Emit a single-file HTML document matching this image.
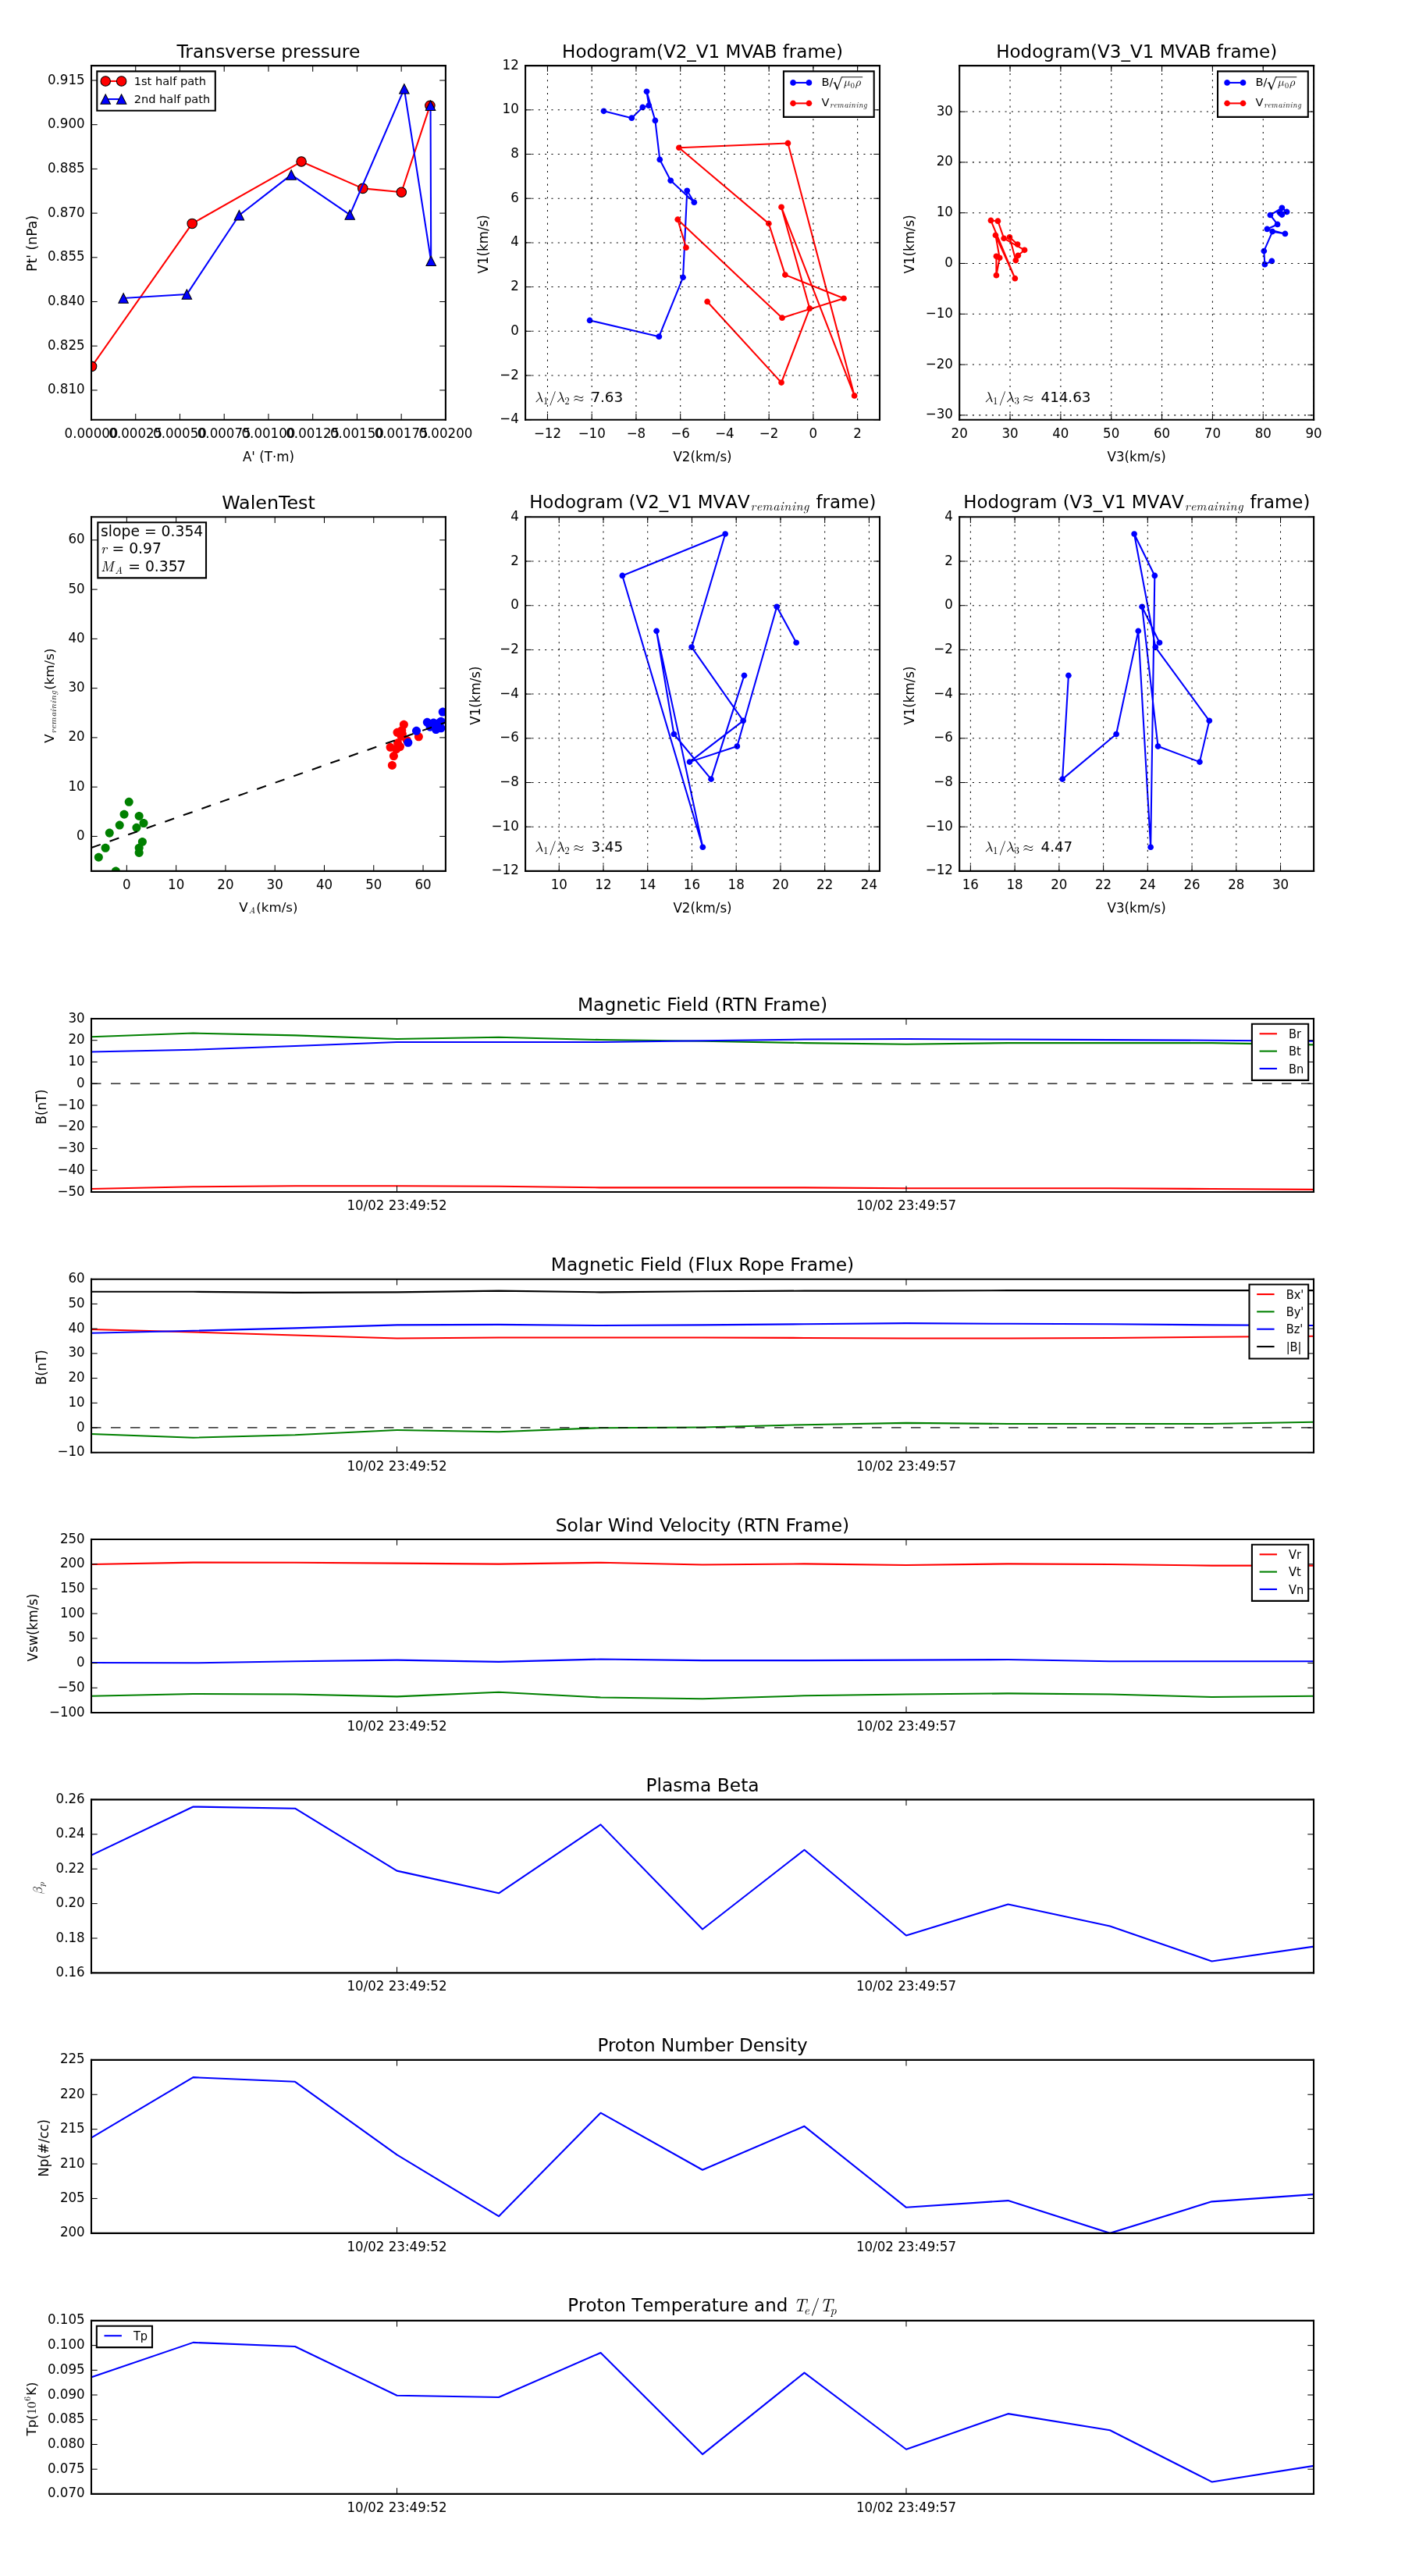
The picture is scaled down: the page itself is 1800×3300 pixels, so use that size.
<!DOCTYPE html>
<html><head><meta charset="utf-8"><title>Flux rope analysis</title>
<style>html,body{margin:0;padding:0;background:#fff;}svg{display:block;will-change:transform;}</style>
</head><body>
<svg width="1800" height="3300" viewBox="0 0 864 1584" version="1.1">
<defs>
<style type="text/css">*{stroke-linejoin: round; stroke-linecap: butt}</style>
</defs>
<g id="figure_1">
<g id="patch_1">
<path d="M 0 1584 L 864 1584 L 864 0 L 0 0 z" style="fill: #ffffff"/>
</g>
<g id="axes_1">
<g id="patch_2">
<path d="M 56.16 258.096 L 274.032 258.096 L 274.032 40.368 L 56.16 40.368 z" style="fill: #ffffff"/>
</g>
<g id="line2d_1">
<path d="M 56.457202 225.294093 L 118.167047 137.470259 L 185.317306 99.387358 L 223.089326 115.864041 L 246.87171 118.195648 L 264.436477 64.879585" clip-path="url(#pbce40ba86c)" style="fill: none; stroke: #ff0000; stroke-linecap: square"/>
<g clip-path="url(#pbce40ba86c)">
<path d="M 0 3 C 0.795609 3 1.55874 2.683901 2.12132 2.12132 C 2.683901 1.55874 3 0.795609 3 0 C 3 -0.795609 2.683901 -1.55874 2.12132 -2.12132 C 1.55874 -2.683901 0.795609 -3 0 -3 C -0.795609 -3 -1.55874 -2.683901 -2.12132 -2.12132 C -2.683901 -1.55874 -3 -0.795609 -3 0 C -3 0.795609 -2.683901 1.55874 -2.12132 2.12132 C -1.55874 2.683901 -0.795609 3 0 3 z" transform="translate(56.457202 225.294093)" style="fill: #ff0000; stroke: #000000; stroke-width: 0.5"/>
<path d="M 0 3 C 0.795609 3 1.55874 2.683901 2.12132 2.12132 C 2.683901 1.55874 3 0.795609 3 0 C 3 -0.795609 2.683901 -1.55874 2.12132 -2.12132 C 1.55874 -2.683901 0.795609 -3 0 -3 C -0.795609 -3 -1.55874 -2.683901 -2.12132 -2.12132 C -2.683901 -1.55874 -3 -0.795609 -3 0 C -3 0.795609 -2.683901 1.55874 -2.12132 2.12132 C -1.55874 2.683901 -0.795609 3 0 3 z" transform="translate(118.167047 137.470259)" style="fill: #ff0000; stroke: #000000; stroke-width: 0.5"/>
<path d="M 0 3 C 0.795609 3 1.55874 2.683901 2.12132 2.12132 C 2.683901 1.55874 3 0.795609 3 0 C 3 -0.795609 2.683901 -1.55874 2.12132 -2.12132 C 1.55874 -2.683901 0.795609 -3 0 -3 C -0.795609 -3 -1.55874 -2.683901 -2.12132 -2.12132 C -2.683901 -1.55874 -3 -0.795609 -3 0 C -3 0.795609 -2.683901 1.55874 -2.12132 2.12132 C -1.55874 2.683901 -0.795609 3 0 3 z" transform="translate(185.317306 99.387358)" style="fill: #ff0000; stroke: #000000; stroke-width: 0.5"/>
<path d="M 0 3 C 0.795609 3 1.55874 2.683901 2.12132 2.12132 C 2.683901 1.55874 3 0.795609 3 0 C 3 -0.795609 2.683901 -1.55874 2.12132 -2.12132 C 1.55874 -2.683901 0.795609 -3 0 -3 C -0.795609 -3 -1.55874 -2.683901 -2.12132 -2.12132 C -2.683901 -1.55874 -3 -0.795609 -3 0 C -3 0.795609 -2.683901 1.55874 -2.12132 2.12132 C -1.55874 2.683901 -0.795609 3 0 3 z" transform="translate(223.089326 115.864041)" style="fill: #ff0000; stroke: #000000; stroke-width: 0.5"/>
<path d="M 0 3 C 0.795609 3 1.55874 2.683901 2.12132 2.12132 C 2.683901 1.55874 3 0.795609 3 0 C 3 -0.795609 2.683901 -1.55874 2.12132 -2.12132 C 1.55874 -2.683901 0.795609 -3 0 -3 C -0.795609 -3 -1.55874 -2.683901 -2.12132 -2.12132 C -2.683901 -1.55874 -3 -0.795609 -3 0 C -3 0.795609 -2.683901 1.55874 -2.12132 2.12132 C -1.55874 2.683901 -0.795609 3 0 3 z" transform="translate(246.87171 118.195648)" style="fill: #ff0000; stroke: #000000; stroke-width: 0.5"/>
<path d="M 0 3 C 0.795609 3 1.55874 2.683901 2.12132 2.12132 C 2.683901 1.55874 3 0.795609 3 0 C 3 -0.795609 2.683901 -1.55874 2.12132 -2.12132 C 1.55874 -2.683901 0.795609 -3 0 -3 C -0.795609 -3 -1.55874 -2.683901 -2.12132 -2.12132 C -2.683901 -1.55874 -3 -0.795609 -3 0 C -3 0.795609 -2.683901 1.55874 -2.12132 2.12132 C -1.55874 2.683901 -0.795609 3 0 3 z" transform="translate(264.436477 64.879585)" style="fill: #ff0000; stroke: #000000; stroke-width: 0.5"/>
</g>
</g>
<g id="line2d_2">
<path d="M 75.887254 183.325181 L 114.902798 180.993575 L 147.078964 132.340725 L 179.099689 107.470259 L 215.161865 132.029845 L 248.581554 54.620518 L 265.058238 160.47544 L 264.747358 64.879585" clip-path="url(#pbce40ba86c)" style="fill: none; stroke: #0000ff; stroke-linecap: square"/>
<g clip-path="url(#pbce40ba86c)">
<path d="M 0 -3 L -3 3 L 3 3 z" transform="translate(75.887254 183.325181)" style="fill: #0000ff; stroke: #000000; stroke-width: 0.5; stroke-linejoin: miter"/>
<path d="M 0 -3 L -3 3 L 3 3 z" transform="translate(114.902798 180.993575)" style="fill: #0000ff; stroke: #000000; stroke-width: 0.5; stroke-linejoin: miter"/>
<path d="M 0 -3 L -3 3 L 3 3 z" transform="translate(147.078964 132.340725)" style="fill: #0000ff; stroke: #000000; stroke-width: 0.5; stroke-linejoin: miter"/>
<path d="M 0 -3 L -3 3 L 3 3 z" transform="translate(179.099689 107.470259)" style="fill: #0000ff; stroke: #000000; stroke-width: 0.5; stroke-linejoin: miter"/>
<path d="M 0 -3 L -3 3 L 3 3 z" transform="translate(215.161865 132.029845)" style="fill: #0000ff; stroke: #000000; stroke-width: 0.5; stroke-linejoin: miter"/>
<path d="M 0 -3 L -3 3 L 3 3 z" transform="translate(248.581554 54.620518)" style="fill: #0000ff; stroke: #000000; stroke-width: 0.5; stroke-linejoin: miter"/>
<path d="M 0 -3 L -3 3 L 3 3 z" transform="translate(265.058238 160.47544)" style="fill: #0000ff; stroke: #000000; stroke-width: 0.5; stroke-linejoin: miter"/>
<path d="M 0 -3 L -3 3 L 3 3 z" transform="translate(264.747358 64.879585)" style="fill: #0000ff; stroke: #000000; stroke-width: 0.5; stroke-linejoin: miter"/>
</g>
</g>
<g id="patch_3">
<path d="M 56.16 258.096 L 56.16 40.368" style="fill: none; stroke: #000000; stroke-linejoin: miter; stroke-linecap: square"/>
</g>
<g id="patch_4">
<path d="M 274.032 258.096 L 274.032 40.368" style="fill: none; stroke: #000000; stroke-linejoin: miter; stroke-linecap: square"/>
</g>
<g id="patch_5">
<path d="M 56.16 258.096 L 274.032 258.096" style="fill: none; stroke: #000000; stroke-linejoin: miter; stroke-linecap: square"/>
</g>
<g id="patch_6">
<path d="M 56.16 40.368 L 274.032 40.368" style="fill: none; stroke: #000000; stroke-linejoin: miter; stroke-linecap: square"/>
</g>
<g id="matplotlib.axis_1">
<g id="xtick_1">
<g id="line2d_3">
<g>
<path d="M 0 0 L 0 -3.7" transform="translate(56.16 258.096)" style="stroke: #000000; stroke-width: 0.5"/>
</g>
</g>
<g id="line2d_4">
<g>
<path d="M 0 0 L 0 3.7" transform="translate(56.16 40.368)" style="stroke: #000000; stroke-width: 0.5"/>
</g>
</g>
<g id="text_1">
<text style="font-size: 8px; font-family: 'DejaVu Sans', 'Liberation Sans', sans-serif; text-anchor: middle" x="56.16" y="269.17475" transform="rotate(-0 56.16 269.17475) translate(56.16 269.17475) scale(1 1.060) translate(-56.16 -269.17475)">0.00000</text>
</g>
</g>
<g id="xtick_2">
<g id="line2d_5">
<g>
<path d="M 0 0 L 0 -3.7" transform="translate(83.394 258.096)" style="stroke: #000000; stroke-width: 0.5"/>
</g>
</g>
<g id="line2d_6">
<g>
<path d="M 0 0 L 0 3.7" transform="translate(83.394 40.368)" style="stroke: #000000; stroke-width: 0.5"/>
</g>
</g>
<g id="text_2">
<text style="font-size: 8px; font-family: 'DejaVu Sans', 'Liberation Sans', sans-serif; text-anchor: middle" x="83.394" y="269.17475" transform="rotate(-0 83.394 269.17475) translate(83.394 269.17475) scale(1 1.060) translate(-83.394 -269.17475)">0.00025</text>
</g>
</g>
<g id="xtick_3">
<g id="line2d_7">
<g>
<path d="M 0 0 L 0 -3.7" transform="translate(110.628 258.096)" style="stroke: #000000; stroke-width: 0.5"/>
</g>
</g>
<g id="line2d_8">
<g>
<path d="M 0 0 L 0 3.7" transform="translate(110.628 40.368)" style="stroke: #000000; stroke-width: 0.5"/>
</g>
</g>
<g id="text_3">
<text style="font-size: 8px; font-family: 'DejaVu Sans', 'Liberation Sans', sans-serif; text-anchor: middle" x="110.628" y="269.17475" transform="rotate(-0 110.628 269.17475) translate(110.628 269.17475) scale(1 1.060) translate(-110.628 -269.17475)">0.00050</text>
</g>
</g>
<g id="xtick_4">
<g id="line2d_9">
<g>
<path d="M 0 0 L 0 -3.7" transform="translate(137.862 258.096)" style="stroke: #000000; stroke-width: 0.5"/>
</g>
</g>
<g id="line2d_10">
<g>
<path d="M 0 0 L 0 3.7" transform="translate(137.862 40.368)" style="stroke: #000000; stroke-width: 0.5"/>
</g>
</g>
<g id="text_4">
<text style="font-size: 8px; font-family: 'DejaVu Sans', 'Liberation Sans', sans-serif; text-anchor: middle" x="137.862" y="269.17475" transform="rotate(-0 137.862 269.17475) translate(137.862 269.17475) scale(1 1.060) translate(-137.862 -269.17475)">0.00075</text>
</g>
</g>
<g id="xtick_5">
<g id="line2d_11">
<g>
<path d="M 0 0 L 0 -3.7" transform="translate(165.096 258.096)" style="stroke: #000000; stroke-width: 0.5"/>
</g>
</g>
<g id="line2d_12">
<g>
<path d="M 0 0 L 0 3.7" transform="translate(165.096 40.368)" style="stroke: #000000; stroke-width: 0.5"/>
</g>
</g>
<g id="text_5">
<text style="font-size: 8px; font-family: 'DejaVu Sans', 'Liberation Sans', sans-serif; text-anchor: middle" x="165.096" y="269.17475" transform="rotate(-0 165.096 269.17475) translate(165.096 269.17475) scale(1 1.060) translate(-165.096 -269.17475)">0.00100</text>
</g>
</g>
<g id="xtick_6">
<g id="line2d_13">
<g>
<path d="M 0 0 L 0 -3.7" transform="translate(192.33 258.096)" style="stroke: #000000; stroke-width: 0.5"/>
</g>
</g>
<g id="line2d_14">
<g>
<path d="M 0 0 L 0 3.7" transform="translate(192.33 40.368)" style="stroke: #000000; stroke-width: 0.5"/>
</g>
</g>
<g id="text_6">
<text style="font-size: 8px; font-family: 'DejaVu Sans', 'Liberation Sans', sans-serif; text-anchor: middle" x="192.33" y="269.17475" transform="rotate(-0 192.33 269.17475) translate(192.33 269.17475) scale(1 1.060) translate(-192.33 -269.17475)">0.00125</text>
</g>
</g>
<g id="xtick_7">
<g id="line2d_15">
<g>
<path d="M 0 0 L 0 -3.7" transform="translate(219.564 258.096)" style="stroke: #000000; stroke-width: 0.5"/>
</g>
</g>
<g id="line2d_16">
<g>
<path d="M 0 0 L 0 3.7" transform="translate(219.564 40.368)" style="stroke: #000000; stroke-width: 0.5"/>
</g>
</g>
<g id="text_7">
<text style="font-size: 8px; font-family: 'DejaVu Sans', 'Liberation Sans', sans-serif; text-anchor: middle" x="219.564" y="269.17475" transform="rotate(-0 219.564 269.17475) translate(219.564 269.17475) scale(1 1.060) translate(-219.564 -269.17475)">0.00150</text>
</g>
</g>
<g id="xtick_8">
<g id="line2d_17">
<g>
<path d="M 0 0 L 0 -3.7" transform="translate(246.798 258.096)" style="stroke: #000000; stroke-width: 0.5"/>
</g>
</g>
<g id="line2d_18">
<g>
<path d="M 0 0 L 0 3.7" transform="translate(246.798 40.368)" style="stroke: #000000; stroke-width: 0.5"/>
</g>
</g>
<g id="text_8">
<text style="font-size: 8px; font-family: 'DejaVu Sans', 'Liberation Sans', sans-serif; text-anchor: middle" x="246.798" y="269.17475" transform="rotate(-0 246.798 269.17475) translate(246.798 269.17475) scale(1 1.060) translate(-246.798 -269.17475)">0.00175</text>
</g>
</g>
<g id="xtick_9">
<g id="line2d_19">
<g>
<path d="M 0 0 L 0 -3.7" transform="translate(274.032 258.096)" style="stroke: #000000; stroke-width: 0.5"/>
</g>
</g>
<g id="line2d_20">
<g>
<path d="M 0 0 L 0 3.7" transform="translate(274.032 40.368)" style="stroke: #000000; stroke-width: 0.5"/>
</g>
</g>
<g id="text_9">
<text style="font-size: 8px; font-family: 'DejaVu Sans', 'Liberation Sans', sans-serif; text-anchor: middle" x="274.032" y="269.17475" transform="rotate(-0 274.032 269.17475) translate(274.032 269.17475) scale(1 1.060) translate(-274.032 -269.17475)">0.00200</text>
</g>
</g>
<g id="text_10">
<text style="font-size: 8px; font-family: 'DejaVu Sans', 'Liberation Sans', sans-serif; text-anchor: middle" x="165.096" y="283.81725" transform="rotate(-0 165.096 283.81725) translate(165.096 283.81725) scale(1 1.060) translate(-165.096 -283.81725)">A' (T·m)</text>
</g>
</g>
<g id="matplotlib.axis_2">
<g id="ytick_1">
<g id="line2d_21">
<g>
<path d="M 0 0 L 3.7 0" transform="translate(56.16 239.952)" style="stroke: #000000; stroke-width: 0.5"/>
</g>
</g>
<g id="line2d_22">
<g>
<path d="M 0 0 L -3.7 0" transform="translate(274.032 239.952)" style="stroke: #000000; stroke-width: 0.5"/>
</g>
</g>
<g id="text_11">
<text style="font-size: 8px; font-family: 'DejaVu Sans', 'Liberation Sans', sans-serif; text-anchor: end" x="52.16" y="242.1595" transform="rotate(-0 52.16 242.1595) translate(52.16 242.1595) scale(1 1.060) translate(-52.16 -242.1595)">0.810</text>
</g>
</g>
<g id="ytick_2">
<g id="line2d_23">
<g>
<path d="M 0 0 L 3.7 0" transform="translate(56.16 212.736)" style="stroke: #000000; stroke-width: 0.5"/>
</g>
</g>
<g id="line2d_24">
<g>
<path d="M 0 0 L -3.7 0" transform="translate(274.032 212.736)" style="stroke: #000000; stroke-width: 0.5"/>
</g>
</g>
<g id="text_12">
<text style="font-size: 8px; font-family: 'DejaVu Sans', 'Liberation Sans', sans-serif; text-anchor: end" x="52.16" y="214.9435" transform="rotate(-0 52.16 214.9435) translate(52.16 214.9435) scale(1 1.060) translate(-52.16 -214.9435)">0.825</text>
</g>
</g>
<g id="ytick_3">
<g id="line2d_25">
<g>
<path d="M 0 0 L 3.7 0" transform="translate(56.16 185.52)" style="stroke: #000000; stroke-width: 0.5"/>
</g>
</g>
<g id="line2d_26">
<g>
<path d="M 0 0 L -3.7 0" transform="translate(274.032 185.52)" style="stroke: #000000; stroke-width: 0.5"/>
</g>
</g>
<g id="text_13">
<text style="font-size: 8px; font-family: 'DejaVu Sans', 'Liberation Sans', sans-serif; text-anchor: end" x="52.16" y="187.7275" transform="rotate(-0 52.16 187.7275) translate(52.16 187.7275) scale(1 1.060) translate(-52.16 -187.7275)">0.840</text>
</g>
</g>
<g id="ytick_4">
<g id="line2d_27">
<g>
<path d="M 0 0 L 3.7 0" transform="translate(56.16 158.304)" style="stroke: #000000; stroke-width: 0.5"/>
</g>
</g>
<g id="line2d_28">
<g>
<path d="M 0 0 L -3.7 0" transform="translate(274.032 158.304)" style="stroke: #000000; stroke-width: 0.5"/>
</g>
</g>
<g id="text_14">
<text style="font-size: 8px; font-family: 'DejaVu Sans', 'Liberation Sans', sans-serif; text-anchor: end" x="52.16" y="160.5115" transform="rotate(-0 52.16 160.5115) translate(52.16 160.5115) scale(1 1.060) translate(-52.16 -160.5115)">0.855</text>
</g>
</g>
<g id="ytick_5">
<g id="line2d_29">
<g>
<path d="M 0 0 L 3.7 0" transform="translate(56.16 131.088)" style="stroke: #000000; stroke-width: 0.5"/>
</g>
</g>
<g id="line2d_30">
<g>
<path d="M 0 0 L -3.7 0" transform="translate(274.032 131.088)" style="stroke: #000000; stroke-width: 0.5"/>
</g>
</g>
<g id="text_15">
<text style="font-size: 8px; font-family: 'DejaVu Sans', 'Liberation Sans', sans-serif; text-anchor: end" x="52.16" y="133.2955" transform="rotate(-0 52.16 133.2955) translate(52.16 133.2955) scale(1 1.060) translate(-52.16 -133.2955)">0.870</text>
</g>
</g>
<g id="ytick_6">
<g id="line2d_31">
<g>
<path d="M 0 0 L 3.7 0" transform="translate(56.16 103.872)" style="stroke: #000000; stroke-width: 0.5"/>
</g>
</g>
<g id="line2d_32">
<g>
<path d="M 0 0 L -3.7 0" transform="translate(274.032 103.872)" style="stroke: #000000; stroke-width: 0.5"/>
</g>
</g>
<g id="text_16">
<text style="font-size: 8px; font-family: 'DejaVu Sans', 'Liberation Sans', sans-serif; text-anchor: end" x="52.16" y="106.0795" transform="rotate(-0 52.16 106.0795) translate(52.16 106.0795) scale(1 1.060) translate(-52.16 -106.0795)">0.885</text>
</g>
</g>
<g id="ytick_7">
<g id="line2d_33">
<g>
<path d="M 0 0 L 3.7 0" transform="translate(56.16 76.656)" style="stroke: #000000; stroke-width: 0.5"/>
</g>
</g>
<g id="line2d_34">
<g>
<path d="M 0 0 L -3.7 0" transform="translate(274.032 76.656)" style="stroke: #000000; stroke-width: 0.5"/>
</g>
</g>
<g id="text_17">
<text style="font-size: 8px; font-family: 'DejaVu Sans', 'Liberation Sans', sans-serif; text-anchor: end" x="52.16" y="78.8635" transform="rotate(-0 52.16 78.8635) translate(52.16 78.8635) scale(1 1.060) translate(-52.16 -78.8635)">0.900</text>
</g>
</g>
<g id="ytick_8">
<g id="line2d_35">
<g>
<path d="M 0 0 L 3.7 0" transform="translate(56.16 49.44)" style="stroke: #000000; stroke-width: 0.5"/>
</g>
</g>
<g id="line2d_36">
<g>
<path d="M 0 0 L -3.7 0" transform="translate(274.032 49.44)" style="stroke: #000000; stroke-width: 0.5"/>
</g>
</g>
<g id="text_18">
<text style="font-size: 8px; font-family: 'DejaVu Sans', 'Liberation Sans', sans-serif; text-anchor: end" x="52.16" y="51.6475" transform="rotate(-0 52.16 51.6475) translate(52.16 51.6475) scale(1 1.060) translate(-52.16 -51.6475)">0.915</text>
</g>
</g>
<g id="text_19">
<text style="font-size: 8.3px; font-family: 'DejaVu Sans', 'Liberation Sans', sans-serif; text-anchor: middle" x="22.531359" y="149.712" transform="rotate(-90 22.531359 149.712)">Pt' (nPa)</text>
</g>
</g>
<g id="text_20">
<text style="font-size: 11.2448px; font-family: 'DejaVu Sans', 'Liberation Sans', sans-serif; text-anchor: middle" x="165.096" y="35.368" transform="rotate(-0 165.096 35.368)">Transverse pressure</text>
</g>
<g id="legend_1">
<g id="patch_7">
<path d="M 59.66 68.036375 L 132.392188 68.036375 L 132.392188 43.868 L 59.66 43.868 z" style="fill: #ffffff; stroke: #000000; stroke-linejoin: miter"/>
</g>
<g id="line2d_37">
<path d="M 64.91 49.886906 L 74.71 49.886906" style="fill: none; stroke: #ff0000; stroke-linecap: square"/>
<g>
<path d="M 0 3 C 0.795609 3 1.55874 2.683901 2.12132 2.12132 C 2.683901 1.55874 3 0.795609 3 0 C 3 -0.795609 2.683901 -1.55874 2.12132 -2.12132 C 1.55874 -2.683901 0.795609 -3 0 -3 C -0.795609 -3 -1.55874 -2.683901 -2.12132 -2.12132 C -2.683901 -1.55874 -3 -0.795609 -3 0 C -3 0.795609 -2.683901 1.55874 -2.12132 2.12132 C -1.55874 2.683901 -0.795609 3 0 3 z" transform="translate(64.91 49.886906)" style="fill: #ff0000; stroke: #000000; stroke-width: 0.5"/>
<path d="M 0 3 C 0.795609 3 1.55874 2.683901 2.12132 2.12132 C 2.683901 1.55874 3 0.795609 3 0 C 3 -0.795609 2.683901 -1.55874 2.12132 -2.12132 C 1.55874 -2.683901 0.795609 -3 0 -3 C -0.795609 -3 -1.55874 -2.683901 -2.12132 -2.12132 C -2.683901 -1.55874 -3 -0.795609 -3 0 C -3 0.795609 -2.683901 1.55874 -2.12132 2.12132 C -1.55874 2.683901 -0.795609 3 0 3 z" transform="translate(74.71 49.886906)" style="fill: #ff0000; stroke: #000000; stroke-width: 0.5"/>
</g>
</g>
<g id="text_21">
<text style="font-size: 7px; font-family: 'DejaVu Sans', 'Liberation Sans', sans-serif; text-anchor: start" x="82.41" y="52.336906" transform="rotate(-0 82.41 52.336906)">1st half path</text>
</g>
<g id="line2d_38">
<path d="M 64.91 60.980594 L 74.71 60.980594" style="fill: none; stroke: #0000ff; stroke-linecap: square"/>
<g>
<path d="M 0 -3 L -3 3 L 3 3 z" transform="translate(64.91 60.980594)" style="fill: #0000ff; stroke: #000000; stroke-width: 0.5; stroke-linejoin: miter"/>
<path d="M 0 -3 L -3 3 L 3 3 z" transform="translate(74.71 60.980594)" style="fill: #0000ff; stroke: #000000; stroke-width: 0.5; stroke-linejoin: miter"/>
</g>
</g>
<g id="text_22">
<text style="font-size: 7px; font-family: 'DejaVu Sans', 'Liberation Sans', sans-serif; text-anchor: start" x="82.41" y="63.430594" transform="rotate(-0 82.41 63.430594)">2nd half path</text>
</g>
</g>
</g>
<g id="axes_2">
<g id="patch_8">
<path d="M 323.088 258.096 L 540.96 258.096 L 540.96 40.368 L 323.088 40.368 z" style="fill: #ffffff"/>
</g>
<g id="line2d_39">
<path d="M 362.677306 197.003938 L 405.267979 206.952124 L 420.034819 170.579067 L 422.521865 117.263005 L 426.874197 124.413264 L 412.418238 111.045389 L 405.734301 98.143834 L 402.912 74.112 L 397.68 56.304 L 398.976 64.896 L 395.184 65.952 L 388.464 72.576 L 371.28 68.304" clip-path="url(#pabd5baab2b)" style="fill: none; stroke: #0000ff; stroke-linecap: square"/>
<g clip-path="url(#pabd5baab2b)">
<path d="M 0 1.85 C 0.490626 1.85 0.961223 1.655072 1.308148 1.308148 C 1.655072 0.961223 1.85 0.490626 1.85 0 C 1.85 -0.490626 1.655072 -0.961223 1.308148 -1.308148 C 0.961223 -1.655072 0.490626 -1.85 0 -1.85 C -0.490626 -1.85 -0.961223 -1.655072 -1.308148 -1.308148 C -1.655072 -0.961223 -1.85 -0.490626 -1.85 0 C -1.85 0.490626 -1.655072 0.961223 -1.308148 1.308148 C -0.961223 1.655072 -0.490626 1.85 0 1.85 z" transform="translate(362.677306 197.003938)" style="fill: #0000ff"/>
<path d="M 0 1.85 C 0.490626 1.85 0.961223 1.655072 1.308148 1.308148 C 1.655072 0.961223 1.85 0.490626 1.85 0 C 1.85 -0.490626 1.655072 -0.961223 1.308148 -1.308148 C 0.961223 -1.655072 0.490626 -1.85 0 -1.85 C -0.490626 -1.85 -0.961223 -1.655072 -1.308148 -1.308148 C -1.655072 -0.961223 -1.85 -0.490626 -1.85 0 C -1.85 0.490626 -1.655072 0.961223 -1.308148 1.308148 C -0.961223 1.655072 -0.490626 1.85 0 1.85 z" transform="translate(405.267979 206.952124)" style="fill: #0000ff"/>
<path d="M 0 1.85 C 0.490626 1.85 0.961223 1.655072 1.308148 1.308148 C 1.655072 0.961223 1.85 0.490626 1.85 0 C 1.85 -0.490626 1.655072 -0.961223 1.308148 -1.308148 C 0.961223 -1.655072 0.490626 -1.85 0 -1.85 C -0.490626 -1.85 -0.961223 -1.655072 -1.308148 -1.308148 C -1.655072 -0.961223 -1.85 -0.490626 -1.85 0 C -1.85 0.490626 -1.655072 0.961223 -1.308148 1.308148 C -0.961223 1.655072 -0.490626 1.85 0 1.85 z" transform="translate(420.034819 170.579067)" style="fill: #0000ff"/>
<path d="M 0 1.85 C 0.490626 1.85 0.961223 1.655072 1.308148 1.308148 C 1.655072 0.961223 1.85 0.490626 1.85 0 C 1.85 -0.490626 1.655072 -0.961223 1.308148 -1.308148 C 0.961223 -1.655072 0.490626 -1.85 0 -1.85 C -0.490626 -1.85 -0.961223 -1.655072 -1.308148 -1.308148 C -1.655072 -0.961223 -1.85 -0.490626 -1.85 0 C -1.85 0.490626 -1.655072 0.961223 -1.308148 1.308148 C -0.961223 1.655072 -0.490626 1.85 0 1.85 z" transform="translate(422.521865 117.263005)" style="fill: #0000ff"/>
<path d="M 0 1.85 C 0.490626 1.85 0.961223 1.655072 1.308148 1.308148 C 1.655072 0.961223 1.85 0.490626 1.85 0 C 1.85 -0.490626 1.655072 -0.961223 1.308148 -1.308148 C 0.961223 -1.655072 0.490626 -1.85 0 -1.85 C -0.490626 -1.85 -0.961223 -1.655072 -1.308148 -1.308148 C -1.655072 -0.961223 -1.85 -0.490626 -1.85 0 C -1.85 0.490626 -1.655072 0.961223 -1.308148 1.308148 C -0.961223 1.655072 -0.490626 1.85 0 1.85 z" transform="translate(426.874197 124.413264)" style="fill: #0000ff"/>
<path d="M 0 1.85 C 0.490626 1.85 0.961223 1.655072 1.308148 1.308148 C 1.655072 0.961223 1.85 0.490626 1.85 0 C 1.85 -0.490626 1.655072 -0.961223 1.308148 -1.308148 C 0.961223 -1.655072 0.490626 -1.85 0 -1.85 C -0.490626 -1.85 -0.961223 -1.655072 -1.308148 -1.308148 C -1.655072 -0.961223 -1.85 -0.490626 -1.85 0 C -1.85 0.490626 -1.655072 0.961223 -1.308148 1.308148 C -0.961223 1.655072 -0.490626 1.85 0 1.85 z" transform="translate(412.418238 111.045389)" style="fill: #0000ff"/>
<path d="M 0 1.85 C 0.490626 1.85 0.961223 1.655072 1.308148 1.308148 C 1.655072 0.961223 1.85 0.490626 1.85 0 C 1.85 -0.490626 1.655072 -0.961223 1.308148 -1.308148 C 0.961223 -1.655072 0.490626 -1.85 0 -1.85 C -0.490626 -1.85 -0.961223 -1.655072 -1.308148 -1.308148 C -1.655072 -0.961223 -1.85 -0.490626 -1.85 0 C -1.85 0.490626 -1.655072 0.961223 -1.308148 1.308148 C -0.961223 1.655072 -0.490626 1.85 0 1.85 z" transform="translate(405.734301 98.143834)" style="fill: #0000ff"/>
<path d="M 0 1.85 C 0.490626 1.85 0.961223 1.655072 1.308148 1.308148 C 1.655072 0.961223 1.85 0.490626 1.85 0 C 1.85 -0.490626 1.655072 -0.961223 1.308148 -1.308148 C 0.961223 -1.655072 0.490626 -1.85 0 -1.85 C -0.490626 -1.85 -0.961223 -1.655072 -1.308148 -1.308148 C -1.655072 -0.961223 -1.85 -0.490626 -1.85 0 C -1.85 0.490626 -1.655072 0.961223 -1.308148 1.308148 C -0.961223 1.655072 -0.490626 1.85 0 1.85 z" transform="translate(402.912 74.112)" style="fill: #0000ff"/>
<path d="M 0 1.85 C 0.490626 1.85 0.961223 1.655072 1.308148 1.308148 C 1.655072 0.961223 1.85 0.490626 1.85 0 C 1.85 -0.490626 1.655072 -0.961223 1.308148 -1.308148 C 0.961223 -1.655072 0.490626 -1.85 0 -1.85 C -0.490626 -1.85 -0.961223 -1.655072 -1.308148 -1.308148 C -1.655072 -0.961223 -1.85 -0.490626 -1.85 0 C -1.85 0.490626 -1.655072 0.961223 -1.308148 1.308148 C -0.961223 1.655072 -0.490626 1.85 0 1.85 z" transform="translate(397.68 56.304)" style="fill: #0000ff"/>
<path d="M 0 1.85 C 0.490626 1.85 0.961223 1.655072 1.308148 1.308148 C 1.655072 0.961223 1.85 0.490626 1.85 0 C 1.85 -0.490626 1.655072 -0.961223 1.308148 -1.308148 C 0.961223 -1.655072 0.490626 -1.85 0 -1.85 C -0.490626 -1.85 -0.961223 -1.655072 -1.308148 -1.308148 C -1.655072 -0.961223 -1.85 -0.490626 -1.85 0 C -1.85 0.490626 -1.655072 0.961223 -1.308148 1.308148 C -0.961223 1.655072 -0.490626 1.85 0 1.85 z" transform="translate(398.976 64.896)" style="fill: #0000ff"/>
<path d="M 0 1.85 C 0.490626 1.85 0.961223 1.655072 1.308148 1.308148 C 1.655072 0.961223 1.85 0.490626 1.85 0 C 1.85 -0.490626 1.655072 -0.961223 1.308148 -1.308148 C 0.961223 -1.655072 0.490626 -1.85 0 -1.85 C -0.490626 -1.85 -0.961223 -1.655072 -1.308148 -1.308148 C -1.655072 -0.961223 -1.85 -0.490626 -1.85 0 C -1.85 0.490626 -1.655072 0.961223 -1.308148 1.308148 C -0.961223 1.655072 -0.490626 1.85 0 1.85 z" transform="translate(395.184 65.952)" style="fill: #0000ff"/>
<path d="M 0 1.85 C 0.490626 1.85 0.961223 1.655072 1.308148 1.308148 C 1.655072 0.961223 1.85 0.490626 1.85 0 C 1.85 -0.490626 1.655072 -0.961223 1.308148 -1.308148 C 0.961223 -1.655072 0.490626 -1.85 0 -1.85 C -0.490626 -1.85 -0.961223 -1.655072 -1.308148 -1.308148 C -1.655072 -0.961223 -1.85 -0.490626 -1.85 0 C -1.85 0.490626 -1.655072 0.961223 -1.308148 1.308148 C -0.961223 1.655072 -0.490626 1.85 0 1.85 z" transform="translate(388.464 72.576)" style="fill: #0000ff"/>
<path d="M 0 1.85 C 0.490626 1.85 0.961223 1.655072 1.308148 1.308148 C 1.655072 0.961223 1.85 0.490626 1.85 0 C 1.85 -0.490626 1.655072 -0.961223 1.308148 -1.308148 C 0.961223 -1.655072 0.490626 -1.85 0 -1.85 C -0.490626 -1.85 -0.961223 -1.655072 -1.308148 -1.308148 C -1.655072 -0.961223 -1.85 -0.490626 -1.85 0 C -1.85 0.490626 -1.655072 0.961223 -1.308148 1.308148 C -0.961223 1.655072 -0.490626 1.85 0 1.85 z" transform="translate(371.28 68.304)" style="fill: #0000ff"/>
</g>
</g>
<g id="line2d_40">
<path d="M 434.957098 185.501347 L 480.50114 235.24228 L 497.910466 189.698238 L 480.50114 127.366632 L 525.42342 243.325181 L 484.542591 88.040207 L 417.547772 90.838135 L 472.729119 137.470259 L 482.832746 169.024663 L 518.894922 183.480622 L 480.967461 195.449534 L 416.77057 134.983212 L 421.900104 152.237098" clip-path="url(#pabd5baab2b)" style="fill: none; stroke: #ff0000; stroke-linecap: square"/>
<g clip-path="url(#pabd5baab2b)">
<path d="M 0 1.85 C 0.490626 1.85 0.961223 1.655072 1.308148 1.308148 C 1.655072 0.961223 1.85 0.490626 1.85 0 C 1.85 -0.490626 1.655072 -0.961223 1.308148 -1.308148 C 0.961223 -1.655072 0.490626 -1.85 0 -1.85 C -0.490626 -1.85 -0.961223 -1.655072 -1.308148 -1.308148 C -1.655072 -0.961223 -1.85 -0.490626 -1.85 0 C -1.85 0.490626 -1.655072 0.961223 -1.308148 1.308148 C -0.961223 1.655072 -0.490626 1.85 0 1.85 z" transform="translate(434.957098 185.501347)" style="fill: #ff0000"/>
<path d="M 0 1.85 C 0.490626 1.85 0.961223 1.655072 1.308148 1.308148 C 1.655072 0.961223 1.85 0.490626 1.85 0 C 1.85 -0.490626 1.655072 -0.961223 1.308148 -1.308148 C 0.961223 -1.655072 0.490626 -1.85 0 -1.85 C -0.490626 -1.85 -0.961223 -1.655072 -1.308148 -1.308148 C -1.655072 -0.961223 -1.85 -0.490626 -1.85 0 C -1.85 0.490626 -1.655072 0.961223 -1.308148 1.308148 C -0.961223 1.655072 -0.490626 1.85 0 1.85 z" transform="translate(480.50114 235.24228)" style="fill: #ff0000"/>
<path d="M 0 1.85 C 0.490626 1.85 0.961223 1.655072 1.308148 1.308148 C 1.655072 0.961223 1.85 0.490626 1.85 0 C 1.85 -0.490626 1.655072 -0.961223 1.308148 -1.308148 C 0.961223 -1.655072 0.490626 -1.85 0 -1.85 C -0.490626 -1.85 -0.961223 -1.655072 -1.308148 -1.308148 C -1.655072 -0.961223 -1.85 -0.490626 -1.85 0 C -1.85 0.490626 -1.655072 0.961223 -1.308148 1.308148 C -0.961223 1.655072 -0.490626 1.85 0 1.85 z" transform="translate(497.910466 189.698238)" style="fill: #ff0000"/>
<path d="M 0 1.85 C 0.490626 1.85 0.961223 1.655072 1.308148 1.308148 C 1.655072 0.961223 1.85 0.490626 1.85 0 C 1.85 -0.490626 1.655072 -0.961223 1.308148 -1.308148 C 0.961223 -1.655072 0.490626 -1.85 0 -1.85 C -0.490626 -1.85 -0.961223 -1.655072 -1.308148 -1.308148 C -1.655072 -0.961223 -1.85 -0.490626 -1.85 0 C -1.85 0.490626 -1.655072 0.961223 -1.308148 1.308148 C -0.961223 1.655072 -0.490626 1.85 0 1.85 z" transform="translate(480.50114 127.366632)" style="fill: #ff0000"/>
<path d="M 0 1.85 C 0.490626 1.85 0.961223 1.655072 1.308148 1.308148 C 1.655072 0.961223 1.85 0.490626 1.85 0 C 1.85 -0.490626 1.655072 -0.961223 1.308148 -1.308148 C 0.961223 -1.655072 0.490626 -1.85 0 -1.85 C -0.490626 -1.85 -0.961223 -1.655072 -1.308148 -1.308148 C -1.655072 -0.961223 -1.85 -0.490626 -1.85 0 C -1.85 0.490626 -1.655072 0.961223 -1.308148 1.308148 C -0.961223 1.655072 -0.490626 1.85 0 1.85 z" transform="translate(525.42342 243.325181)" style="fill: #ff0000"/>
<path d="M 0 1.85 C 0.490626 1.85 0.961223 1.655072 1.308148 1.308148 C 1.655072 0.961223 1.85 0.490626 1.85 0 C 1.85 -0.490626 1.655072 -0.961223 1.308148 -1.308148 C 0.961223 -1.655072 0.490626 -1.85 0 -1.85 C -0.490626 -1.85 -0.961223 -1.655072 -1.308148 -1.308148 C -1.655072 -0.961223 -1.85 -0.490626 -1.85 0 C -1.85 0.490626 -1.655072 0.961223 -1.308148 1.308148 C -0.961223 1.655072 -0.490626 1.85 0 1.85 z" transform="translate(484.542591 88.040207)" style="fill: #ff0000"/>
<path d="M 0 1.85 C 0.490626 1.85 0.961223 1.655072 1.308148 1.308148 C 1.655072 0.961223 1.85 0.490626 1.85 0 C 1.85 -0.490626 1.655072 -0.961223 1.308148 -1.308148 C 0.961223 -1.655072 0.490626 -1.85 0 -1.85 C -0.490626 -1.85 -0.961223 -1.655072 -1.308148 -1.308148 C -1.655072 -0.961223 -1.85 -0.490626 -1.85 0 C -1.85 0.490626 -1.655072 0.961223 -1.308148 1.308148 C -0.961223 1.655072 -0.490626 1.85 0 1.85 z" transform="translate(417.547772 90.838135)" style="fill: #ff0000"/>
<path d="M 0 1.85 C 0.490626 1.85 0.961223 1.655072 1.308148 1.308148 C 1.655072 0.961223 1.85 0.490626 1.85 0 C 1.85 -0.490626 1.655072 -0.961223 1.308148 -1.308148 C 0.961223 -1.655072 0.490626 -1.85 0 -1.85 C -0.490626 -1.85 -0.961223 -1.655072 -1.308148 -1.308148 C -1.655072 -0.961223 -1.85 -0.490626 -1.85 0 C -1.85 0.490626 -1.655072 0.961223 -1.308148 1.308148 C -0.961223 1.655072 -0.490626 1.85 0 1.85 z" transform="translate(472.729119 137.470259)" style="fill: #ff0000"/>
<path d="M 0 1.85 C 0.490626 1.85 0.961223 1.655072 1.308148 1.308148 C 1.655072 0.961223 1.85 0.490626 1.85 0 C 1.85 -0.490626 1.655072 -0.961223 1.308148 -1.308148 C 0.961223 -1.655072 0.490626 -1.85 0 -1.85 C -0.490626 -1.85 -0.961223 -1.655072 -1.308148 -1.308148 C -1.655072 -0.961223 -1.85 -0.490626 -1.85 0 C -1.85 0.490626 -1.655072 0.961223 -1.308148 1.308148 C -0.961223 1.655072 -0.490626 1.85 0 1.85 z" transform="translate(482.832746 169.024663)" style="fill: #ff0000"/>
<path d="M 0 1.85 C 0.490626 1.85 0.961223 1.655072 1.308148 1.308148 C 1.655072 0.961223 1.85 0.490626 1.85 0 C 1.85 -0.490626 1.655072 -0.961223 1.308148 -1.308148 C 0.961223 -1.655072 0.490626 -1.85 0 -1.85 C -0.490626 -1.85 -0.961223 -1.655072 -1.308148 -1.308148 C -1.655072 -0.961223 -1.85 -0.490626 -1.85 0 C -1.85 0.490626 -1.655072 0.961223 -1.308148 1.308148 C -0.961223 1.655072 -0.490626 1.85 0 1.85 z" transform="translate(518.894922 183.480622)" style="fill: #ff0000"/>
<path d="M 0 1.85 C 0.490626 1.85 0.961223 1.655072 1.308148 1.308148 C 1.655072 0.961223 1.85 0.490626 1.85 0 C 1.85 -0.490626 1.655072 -0.961223 1.308148 -1.308148 C 0.961223 -1.655072 0.490626 -1.85 0 -1.85 C -0.490626 -1.85 -0.961223 -1.655072 -1.308148 -1.308148 C -1.655072 -0.961223 -1.85 -0.490626 -1.85 0 C -1.85 0.490626 -1.655072 0.961223 -1.308148 1.308148 C -0.961223 1.655072 -0.490626 1.85 0 1.85 z" transform="translate(480.967461 195.449534)" style="fill: #ff0000"/>
<path d="M 0 1.85 C 0.490626 1.85 0.961223 1.655072 1.308148 1.308148 C 1.655072 0.961223 1.85 0.490626 1.85 0 C 1.85 -0.490626 1.655072 -0.961223 1.308148 -1.308148 C 0.961223 -1.655072 0.490626 -1.85 0 -1.85 C -0.490626 -1.85 -0.961223 -1.655072 -1.308148 -1.308148 C -1.655072 -0.961223 -1.85 -0.490626 -1.85 0 C -1.85 0.490626 -1.655072 0.961223 -1.308148 1.308148 C -0.961223 1.655072 -0.490626 1.85 0 1.85 z" transform="translate(416.77057 134.983212)" style="fill: #ff0000"/>
<path d="M 0 1.85 C 0.490626 1.85 0.961223 1.655072 1.308148 1.308148 C 1.655072 0.961223 1.85 0.490626 1.85 0 C 1.85 -0.490626 1.655072 -0.961223 1.308148 -1.308148 C 0.961223 -1.655072 0.490626 -1.85 0 -1.85 C -0.490626 -1.85 -0.961223 -1.655072 -1.308148 -1.308148 C -1.655072 -0.961223 -1.85 -0.490626 -1.85 0 C -1.85 0.490626 -1.655072 0.961223 -1.308148 1.308148 C -0.961223 1.655072 -0.490626 1.85 0 1.85 z" transform="translate(421.900104 152.237098)" style="fill: #ff0000"/>
</g>
</g>
<g id="patch_9">
<path d="M 323.088 258.096 L 323.088 40.368" style="fill: none; stroke: #000000; stroke-linejoin: miter; stroke-linecap: square"/>
</g>
<g id="patch_10">
<path d="M 540.96 258.096 L 540.96 40.368" style="fill: none; stroke: #000000; stroke-linejoin: miter; stroke-linecap: square"/>
</g>
<g id="patch_11">
<path d="M 323.088 258.096 L 540.96 258.096" style="fill: none; stroke: #000000; stroke-linejoin: miter; stroke-linecap: square"/>
</g>
<g id="patch_12">
<path d="M 323.088 40.368 L 540.96 40.368" style="fill: none; stroke: #000000; stroke-linejoin: miter; stroke-linecap: square"/>
</g>
<g id="matplotlib.axis_3">
<g id="xtick_10">
<g id="line2d_41">
<path d="M 336.705 258.096 L 336.705 40.368" clip-path="url(#pabd5baab2b)" style="fill: none; stroke-dasharray: 1,3; stroke-dashoffset: 0; stroke: #000000; stroke-width: 0.5"/>
</g>
<g id="line2d_42">
<g>
<path d="M 0 0 L 0 -3.7" transform="translate(336.705 258.096)" style="stroke: #000000; stroke-width: 0.5"/>
</g>
</g>
<g id="line2d_43">
<g>
<path d="M 0 0 L 0 3.7" transform="translate(336.705 40.368)" style="stroke: #000000; stroke-width: 0.5"/>
</g>
</g>
<g id="text_23">
<text style="font-size: 8px; font-family: 'DejaVu Sans', 'Liberation Sans', sans-serif; text-anchor: middle" x="336.705" y="269.17475" transform="rotate(-0 336.705 269.17475) translate(336.705 269.17475) scale(1 1.060) translate(-336.705 -269.17475)">−12</text>
</g>
</g>
<g id="xtick_11">
<g id="line2d_44">
<path d="M 363.939 258.096 L 363.939 40.368" clip-path="url(#pabd5baab2b)" style="fill: none; stroke-dasharray: 1,3; stroke-dashoffset: 0; stroke: #000000; stroke-width: 0.5"/>
</g>
<g id="line2d_45">
<g>
<path d="M 0 0 L 0 -3.7" transform="translate(363.939 258.096)" style="stroke: #000000; stroke-width: 0.5"/>
</g>
</g>
<g id="line2d_46">
<g>
<path d="M 0 0 L 0 3.7" transform="translate(363.939 40.368)" style="stroke: #000000; stroke-width: 0.5"/>
</g>
</g>
<g id="text_24">
<text style="font-size: 8px; font-family: 'DejaVu Sans', 'Liberation Sans', sans-serif; text-anchor: middle" x="363.939" y="269.17475" transform="rotate(-0 363.939 269.17475) translate(363.939 269.17475) scale(1 1.060) translate(-363.939 -269.17475)">−10</text>
</g>
</g>
<g id="xtick_12">
<g id="line2d_47">
<path d="M 391.173 258.096 L 391.173 40.368" clip-path="url(#pabd5baab2b)" style="fill: none; stroke-dasharray: 1,3; stroke-dashoffset: 0; stroke: #000000; stroke-width: 0.5"/>
</g>
<g id="line2d_48">
<g>
<path d="M 0 0 L 0 -3.7" transform="translate(391.173 258.096)" style="stroke: #000000; stroke-width: 0.5"/>
</g>
</g>
<g id="line2d_49">
<g>
<path d="M 0 0 L 0 3.7" transform="translate(391.173 40.368)" style="stroke: #000000; stroke-width: 0.5"/>
</g>
</g>
<g id="text_25">
<text style="font-size: 8px; font-family: 'DejaVu Sans', 'Liberation Sans', sans-serif; text-anchor: middle" x="391.173" y="269.17475" transform="rotate(-0 391.173 269.17475) translate(391.173 269.17475) scale(1 1.060) translate(-391.173 -269.17475)">−8</text>
</g>
</g>
<g id="xtick_13">
<g id="line2d_50">
<path d="M 418.407 258.096 L 418.407 40.368" clip-path="url(#pabd5baab2b)" style="fill: none; stroke-dasharray: 1,3; stroke-dashoffset: 0; stroke: #000000; stroke-width: 0.5"/>
</g>
<g id="line2d_51">
<g>
<path d="M 0 0 L 0 -3.7" transform="translate(418.407 258.096)" style="stroke: #000000; stroke-width: 0.5"/>
</g>
</g>
<g id="line2d_52">
<g>
<path d="M 0 0 L 0 3.7" transform="translate(418.407 40.368)" style="stroke: #000000; stroke-width: 0.5"/>
</g>
</g>
<g id="text_26">
<text style="font-size: 8px; font-family: 'DejaVu Sans', 'Liberation Sans', sans-serif; text-anchor: middle" x="418.407" y="269.17475" transform="rotate(-0 418.407 269.17475) translate(418.407 269.17475) scale(1 1.060) translate(-418.407 -269.17475)">−6</text>
</g>
</g>
<g id="xtick_14">
<g id="line2d_53">
<path d="M 445.641 258.096 L 445.641 40.368" clip-path="url(#pabd5baab2b)" style="fill: none; stroke-dasharray: 1,3; stroke-dashoffset: 0; stroke: #000000; stroke-width: 0.5"/>
</g>
<g id="line2d_54">
<g>
<path d="M 0 0 L 0 -3.7" transform="translate(445.641 258.096)" style="stroke: #000000; stroke-width: 0.5"/>
</g>
</g>
<g id="line2d_55">
<g>
<path d="M 0 0 L 0 3.7" transform="translate(445.641 40.368)" style="stroke: #000000; stroke-width: 0.5"/>
</g>
</g>
<g id="text_27">
<text style="font-size: 8px; font-family: 'DejaVu Sans', 'Liberation Sans', sans-serif; text-anchor: middle" x="445.641" y="269.17475" transform="rotate(-0 445.641 269.17475) translate(445.641 269.17475) scale(1 1.060) translate(-445.641 -269.17475)">−4</text>
</g>
</g>
<g id="xtick_15">
<g id="line2d_56">
<path d="M 472.875 258.096 L 472.875 40.368" clip-path="url(#pabd5baab2b)" style="fill: none; stroke-dasharray: 1,3; stroke-dashoffset: 0; stroke: #000000; stroke-width: 0.5"/>
</g>
<g id="line2d_57">
<g>
<path d="M 0 0 L 0 -3.7" transform="translate(472.875 258.096)" style="stroke: #000000; stroke-width: 0.5"/>
</g>
</g>
<g id="line2d_58">
<g>
<path d="M 0 0 L 0 3.7" transform="translate(472.875 40.368)" style="stroke: #000000; stroke-width: 0.5"/>
</g>
</g>
<g id="text_28">
<text style="font-size: 8px; font-family: 'DejaVu Sans', 'Liberation Sans', sans-serif; text-anchor: middle" x="472.875" y="269.17475" transform="rotate(-0 472.875 269.17475) translate(472.875 269.17475) scale(1 1.060) translate(-472.875 -269.17475)">−2</text>
</g>
</g>
<g id="xtick_16">
<g id="line2d_59">
<path d="M 500.109 258.096 L 500.109 40.368" clip-path="url(#pabd5baab2b)" style="fill: none; stroke-dasharray: 1,3; stroke-dashoffset: 0; stroke: #000000; stroke-width: 0.5"/>
</g>
<g id="line2d_60">
<g>
<path d="M 0 0 L 0 -3.7" transform="translate(500.109 258.096)" style="stroke: #000000; stroke-width: 0.5"/>
</g>
</g>
<g id="line2d_61">
<g>
<path d="M 0 0 L 0 3.7" transform="translate(500.109 40.368)" style="stroke: #000000; stroke-width: 0.5"/>
</g>
</g>
<g id="text_29">
<text style="font-size: 8px; font-family: 'DejaVu Sans', 'Liberation Sans', sans-serif; text-anchor: middle" x="500.109" y="269.17475" transform="rotate(-0 500.109 269.17475) translate(500.109 269.17475) scale(1 1.060) translate(-500.109 -269.17475)">0</text>
</g>
</g>
<g id="xtick_17">
<g id="line2d_62">
<path d="M 527.343 258.096 L 527.343 40.368" clip-path="url(#pabd5baab2b)" style="fill: none; stroke-dasharray: 1,3; stroke-dashoffset: 0; stroke: #000000; stroke-width: 0.5"/>
</g>
<g id="line2d_63">
<g>
<path d="M 0 0 L 0 -3.7" transform="translate(527.343 258.096)" style="stroke: #000000; stroke-width: 0.5"/>
</g>
</g>
<g id="line2d_64">
<g>
<path d="M 0 0 L 0 3.7" transform="translate(527.343 40.368)" style="stroke: #000000; stroke-width: 0.5"/>
</g>
</g>
<g id="text_30">
<text style="font-size: 8px; font-family: 'DejaVu Sans', 'Liberation Sans', sans-serif; text-anchor: middle" x="527.343" y="269.17475" transform="rotate(-0 527.343 269.17475) translate(527.343 269.17475) scale(1 1.060) translate(-527.343 -269.17475)">2</text>
</g>
</g>
<g id="text_31">
<text style="font-size: 8px; font-family: 'DejaVu Sans', 'Liberation Sans', sans-serif; text-anchor: middle" x="432.024" y="283.81725" transform="rotate(-0 432.024 283.81725) translate(432.024 283.81725) scale(1 1.060) translate(-432.024 -283.81725)">V2(km/s)</text>
</g>
</g>
<g id="matplotlib.axis_4">
<g id="ytick_9">
<g id="line2d_65">
<path d="M 323.088 258.096 L 540.96 258.096" clip-path="url(#pabd5baab2b)" style="fill: none; stroke-dasharray: 1,3; stroke-dashoffset: 0; stroke: #000000; stroke-width: 0.5"/>
</g>
<g id="line2d_66">
<g>
<path d="M 0 0 L 3.7 0" transform="translate(323.088 258.096)" style="stroke: #000000; stroke-width: 0.5"/>
</g>
</g>
<g id="line2d_67">
<g>
<path d="M 0 0 L -3.7 0" transform="translate(540.96 258.096)" style="stroke: #000000; stroke-width: 0.5"/>
</g>
</g>
<g id="text_32">
<text style="font-size: 8px; font-family: 'DejaVu Sans', 'Liberation Sans', sans-serif; text-anchor: end" x="319.088" y="260.3035" transform="rotate(-0 319.088 260.3035) translate(319.088 260.3035) scale(1 1.060) translate(-319.088 -260.3035)">−4</text>
</g>
</g>
<g id="ytick_10">
<g id="line2d_68">
<path d="M 323.088 230.88 L 540.96 230.88" clip-path="url(#pabd5baab2b)" style="fill: none; stroke-dasharray: 1,3; stroke-dashoffset: 0; stroke: #000000; stroke-width: 0.5"/>
</g>
<g id="line2d_69">
<g>
<path d="M 0 0 L 3.7 0" transform="translate(323.088 230.88)" style="stroke: #000000; stroke-width: 0.5"/>
</g>
</g>
<g id="line2d_70">
<g>
<path d="M 0 0 L -3.7 0" transform="translate(540.96 230.88)" style="stroke: #000000; stroke-width: 0.5"/>
</g>
</g>
<g id="text_33">
<text style="font-size: 8px; font-family: 'DejaVu Sans', 'Liberation Sans', sans-serif; text-anchor: end" x="319.088" y="233.0875" transform="rotate(-0 319.088 233.0875) translate(319.088 233.0875) scale(1 1.060) translate(-319.088 -233.0875)">−2</text>
</g>
</g>
<g id="ytick_11">
<g id="line2d_71">
<path d="M 323.088 203.664 L 540.96 203.664" clip-path="url(#pabd5baab2b)" style="fill: none; stroke-dasharray: 1,3; stroke-dashoffset: 0; stroke: #000000; stroke-width: 0.5"/>
</g>
<g id="line2d_72">
<g>
<path d="M 0 0 L 3.7 0" transform="translate(323.088 203.664)" style="stroke: #000000; stroke-width: 0.5"/>
</g>
</g>
<g id="line2d_73">
<g>
<path d="M 0 0 L -3.7 0" transform="translate(540.96 203.664)" style="stroke: #000000; stroke-width: 0.5"/>
</g>
</g>
<g id="text_34">
<text style="font-size: 8px; font-family: 'DejaVu Sans', 'Liberation Sans', sans-serif; text-anchor: end" x="319.088" y="205.8715" transform="rotate(-0 319.088 205.8715) translate(319.088 205.8715) scale(1 1.060) translate(-319.088 -205.8715)">0</text>
</g>
</g>
<g id="ytick_12">
<g id="line2d_74">
<path d="M 323.088 176.448 L 540.96 176.448" clip-path="url(#pabd5baab2b)" style="fill: none; stroke-dasharray: 1,3; stroke-dashoffset: 0; stroke: #000000; stroke-width: 0.5"/>
</g>
<g id="line2d_75">
<g>
<path d="M 0 0 L 3.7 0" transform="translate(323.088 176.448)" style="stroke: #000000; stroke-width: 0.5"/>
</g>
</g>
<g id="line2d_76">
<g>
<path d="M 0 0 L -3.7 0" transform="translate(540.96 176.448)" style="stroke: #000000; stroke-width: 0.5"/>
</g>
</g>
<g id="text_35">
<text style="font-size: 8px; font-family: 'DejaVu Sans', 'Liberation Sans', sans-serif; text-anchor: end" x="319.088" y="178.6555" transform="rotate(-0 319.088 178.6555) translate(319.088 178.6555) scale(1 1.060) translate(-319.088 -178.6555)">2</text>
</g>
</g>
<g id="ytick_13">
<g id="line2d_77">
<path d="M 323.088 149.232 L 540.96 149.232" clip-path="url(#pabd5baab2b)" style="fill: none; stroke-dasharray: 1,3; stroke-dashoffset: 0; stroke: #000000; stroke-width: 0.5"/>
</g>
<g id="line2d_78">
<g>
<path d="M 0 0 L 3.7 0" transform="translate(323.088 149.232)" style="stroke: #000000; stroke-width: 0.5"/>
</g>
</g>
<g id="line2d_79">
<g>
<path d="M 0 0 L -3.7 0" transform="translate(540.96 149.232)" style="stroke: #000000; stroke-width: 0.5"/>
</g>
</g>
<g id="text_36">
<text style="font-size: 8px; font-family: 'DejaVu Sans', 'Liberation Sans', sans-serif; text-anchor: end" x="319.088" y="151.4395" transform="rotate(-0 319.088 151.4395) translate(319.088 151.4395) scale(1 1.060) translate(-319.088 -151.4395)">4</text>
</g>
</g>
<g id="ytick_14">
<g id="line2d_80">
<path d="M 323.088 122.016 L 540.96 122.016" clip-path="url(#pabd5baab2b)" style="fill: none; stroke-dasharray: 1,3; stroke-dashoffset: 0; stroke: #000000; stroke-width: 0.5"/>
</g>
<g id="line2d_81">
<g>
<path d="M 0 0 L 3.7 0" transform="translate(323.088 122.016)" style="stroke: #000000; stroke-width: 0.5"/>
</g>
</g>
<g id="line2d_82">
<g>
<path d="M 0 0 L -3.7 0" transform="translate(540.96 122.016)" style="stroke: #000000; stroke-width: 0.5"/>
</g>
</g>
<g id="text_37">
<text style="font-size: 8px; font-family: 'DejaVu Sans', 'Liberation Sans', sans-serif; text-anchor: end" x="319.088" y="124.2235" transform="rotate(-0 319.088 124.2235) translate(319.088 124.2235) scale(1 1.060) translate(-319.088 -124.2235)">6</text>
</g>
</g>
<g id="ytick_15">
<g id="line2d_83">
<path d="M 323.088 94.8 L 540.96 94.8" clip-path="url(#pabd5baab2b)" style="fill: none; stroke-dasharray: 1,3; stroke-dashoffset: 0; stroke: #000000; stroke-width: 0.5"/>
</g>
<g id="line2d_84">
<g>
<path d="M 0 0 L 3.7 0" transform="translate(323.088 94.8)" style="stroke: #000000; stroke-width: 0.5"/>
</g>
</g>
<g id="line2d_85">
<g>
<path d="M 0 0 L -3.7 0" transform="translate(540.96 94.8)" style="stroke: #000000; stroke-width: 0.5"/>
</g>
</g>
<g id="text_38">
<text style="font-size: 8px; font-family: 'DejaVu Sans', 'Liberation Sans', sans-serif; text-anchor: end" x="319.088" y="97.0075" transform="rotate(-0 319.088 97.0075) translate(319.088 97.0075) scale(1 1.060) translate(-319.088 -97.0075)">8</text>
</g>
</g>
<g id="ytick_16">
<g id="line2d_86">
<path d="M 323.088 67.584 L 540.96 67.584" clip-path="url(#pabd5baab2b)" style="fill: none; stroke-dasharray: 1,3; stroke-dashoffset: 0; stroke: #000000; stroke-width: 0.5"/>
</g>
<g id="line2d_87">
<g>
<path d="M 0 0 L 3.7 0" transform="translate(323.088 67.584)" style="stroke: #000000; stroke-width: 0.5"/>
</g>
</g>
<g id="line2d_88">
<g>
<path d="M 0 0 L -3.7 0" transform="translate(540.96 67.584)" style="stroke: #000000; stroke-width: 0.5"/>
</g>
</g>
<g id="text_39">
<text style="font-size: 8px; font-family: 'DejaVu Sans', 'Liberation Sans', sans-serif; text-anchor: end" x="319.088" y="69.7915" transform="rotate(-0 319.088 69.7915) translate(319.088 69.7915) scale(1 1.060) translate(-319.088 -69.7915)">10</text>
</g>
</g>
<g id="ytick_17">
<g id="line2d_89">
<path d="M 323.088 40.368 L 540.96 40.368" clip-path="url(#pabd5baab2b)" style="fill: none; stroke-dasharray: 1,3; stroke-dashoffset: 0; stroke: #000000; stroke-width: 0.5"/>
</g>
<g id="line2d_90">
<g>
<path d="M 0 0 L 3.7 0" transform="translate(323.088 40.368)" style="stroke: #000000; stroke-width: 0.5"/>
</g>
</g>
<g id="line2d_91">
<g>
<path d="M 0 0 L -3.7 0" transform="translate(540.96 40.368)" style="stroke: #000000; stroke-width: 0.5"/>
</g>
</g>
<g id="text_40">
<text style="font-size: 8px; font-family: 'DejaVu Sans', 'Liberation Sans', sans-serif; text-anchor: end" x="319.088" y="42.5755" transform="rotate(-0 319.088 42.5755) translate(319.088 42.5755) scale(1 1.060) translate(-319.088 -42.5755)">12</text>
</g>
</g>
<g id="text_41">
<text style="font-size: 8px; font-family: 'DejaVu Sans', 'Liberation Sans', sans-serif; text-anchor: middle" x="300.1505" y="150.192" transform="rotate(-90 300.1505 150.192) translate(300.1505 150.192) scale(1 1.060) translate(-300.1505 -150.192)">V1(km/s)</text>
</g>
</g>
<g id="text_42">
<!-- $\lambda_1/\lambda_2\approx$ 7.63 -->
<g transform="translate(328.905182 247.579738)">
<text>
<tspan x="0" y="-0.3125" style="font-size: 8.8px; font-family: 'Latin Modern Math', 'DejaVu Serif', serif; font-style: italic">λ</tspan>
<tspan x="8.768759" y="-0.3125" style="font-size: 8.8px; font-family: 'Latin Modern Math', 'DejaVu Serif', serif">/</tspan>
<tspan x="13.167197" y="-0.3125" style="font-size: 8.8px; font-family: 'Latin Modern Math', 'DejaVu Serif', serif; font-style: italic">λ</tspan>
<tspan x="5.128647" y="1.18405" style="font-size: 6.16px; font-family: 'Latin Modern Roman', 'DejaVu Serif', serif">1</tspan>
<tspan x="18.295844" y="1.18405" style="font-size: 6.16px; font-family: 'Latin Modern Roman', 'DejaVu Serif', serif">2</tspan>
<tspan x="23.480564" y="-0.3125" style="font-size: 8.8px; font-family: 'Latin Modern Math', 'DejaVu Sans', sans-serif">≈</tspan>
<tspan x="31.859064" y="-0.3125" style="font-size: 8.8px; font-family: 'DejaVu Sans', 'Liberation Sans', sans-serif"> </tspan>
<tspan x="34.640436" y="-0.3125" style="font-size: 8.8px; font-family: 'DejaVu Sans', 'Liberation Sans', sans-serif">7</tspan>
<tspan x="40.207453" y="-0.3125" style="font-size: 8.8px; font-family: 'DejaVu Sans', 'Liberation Sans', sans-serif">.</tspan>
<tspan x="42.988825" y="-0.3125" style="font-size: 8.8px; font-family: 'DejaVu Sans', 'Liberation Sans', sans-serif">6</tspan>
<tspan x="48.555841" y="-0.3125" style="font-size: 8.8px; font-family: 'DejaVu Sans', 'Liberation Sans', sans-serif">3</tspan>
</text>
</g>
</g>
<g id="text_43">
<text style="font-size: 11.0656px; font-family: 'DejaVu Sans', 'Liberation Sans', sans-serif; text-anchor: middle" x="432.024" y="35.368" transform="rotate(-0 432.024 35.368)">Hodogram(V2_V1 MVAB frame)</text>
</g>
<g id="legend_2">
<g id="patch_13">
<path d="M 481.88 71.936906 L 537.46 71.936906 L 537.46 43.868 L 481.88 43.868 z" style="fill: #ffffff; stroke: #000000; stroke-linejoin: miter"/>
</g>
<g id="line2d_92">
<path d="M 487.69 50.868 L 497.49 50.868" style="fill: none; stroke: #0000ff; stroke-linecap: square"/>
<g>
<path d="M 0 1.85 C 0.490626 1.85 0.961223 1.655072 1.308148 1.308148 C 1.655072 0.961223 1.85 0.490626 1.85 0 C 1.85 -0.490626 1.655072 -0.961223 1.308148 -1.308148 C 0.961223 -1.655072 0.490626 -1.85 0 -1.85 C -0.490626 -1.85 -0.961223 -1.655072 -1.308148 -1.308148 C -1.655072 -0.961223 -1.85 -0.490626 -1.85 0 C -1.85 0.490626 -1.655072 0.961223 -1.308148 1.308148 C -0.961223 1.655072 -0.490626 1.85 0 1.85 z" transform="translate(487.69 50.868)" style="fill: #0000ff"/>
<path d="M 0 1.85 C 0.490626 1.85 0.961223 1.655072 1.308148 1.308148 C 1.655072 0.961223 1.85 0.490626 1.85 0 C 1.85 -0.490626 1.655072 -0.961223 1.308148 -1.308148 C 0.961223 -1.655072 0.490626 -1.85 0 -1.85 C -0.490626 -1.85 -0.961223 -1.655072 -1.308148 -1.308148 C -1.655072 -0.961223 -1.85 -0.490626 -1.85 0 C -1.85 0.490626 -1.655072 0.961223 -1.308148 1.308148 C -0.961223 1.655072 -0.490626 1.85 0 1.85 z" transform="translate(497.49 50.868)" style="fill: #0000ff"/>
</g>
</g>
<g id="text_44">
<!-- B/$\sqrt{\mu_0\rho}$ -->
<g transform="translate(505.19 53.318)">
<text>
<tspan x="0" y="-0.314375" style="font-size: 7px; font-family: 'DejaVu Sans', 'Liberation Sans', sans-serif">B</tspan>
<tspan x="4.802246" y="-0.314375" style="font-size: 7px; font-family: 'DejaVu Sans', 'Liberation Sans', sans-serif">/</tspan>
<tspan x="13.691895" y="-0.46875" style="font-size: 7px; font-family: 'Latin Modern Math', 'DejaVu Serif', serif; font-style: italic">μ</tspan>
<tspan x="20.802664" y="-0.46875" style="font-size: 7px; font-family: 'Latin Modern Math', 'DejaVu Serif', serif; font-style: italic">ρ</tspan>
<tspan x="17.90625" y="0.721687" style="font-size: 4.9px; font-family: 'Latin Modern Roman', 'DejaVu Serif', serif">0</tspan>
</text><text transform="translate(6.866 1.804) scale(1.004 1)" style="font-size: 9.777px; font-family: 'DejaVu Sans', 'Liberation Sans', sans-serif">√</text>
<rect x="12.816895" y="-6.125" width="12.480398" height="0.4375"/>
</g>
</g>
<g id="line2d_93">
<path d="M 487.69 63.536906 L 497.49 63.536906" style="fill: none; stroke: #ff0000; stroke-linecap: square"/>
<g>
<path d="M 0 1.85 C 0.490626 1.85 0.961223 1.655072 1.308148 1.308148 C 1.655072 0.961223 1.85 0.490626 1.85 0 C 1.85 -0.490626 1.655072 -0.961223 1.308148 -1.308148 C 0.961223 -1.655072 0.490626 -1.85 0 -1.85 C -0.490626 -1.85 -0.961223 -1.655072 -1.308148 -1.308148 C -1.655072 -0.961223 -1.85 -0.490626 -1.85 0 C -1.85 0.490626 -1.655072 0.961223 -1.308148 1.308148 C -0.961223 1.655072 -0.490626 1.85 0 1.85 z" transform="translate(487.69 63.536906)" style="fill: #ff0000"/>
<path d="M 0 1.85 C 0.490626 1.85 0.961223 1.655072 1.308148 1.308148 C 1.655072 0.961223 1.85 0.490626 1.85 0 C 1.85 -0.490626 1.655072 -0.961223 1.308148 -1.308148 C 0.961223 -1.655072 0.490626 -1.85 0 -1.85 C -0.490626 -1.85 -0.961223 -1.655072 -1.308148 -1.308148 C -1.655072 -0.961223 -1.85 -0.490626 -1.85 0 C -1.85 0.490626 -1.655072 0.961223 -1.308148 1.308148 C -0.961223 1.655072 -0.490626 1.85 0 1.85 z" transform="translate(497.49 63.536906)" style="fill: #ff0000"/>
</g>
</g>
<g id="text_45">
<!-- V$_{remaining}$ -->
<g transform="translate(505.19 65.986906)">
<text>
<tspan x="0" y="-0.890625" style="font-size: 7px; font-family: 'DejaVu Sans', 'Liberation Sans', sans-serif">V</tspan>
<tspan x="5.101064" y="0.299812" style="font-size: 4.9px; font-family: 'Latin Modern Roman', 'DejaVu Serif', serif; font-style: italic">r</tspan>
<tspan x="7.311806" y="0.299812" style="font-size: 4.9px; font-family: 'Latin Modern Roman', 'DejaVu Serif', serif; font-style: italic">e</tspan>
<tspan x="9.589541" y="0.299812" style="font-size: 4.9px; font-family: 'Latin Modern Roman', 'DejaVu Serif', serif; font-style: italic">m</tspan>
<tspan x="13.891396" y="0.299812" style="font-size: 4.9px; font-family: 'Latin Modern Roman', 'DejaVu Serif', serif; font-style: italic">a</tspan>
<tspan x="16.477773" y="0.299812" style="font-size: 4.9px; font-family: 'Latin Modern Roman', 'DejaVu Serif', serif; font-style: italic">i</tspan>
<tspan x="18.164541" y="0.299812" style="font-size: 4.9px; font-family: 'Latin Modern Roman', 'DejaVu Serif', serif; font-style: italic">n</tspan>
<tspan x="21.105019" y="0.299812" style="font-size: 4.9px; font-family: 'Latin Modern Roman', 'DejaVu Serif', serif; font-style: italic">i</tspan>
<tspan x="22.791787" y="0.299812" style="font-size: 4.9px; font-family: 'Latin Modern Roman', 'DejaVu Serif', serif; font-style: italic">n</tspan>
<tspan x="25.732265" y="0.299812" style="font-size: 4.9px; font-family: 'Latin Modern Roman', 'DejaVu Serif', serif; font-style: italic">g</tspan>
</text>
</g>
</g>
</g>
</g>
<g id="axes_3">
<g id="patch_14">
<path d="M 590.016 258.096 L 807.888 258.096 L 807.888 40.368 L 590.016 40.368 z" style="fill: #ffffff"/>
</g>
<g id="line2d_94">
<path d="M 782.082323 160.521264 L 777.778309 162.570794 L 777.265927 154.372673 L 782.492229 142.382921 L 790.280444 143.715115 L 779.21298 140.845773 L 785.566524 137.97643 L 781.160034 132.237746 L 788.33339 127.831255 L 791.305209 130.290692 L 786.796243 130.495645 L 788.33339 132.032792 L 787.411102 131.21298" clip-path="url(#pbc89be7920)" style="fill: none; stroke: #0000ff; stroke-linecap: square"/>
<g clip-path="url(#pbc89be7920)">
<path d="M 0 1.85 C 0.490626 1.85 0.961223 1.655072 1.308148 1.308148 C 1.655072 0.961223 1.85 0.490626 1.85 0 C 1.85 -0.490626 1.655072 -0.961223 1.308148 -1.308148 C 0.961223 -1.655072 0.490626 -1.85 0 -1.85 C -0.490626 -1.85 -0.961223 -1.655072 -1.308148 -1.308148 C -1.655072 -0.961223 -1.85 -0.490626 -1.85 0 C -1.85 0.490626 -1.655072 0.961223 -1.308148 1.308148 C -0.961223 1.655072 -0.490626 1.85 0 1.85 z" transform="translate(782.082323 160.521264)" style="fill: #0000ff"/>
<path d="M 0 1.85 C 0.490626 1.85 0.961223 1.655072 1.308148 1.308148 C 1.655072 0.961223 1.85 0.490626 1.85 0 C 1.85 -0.490626 1.655072 -0.961223 1.308148 -1.308148 C 0.961223 -1.655072 0.490626 -1.85 0 -1.85 C -0.490626 -1.85 -0.961223 -1.655072 -1.308148 -1.308148 C -1.655072 -0.961223 -1.85 -0.490626 -1.85 0 C -1.85 0.490626 -1.655072 0.961223 -1.308148 1.308148 C -0.961223 1.655072 -0.490626 1.85 0 1.85 z" transform="translate(777.778309 162.570794)" style="fill: #0000ff"/>
<path d="M 0 1.85 C 0.490626 1.85 0.961223 1.655072 1.308148 1.308148 C 1.655072 0.961223 1.85 0.490626 1.85 0 C 1.85 -0.490626 1.655072 -0.961223 1.308148 -1.308148 C 0.961223 -1.655072 0.490626 -1.85 0 -1.85 C -0.490626 -1.85 -0.961223 -1.655072 -1.308148 -1.308148 C -1.655072 -0.961223 -1.85 -0.490626 -1.85 0 C -1.85 0.490626 -1.655072 0.961223 -1.308148 1.308148 C -0.961223 1.655072 -0.490626 1.85 0 1.85 z" transform="translate(777.265927 154.372673)" style="fill: #0000ff"/>
<path d="M 0 1.85 C 0.490626 1.85 0.961223 1.655072 1.308148 1.308148 C 1.655072 0.961223 1.85 0.490626 1.85 0 C 1.85 -0.490626 1.655072 -0.961223 1.308148 -1.308148 C 0.961223 -1.655072 0.490626 -1.85 0 -1.85 C -0.490626 -1.85 -0.961223 -1.655072 -1.308148 -1.308148 C -1.655072 -0.961223 -1.85 -0.490626 -1.85 0 C -1.85 0.490626 -1.655072 0.961223 -1.308148 1.308148 C -0.961223 1.655072 -0.490626 1.85 0 1.85 z" transform="translate(782.492229 142.382921)" style="fill: #0000ff"/>
<path d="M 0 1.85 C 0.490626 1.85 0.961223 1.655072 1.308148 1.308148 C 1.655072 0.961223 1.85 0.490626 1.85 0 C 1.85 -0.490626 1.655072 -0.961223 1.308148 -1.308148 C 0.961223 -1.655072 0.490626 -1.85 0 -1.85 C -0.490626 -1.85 -0.961223 -1.655072 -1.308148 -1.308148 C -1.655072 -0.961223 -1.85 -0.490626 -1.85 0 C -1.85 0.490626 -1.655072 0.961223 -1.308148 1.308148 C -0.961223 1.655072 -0.490626 1.85 0 1.85 z" transform="translate(790.280444 143.715115)" style="fill: #0000ff"/>
<path d="M 0 1.85 C 0.490626 1.85 0.961223 1.655072 1.308148 1.308148 C 1.655072 0.961223 1.85 0.490626 1.85 0 C 1.85 -0.490626 1.655072 -0.961223 1.308148 -1.308148 C 0.961223 -1.655072 0.490626 -1.85 0 -1.85 C -0.490626 -1.85 -0.961223 -1.655072 -1.308148 -1.308148 C -1.655072 -0.961223 -1.85 -0.490626 -1.85 0 C -1.85 0.490626 -1.655072 0.961223 -1.308148 1.308148 C -0.961223 1.655072 -0.490626 1.85 0 1.85 z" transform="translate(779.21298 140.845773)" style="fill: #0000ff"/>
<path d="M 0 1.85 C 0.490626 1.85 0.961223 1.655072 1.308148 1.308148 C 1.655072 0.961223 1.85 0.490626 1.85 0 C 1.85 -0.490626 1.655072 -0.961223 1.308148 -1.308148 C 0.961223 -1.655072 0.490626 -1.85 0 -1.85 C -0.490626 -1.85 -0.961223 -1.655072 -1.308148 -1.308148 C -1.655072 -0.961223 -1.85 -0.490626 -1.85 0 C -1.85 0.490626 -1.655072 0.961223 -1.308148 1.308148 C -0.961223 1.655072 -0.490626 1.85 0 1.85 z" transform="translate(785.566524 137.97643)" style="fill: #0000ff"/>
<path d="M 0 1.85 C 0.490626 1.85 0.961223 1.655072 1.308148 1.308148 C 1.655072 0.961223 1.85 0.490626 1.85 0 C 1.85 -0.490626 1.655072 -0.961223 1.308148 -1.308148 C 0.961223 -1.655072 0.490626 -1.85 0 -1.85 C -0.490626 -1.85 -0.961223 -1.655072 -1.308148 -1.308148 C -1.655072 -0.961223 -1.85 -0.490626 -1.85 0 C -1.85 0.490626 -1.655072 0.961223 -1.308148 1.308148 C -0.961223 1.655072 -0.490626 1.85 0 1.85 z" transform="translate(781.160034 132.237746)" style="fill: #0000ff"/>
<path d="M 0 1.85 C 0.490626 1.85 0.961223 1.655072 1.308148 1.308148 C 1.655072 0.961223 1.85 0.490626 1.85 0 C 1.85 -0.490626 1.655072 -0.961223 1.308148 -1.308148 C 0.961223 -1.655072 0.490626 -1.85 0 -1.85 C -0.490626 -1.85 -0.961223 -1.655072 -1.308148 -1.308148 C -1.655072 -0.961223 -1.85 -0.490626 -1.85 0 C -1.85 0.490626 -1.655072 0.961223 -1.308148 1.308148 C -0.961223 1.655072 -0.490626 1.85 0 1.85 z" transform="translate(788.33339 127.831255)" style="fill: #0000ff"/>
<path d="M 0 1.85 C 0.490626 1.85 0.961223 1.655072 1.308148 1.308148 C 1.655072 0.961223 1.85 0.490626 1.85 0 C 1.85 -0.490626 1.655072 -0.961223 1.308148 -1.308148 C 0.961223 -1.655072 0.490626 -1.85 0 -1.85 C -0.490626 -1.85 -0.961223 -1.655072 -1.308148 -1.308148 C -1.655072 -0.961223 -1.85 -0.490626 -1.85 0 C -1.85 0.490626 -1.655072 0.961223 -1.308148 1.308148 C -0.961223 1.655072 -0.490626 1.85 0 1.85 z" transform="translate(791.305209 130.290692)" style="fill: #0000ff"/>
<path d="M 0 1.85 C 0.490626 1.85 0.961223 1.655072 1.308148 1.308148 C 1.655072 0.961223 1.85 0.490626 1.85 0 C 1.85 -0.490626 1.655072 -0.961223 1.308148 -1.308148 C 0.961223 -1.655072 0.490626 -1.85 0 -1.85 C -0.490626 -1.85 -0.961223 -1.655072 -1.308148 -1.308148 C -1.655072 -0.961223 -1.85 -0.490626 -1.85 0 C -1.85 0.490626 -1.655072 0.961223 -1.308148 1.308148 C -0.961223 1.655072 -0.490626 1.85 0 1.85 z" transform="translate(786.796243 130.495645)" style="fill: #0000ff"/>
<path d="M 0 1.85 C 0.490626 1.85 0.961223 1.655072 1.308148 1.308148 C 1.655072 0.961223 1.85 0.490626 1.85 0 C 1.85 -0.490626 1.655072 -0.961223 1.308148 -1.308148 C 0.961223 -1.655072 0.490626 -1.85 0 -1.85 C -0.490626 -1.85 -0.961223 -1.655072 -1.308148 -1.308148 C -1.655072 -0.961223 -1.85 -0.490626 -1.85 0 C -1.85 0.490626 -1.655072 0.961223 -1.308148 1.308148 C -0.961223 1.655072 -0.490626 1.85 0 1.85 z" transform="translate(788.33339 132.032792)" style="fill: #0000ff"/>
<path d="M 0 1.85 C 0.490626 1.85 0.961223 1.655072 1.308148 1.308148 C 1.655072 0.961223 1.85 0.490626 1.85 0 C 1.85 -0.490626 1.655072 -0.961223 1.308148 -1.308148 C 0.961223 -1.655072 0.490626 -1.85 0 -1.85 C -0.490626 -1.85 -0.961223 -1.655072 -1.308148 -1.308148 C -1.655072 -0.961223 -1.85 -0.490626 -1.85 0 C -1.85 0.490626 -1.655072 0.961223 -1.308148 1.308148 C -0.961223 1.655072 -0.490626 1.85 0 1.85 z" transform="translate(787.411102 131.21298)" style="fill: #0000ff"/>
</g>
</g>
<g id="line2d_95">
<path d="M 612.684006 157.582063 L 612.684006 169.301046 L 614.716891 158.538714 L 612.20568 144.667265 L 624.163827 171.21435 L 609.335725 135.579073 L 613.640658 135.937818 L 617.347683 146.580568 L 630.023318 153.755456 L 626.07713 157.103737 L 624.642152 160.093274 L 620.863378 145.863079 L 625.718386 150.287593" clip-path="url(#pbc89be7920)" style="fill: none; stroke: #ff0000; stroke-linecap: square"/>
<g clip-path="url(#pbc89be7920)">
<path d="M 0 1.85 C 0.490626 1.85 0.961223 1.655072 1.308148 1.308148 C 1.655072 0.961223 1.85 0.490626 1.85 0 C 1.85 -0.490626 1.655072 -0.961223 1.308148 -1.308148 C 0.961223 -1.655072 0.490626 -1.85 0 -1.85 C -0.490626 -1.85 -0.961223 -1.655072 -1.308148 -1.308148 C -1.655072 -0.961223 -1.85 -0.490626 -1.85 0 C -1.85 0.490626 -1.655072 0.961223 -1.308148 1.308148 C -0.961223 1.655072 -0.490626 1.85 0 1.85 z" transform="translate(612.684006 157.582063)" style="fill: #ff0000"/>
<path d="M 0 1.85 C 0.490626 1.85 0.961223 1.655072 1.308148 1.308148 C 1.655072 0.961223 1.85 0.490626 1.85 0 C 1.85 -0.490626 1.655072 -0.961223 1.308148 -1.308148 C 0.961223 -1.655072 0.490626 -1.85 0 -1.85 C -0.490626 -1.85 -0.961223 -1.655072 -1.308148 -1.308148 C -1.655072 -0.961223 -1.85 -0.490626 -1.85 0 C -1.85 0.490626 -1.655072 0.961223 -1.308148 1.308148 C -0.961223 1.655072 -0.490626 1.85 0 1.85 z" transform="translate(612.684006 169.301046)" style="fill: #ff0000"/>
<path d="M 0 1.85 C 0.490626 1.85 0.961223 1.655072 1.308148 1.308148 C 1.655072 0.961223 1.85 0.490626 1.85 0 C 1.85 -0.490626 1.655072 -0.961223 1.308148 -1.308148 C 0.961223 -1.655072 0.490626 -1.85 0 -1.85 C -0.490626 -1.85 -0.961223 -1.655072 -1.308148 -1.308148 C -1.655072 -0.961223 -1.85 -0.490626 -1.85 0 C -1.85 0.490626 -1.655072 0.961223 -1.308148 1.308148 C -0.961223 1.655072 -0.490626 1.85 0 1.85 z" transform="translate(614.716891 158.538714)" style="fill: #ff0000"/>
<path d="M 0 1.85 C 0.490626 1.85 0.961223 1.655072 1.308148 1.308148 C 1.655072 0.961223 1.85 0.490626 1.85 0 C 1.85 -0.490626 1.655072 -0.961223 1.308148 -1.308148 C 0.961223 -1.655072 0.490626 -1.85 0 -1.85 C -0.490626 -1.85 -0.961223 -1.655072 -1.308148 -1.308148 C -1.655072 -0.961223 -1.85 -0.490626 -1.85 0 C -1.85 0.490626 -1.655072 0.961223 -1.308148 1.308148 C -0.961223 1.655072 -0.490626 1.85 0 1.85 z" transform="translate(612.20568 144.667265)" style="fill: #ff0000"/>
<path d="M 0 1.85 C 0.490626 1.85 0.961223 1.655072 1.308148 1.308148 C 1.655072 0.961223 1.85 0.490626 1.85 0 C 1.85 -0.490626 1.655072 -0.961223 1.308148 -1.308148 C 0.961223 -1.655072 0.490626 -1.85 0 -1.85 C -0.490626 -1.85 -0.961223 -1.655072 -1.308148 -1.308148 C -1.655072 -0.961223 -1.85 -0.490626 -1.85 0 C -1.85 0.490626 -1.655072 0.961223 -1.308148 1.308148 C -0.961223 1.655072 -0.490626 1.85 0 1.85 z" transform="translate(624.163827 171.21435)" style="fill: #ff0000"/>
<path d="M 0 1.85 C 0.490626 1.85 0.961223 1.655072 1.308148 1.308148 C 1.655072 0.961223 1.85 0.490626 1.85 0 C 1.85 -0.490626 1.655072 -0.961223 1.308148 -1.308148 C 0.961223 -1.655072 0.490626 -1.85 0 -1.85 C -0.490626 -1.85 -0.961223 -1.655072 -1.308148 -1.308148 C -1.655072 -0.961223 -1.85 -0.490626 -1.85 0 C -1.85 0.490626 -1.655072 0.961223 -1.308148 1.308148 C -0.961223 1.655072 -0.490626 1.85 0 1.85 z" transform="translate(609.335725 135.579073)" style="fill: #ff0000"/>
<path d="M 0 1.85 C 0.490626 1.85 0.961223 1.655072 1.308148 1.308148 C 1.655072 0.961223 1.85 0.490626 1.85 0 C 1.85 -0.490626 1.655072 -0.961223 1.308148 -1.308148 C 0.961223 -1.655072 0.490626 -1.85 0 -1.85 C -0.490626 -1.85 -0.961223 -1.655072 -1.308148 -1.308148 C -1.655072 -0.961223 -1.85 -0.490626 -1.85 0 C -1.85 0.490626 -1.655072 0.961223 -1.308148 1.308148 C -0.961223 1.655072 -0.490626 1.85 0 1.85 z" transform="translate(613.640658 135.937818)" style="fill: #ff0000"/>
<path d="M 0 1.85 C 0.490626 1.85 0.961223 1.655072 1.308148 1.308148 C 1.655072 0.961223 1.85 0.490626 1.85 0 C 1.85 -0.490626 1.655072 -0.961223 1.308148 -1.308148 C 0.961223 -1.655072 0.490626 -1.85 0 -1.85 C -0.490626 -1.85 -0.961223 -1.655072 -1.308148 -1.308148 C -1.655072 -0.961223 -1.85 -0.490626 -1.85 0 C -1.85 0.490626 -1.655072 0.961223 -1.308148 1.308148 C -0.961223 1.655072 -0.490626 1.85 0 1.85 z" transform="translate(617.347683 146.580568)" style="fill: #ff0000"/>
<path d="M 0 1.85 C 0.490626 1.85 0.961223 1.655072 1.308148 1.308148 C 1.655072 0.961223 1.85 0.490626 1.85 0 C 1.85 -0.490626 1.655072 -0.961223 1.308148 -1.308148 C 0.961223 -1.655072 0.490626 -1.85 0 -1.85 C -0.490626 -1.85 -0.961223 -1.655072 -1.308148 -1.308148 C -1.655072 -0.961223 -1.85 -0.490626 -1.85 0 C -1.85 0.490626 -1.655072 0.961223 -1.308148 1.308148 C -0.961223 1.655072 -0.490626 1.85 0 1.85 z" transform="translate(630.023318 153.755456)" style="fill: #ff0000"/>
<path d="M 0 1.85 C 0.490626 1.85 0.961223 1.655072 1.308148 1.308148 C 1.655072 0.961223 1.85 0.490626 1.85 0 C 1.85 -0.490626 1.655072 -0.961223 1.308148 -1.308148 C 0.961223 -1.655072 0.490626 -1.85 0 -1.85 C -0.490626 -1.85 -0.961223 -1.655072 -1.308148 -1.308148 C -1.655072 -0.961223 -1.85 -0.490626 -1.85 0 C -1.85 0.490626 -1.655072 0.961223 -1.308148 1.308148 C -0.961223 1.655072 -0.490626 1.85 0 1.85 z" transform="translate(626.07713 157.103737)" style="fill: #ff0000"/>
<path d="M 0 1.85 C 0.490626 1.85 0.961223 1.655072 1.308148 1.308148 C 1.655072 0.961223 1.85 0.490626 1.85 0 C 1.85 -0.490626 1.655072 -0.961223 1.308148 -1.308148 C 0.961223 -1.655072 0.490626 -1.85 0 -1.85 C -0.490626 -1.85 -0.961223 -1.655072 -1.308148 -1.308148 C -1.655072 -0.961223 -1.85 -0.490626 -1.85 0 C -1.85 0.490626 -1.655072 0.961223 -1.308148 1.308148 C -0.961223 1.655072 -0.490626 1.85 0 1.85 z" transform="translate(624.642152 160.093274)" style="fill: #ff0000"/>
<path d="M 0 1.85 C 0.490626 1.85 0.961223 1.655072 1.308148 1.308148 C 1.655072 0.961223 1.85 0.490626 1.85 0 C 1.85 -0.490626 1.655072 -0.961223 1.308148 -1.308148 C 0.961223 -1.655072 0.490626 -1.85 0 -1.85 C -0.490626 -1.85 -0.961223 -1.655072 -1.308148 -1.308148 C -1.655072 -0.961223 -1.85 -0.490626 -1.85 0 C -1.85 0.490626 -1.655072 0.961223 -1.308148 1.308148 C -0.961223 1.655072 -0.490626 1.85 0 1.85 z" transform="translate(620.863378 145.863079)" style="fill: #ff0000"/>
<path d="M 0 1.85 C 0.490626 1.85 0.961223 1.655072 1.308148 1.308148 C 1.655072 0.961223 1.85 0.490626 1.85 0 C 1.85 -0.490626 1.655072 -0.961223 1.308148 -1.308148 C 0.961223 -1.655072 0.490626 -1.85 0 -1.85 C -0.490626 -1.85 -0.961223 -1.655072 -1.308148 -1.308148 C -1.655072 -0.961223 -1.85 -0.490626 -1.85 0 C -1.85 0.490626 -1.655072 0.961223 -1.308148 1.308148 C -0.961223 1.655072 -0.490626 1.85 0 1.85 z" transform="translate(625.718386 150.287593)" style="fill: #ff0000"/>
</g>
</g>
<g id="patch_15">
<path d="M 590.016 258.096 L 590.016 40.368" style="fill: none; stroke: #000000; stroke-linejoin: miter; stroke-linecap: square"/>
</g>
<g id="patch_16">
<path d="M 807.888 258.096 L 807.888 40.368" style="fill: none; stroke: #000000; stroke-linejoin: miter; stroke-linecap: square"/>
</g>
<g id="patch_17">
<path d="M 590.016 258.096 L 807.888 258.096" style="fill: none; stroke: #000000; stroke-linejoin: miter; stroke-linecap: square"/>
</g>
<g id="patch_18">
<path d="M 590.016 40.368 L 807.888 40.368" style="fill: none; stroke: #000000; stroke-linejoin: miter; stroke-linecap: square"/>
</g>
<g id="matplotlib.axis_5">
<g id="xtick_18">
<g id="line2d_96">
<path d="M 590.016 258.096 L 590.016 40.368" clip-path="url(#pbc89be7920)" style="fill: none; stroke-dasharray: 1,3; stroke-dashoffset: 0; stroke: #000000; stroke-width: 0.5"/>
</g>
<g id="line2d_97">
<g>
<path d="M 0 0 L 0 -3.7" transform="translate(590.016 258.096)" style="stroke: #000000; stroke-width: 0.5"/>
</g>
</g>
<g id="line2d_98">
<g>
<path d="M 0 0 L 0 3.7" transform="translate(590.016 40.368)" style="stroke: #000000; stroke-width: 0.5"/>
</g>
</g>
<g id="text_46">
<text style="font-size: 8px; font-family: 'DejaVu Sans', 'Liberation Sans', sans-serif; text-anchor: middle" x="590.016" y="269.17475" transform="rotate(-0 590.016 269.17475) translate(590.016 269.17475) scale(1 1.060) translate(-590.016 -269.17475)">20</text>
</g>
</g>
<g id="xtick_19">
<g id="line2d_99">
<path d="M 621.140571 258.096 L 621.140571 40.368" clip-path="url(#pbc89be7920)" style="fill: none; stroke-dasharray: 1,3; stroke-dashoffset: 0; stroke: #000000; stroke-width: 0.5"/>
</g>
<g id="line2d_100">
<g>
<path d="M 0 0 L 0 -3.7" transform="translate(621.140571 258.096)" style="stroke: #000000; stroke-width: 0.5"/>
</g>
</g>
<g id="line2d_101">
<g>
<path d="M 0 0 L 0 3.7" transform="translate(621.140571 40.368)" style="stroke: #000000; stroke-width: 0.5"/>
</g>
</g>
<g id="text_47">
<text style="font-size: 8px; font-family: 'DejaVu Sans', 'Liberation Sans', sans-serif; text-anchor: middle" x="621.140571" y="269.17475" transform="rotate(-0 621.140571 269.17475) translate(621.140571 269.17475) scale(1 1.060) translate(-621.140571 -269.17475)">30</text>
</g>
</g>
<g id="xtick_20">
<g id="line2d_102">
<path d="M 652.265143 258.096 L 652.265143 40.368" clip-path="url(#pbc89be7920)" style="fill: none; stroke-dasharray: 1,3; stroke-dashoffset: 0; stroke: #000000; stroke-width: 0.5"/>
</g>
<g id="line2d_103">
<g>
<path d="M 0 0 L 0 -3.7" transform="translate(652.265143 258.096)" style="stroke: #000000; stroke-width: 0.5"/>
</g>
</g>
<g id="line2d_104">
<g>
<path d="M 0 0 L 0 3.7" transform="translate(652.265143 40.368)" style="stroke: #000000; stroke-width: 0.5"/>
</g>
</g>
<g id="text_48">
<text style="font-size: 8px; font-family: 'DejaVu Sans', 'Liberation Sans', sans-serif; text-anchor: middle" x="652.265143" y="269.17475" transform="rotate(-0 652.265143 269.17475) translate(652.265143 269.17475) scale(1 1.060) translate(-652.265143 -269.17475)">40</text>
</g>
</g>
<g id="xtick_21">
<g id="line2d_105">
<path d="M 683.389714 258.096 L 683.389714 40.368" clip-path="url(#pbc89be7920)" style="fill: none; stroke-dasharray: 1,3; stroke-dashoffset: 0; stroke: #000000; stroke-width: 0.5"/>
</g>
<g id="line2d_106">
<g>
<path d="M 0 0 L 0 -3.7" transform="translate(683.389714 258.096)" style="stroke: #000000; stroke-width: 0.5"/>
</g>
</g>
<g id="line2d_107">
<g>
<path d="M 0 0 L 0 3.7" transform="translate(683.389714 40.368)" style="stroke: #000000; stroke-width: 0.5"/>
</g>
</g>
<g id="text_49">
<text style="font-size: 8px; font-family: 'DejaVu Sans', 'Liberation Sans', sans-serif; text-anchor: middle" x="683.389714" y="269.17475" transform="rotate(-0 683.389714 269.17475) translate(683.389714 269.17475) scale(1 1.060) translate(-683.389714 -269.17475)">50</text>
</g>
</g>
<g id="xtick_22">
<g id="line2d_108">
<path d="M 714.514286 258.096 L 714.514286 40.368" clip-path="url(#pbc89be7920)" style="fill: none; stroke-dasharray: 1,3; stroke-dashoffset: 0; stroke: #000000; stroke-width: 0.5"/>
</g>
<g id="line2d_109">
<g>
<path d="M 0 0 L 0 -3.7" transform="translate(714.514286 258.096)" style="stroke: #000000; stroke-width: 0.5"/>
</g>
</g>
<g id="line2d_110">
<g>
<path d="M 0 0 L 0 3.7" transform="translate(714.514286 40.368)" style="stroke: #000000; stroke-width: 0.5"/>
</g>
</g>
<g id="text_50">
<text style="font-size: 8px; font-family: 'DejaVu Sans', 'Liberation Sans', sans-serif; text-anchor: middle" x="714.514286" y="269.17475" transform="rotate(-0 714.514286 269.17475) translate(714.514286 269.17475) scale(1 1.060) translate(-714.514286 -269.17475)">60</text>
</g>
</g>
<g id="xtick_23">
<g id="line2d_111">
<path d="M 745.638857 258.096 L 745.638857 40.368" clip-path="url(#pbc89be7920)" style="fill: none; stroke-dasharray: 1,3; stroke-dashoffset: 0; stroke: #000000; stroke-width: 0.5"/>
</g>
<g id="line2d_112">
<g>
<path d="M 0 0 L 0 -3.7" transform="translate(745.638857 258.096)" style="stroke: #000000; stroke-width: 0.5"/>
</g>
</g>
<g id="line2d_113">
<g>
<path d="M 0 0 L 0 3.7" transform="translate(745.638857 40.368)" style="stroke: #000000; stroke-width: 0.5"/>
</g>
</g>
<g id="text_51">
<text style="font-size: 8px; font-family: 'DejaVu Sans', 'Liberation Sans', sans-serif; text-anchor: middle" x="745.638857" y="269.17475" transform="rotate(-0 745.638857 269.17475) translate(745.638857 269.17475) scale(1 1.060) translate(-745.638857 -269.17475)">70</text>
</g>
</g>
<g id="xtick_24">
<g id="line2d_114">
<path d="M 776.763429 258.096 L 776.763429 40.368" clip-path="url(#pbc89be7920)" style="fill: none; stroke-dasharray: 1,3; stroke-dashoffset: 0; stroke: #000000; stroke-width: 0.5"/>
</g>
<g id="line2d_115">
<g>
<path d="M 0 0 L 0 -3.7" transform="translate(776.763429 258.096)" style="stroke: #000000; stroke-width: 0.5"/>
</g>
</g>
<g id="line2d_116">
<g>
<path d="M 0 0 L 0 3.7" transform="translate(776.763429 40.368)" style="stroke: #000000; stroke-width: 0.5"/>
</g>
</g>
<g id="text_52">
<text style="font-size: 8px; font-family: 'DejaVu Sans', 'Liberation Sans', sans-serif; text-anchor: middle" x="776.763429" y="269.17475" transform="rotate(-0 776.763429 269.17475) translate(776.763429 269.17475) scale(1 1.060) translate(-776.763429 -269.17475)">80</text>
</g>
</g>
<g id="xtick_25">
<g id="line2d_117">
<path d="M 807.888 258.096 L 807.888 40.368" clip-path="url(#pbc89be7920)" style="fill: none; stroke-dasharray: 1,3; stroke-dashoffset: 0; stroke: #000000; stroke-width: 0.5"/>
</g>
<g id="line2d_118">
<g>
<path d="M 0 0 L 0 -3.7" transform="translate(807.888 258.096)" style="stroke: #000000; stroke-width: 0.5"/>
</g>
</g>
<g id="line2d_119">
<g>
<path d="M 0 0 L 0 3.7" transform="translate(807.888 40.368)" style="stroke: #000000; stroke-width: 0.5"/>
</g>
</g>
<g id="text_53">
<text style="font-size: 8px; font-family: 'DejaVu Sans', 'Liberation Sans', sans-serif; text-anchor: middle" x="807.888" y="269.17475" transform="rotate(-0 807.888 269.17475) translate(807.888 269.17475) scale(1 1.060) translate(-807.888 -269.17475)">90</text>
</g>
</g>
<g id="text_54">
<text style="font-size: 8px; font-family: 'DejaVu Sans', 'Liberation Sans', sans-serif; text-anchor: middle" x="698.952" y="283.81725" transform="rotate(-0 698.952 283.81725) translate(698.952 283.81725) scale(1 1.060) translate(-698.952 -283.81725)">V3(km/s)</text>
</g>
</g>
<g id="matplotlib.axis_6">
<g id="ytick_18">
<g id="line2d_120">
<path d="M 590.016 255.29664 L 807.888 255.29664" clip-path="url(#pbc89be7920)" style="fill: none; stroke-dasharray: 1,3; stroke-dashoffset: 0; stroke: #000000; stroke-width: 0.5"/>
</g>
<g id="line2d_121">
<g>
<path d="M 0 0 L 3.7 0" transform="translate(590.016 255.29664)" style="stroke: #000000; stroke-width: 0.5"/>
</g>
</g>
<g id="line2d_122">
<g>
<path d="M 0 0 L -3.7 0" transform="translate(807.888 255.29664)" style="stroke: #000000; stroke-width: 0.5"/>
</g>
</g>
<g id="text_55">
<text style="font-size: 8px; font-family: 'DejaVu Sans', 'Liberation Sans', sans-serif; text-anchor: end" x="586.016" y="257.50414" transform="rotate(-0 586.016 257.50414) translate(586.016 257.50414) scale(1 1.060) translate(-586.016 -257.50414)">−30</text>
</g>
</g>
<g id="ytick_19">
<g id="line2d_123">
<path d="M 590.016 224.19264 L 807.888 224.19264" clip-path="url(#pbc89be7920)" style="fill: none; stroke-dasharray: 1,3; stroke-dashoffset: 0; stroke: #000000; stroke-width: 0.5"/>
</g>
<g id="line2d_124">
<g>
<path d="M 0 0 L 3.7 0" transform="translate(590.016 224.19264)" style="stroke: #000000; stroke-width: 0.5"/>
</g>
</g>
<g id="line2d_125">
<g>
<path d="M 0 0 L -3.7 0" transform="translate(807.888 224.19264)" style="stroke: #000000; stroke-width: 0.5"/>
</g>
</g>
<g id="text_56">
<text style="font-size: 8px; font-family: 'DejaVu Sans', 'Liberation Sans', sans-serif; text-anchor: end" x="586.016" y="226.40014" transform="rotate(-0 586.016 226.40014) translate(586.016 226.40014) scale(1 1.060) translate(-586.016 -226.40014)">−20</text>
</g>
</g>
<g id="ytick_20">
<g id="line2d_126">
<path d="M 590.016 193.08864 L 807.888 193.08864" clip-path="url(#pbc89be7920)" style="fill: none; stroke-dasharray: 1,3; stroke-dashoffset: 0; stroke: #000000; stroke-width: 0.5"/>
</g>
<g id="line2d_127">
<g>
<path d="M 0 0 L 3.7 0" transform="translate(590.016 193.08864)" style="stroke: #000000; stroke-width: 0.5"/>
</g>
</g>
<g id="line2d_128">
<g>
<path d="M 0 0 L -3.7 0" transform="translate(807.888 193.08864)" style="stroke: #000000; stroke-width: 0.5"/>
</g>
</g>
<g id="text_57">
<text style="font-size: 8px; font-family: 'DejaVu Sans', 'Liberation Sans', sans-serif; text-anchor: end" x="586.016" y="195.29614" transform="rotate(-0 586.016 195.29614) translate(586.016 195.29614) scale(1 1.060) translate(-586.016 -195.29614)">−10</text>
</g>
</g>
<g id="ytick_21">
<g id="line2d_129">
<path d="M 590.016 161.98464 L 807.888 161.98464" clip-path="url(#pbc89be7920)" style="fill: none; stroke-dasharray: 1,3; stroke-dashoffset: 0; stroke: #000000; stroke-width: 0.5"/>
</g>
<g id="line2d_130">
<g>
<path d="M 0 0 L 3.7 0" transform="translate(590.016 161.98464)" style="stroke: #000000; stroke-width: 0.5"/>
</g>
</g>
<g id="line2d_131">
<g>
<path d="M 0 0 L -3.7 0" transform="translate(807.888 161.98464)" style="stroke: #000000; stroke-width: 0.5"/>
</g>
</g>
<g id="text_58">
<text style="font-size: 8px; font-family: 'DejaVu Sans', 'Liberation Sans', sans-serif; text-anchor: end" x="586.016" y="164.19214" transform="rotate(-0 586.016 164.19214) translate(586.016 164.19214) scale(1 1.060) translate(-586.016 -164.19214)">0</text>
</g>
</g>
<g id="ytick_22">
<g id="line2d_132">
<path d="M 590.016 130.88064 L 807.888 130.88064" clip-path="url(#pbc89be7920)" style="fill: none; stroke-dasharray: 1,3; stroke-dashoffset: 0; stroke: #000000; stroke-width: 0.5"/>
</g>
<g id="line2d_133">
<g>
<path d="M 0 0 L 3.7 0" transform="translate(590.016 130.88064)" style="stroke: #000000; stroke-width: 0.5"/>
</g>
</g>
<g id="line2d_134">
<g>
<path d="M 0 0 L -3.7 0" transform="translate(807.888 130.88064)" style="stroke: #000000; stroke-width: 0.5"/>
</g>
</g>
<g id="text_59">
<text style="font-size: 8px; font-family: 'DejaVu Sans', 'Liberation Sans', sans-serif; text-anchor: end" x="586.016" y="133.08814" transform="rotate(-0 586.016 133.08814) translate(586.016 133.08814) scale(1 1.060) translate(-586.016 -133.08814)">10</text>
</g>
</g>
<g id="ytick_23">
<g id="line2d_135">
<path d="M 590.016 99.77664 L 807.888 99.77664" clip-path="url(#pbc89be7920)" style="fill: none; stroke-dasharray: 1,3; stroke-dashoffset: 0; stroke: #000000; stroke-width: 0.5"/>
</g>
<g id="line2d_136">
<g>
<path d="M 0 0 L 3.7 0" transform="translate(590.016 99.77664)" style="stroke: #000000; stroke-width: 0.5"/>
</g>
</g>
<g id="line2d_137">
<g>
<path d="M 0 0 L -3.7 0" transform="translate(807.888 99.77664)" style="stroke: #000000; stroke-width: 0.5"/>
</g>
</g>
<g id="text_60">
<text style="font-size: 8px; font-family: 'DejaVu Sans', 'Liberation Sans', sans-serif; text-anchor: end" x="586.016" y="101.98414" transform="rotate(-0 586.016 101.98414) translate(586.016 101.98414) scale(1 1.060) translate(-586.016 -101.98414)">20</text>
</g>
</g>
<g id="ytick_24">
<g id="line2d_138">
<path d="M 590.016 68.67264 L 807.888 68.67264" clip-path="url(#pbc89be7920)" style="fill: none; stroke-dasharray: 1,3; stroke-dashoffset: 0; stroke: #000000; stroke-width: 0.5"/>
</g>
<g id="line2d_139">
<g>
<path d="M 0 0 L 3.7 0" transform="translate(590.016 68.67264)" style="stroke: #000000; stroke-width: 0.5"/>
</g>
</g>
<g id="line2d_140">
<g>
<path d="M 0 0 L -3.7 0" transform="translate(807.888 68.67264)" style="stroke: #000000; stroke-width: 0.5"/>
</g>
</g>
<g id="text_61">
<text style="font-size: 8px; font-family: 'DejaVu Sans', 'Liberation Sans', sans-serif; text-anchor: end" x="586.016" y="70.88014" transform="rotate(-0 586.016 70.88014) translate(586.016 70.88014) scale(1 1.060) translate(-586.016 -70.88014)">30</text>
</g>
</g>
<g id="text_62">
<text style="font-size: 8px; font-family: 'DejaVu Sans', 'Liberation Sans', sans-serif; text-anchor: middle" x="561.9885" y="150.192" transform="rotate(-90 561.9885 150.192) translate(561.9885 150.192) scale(1 1.060) translate(-561.9885 -150.192)">V1(km/s)</text>
</g>
</g>
<g id="text_63">
<!-- $\lambda_1/\lambda_3\approx$ 414.63 -->
<g transform="translate(605.463125 247.579738)">
<text>
<tspan x="0" y="-0.3125" style="font-size: 8.8px; font-family: 'Latin Modern Math', 'DejaVu Serif', serif; font-style: italic">λ</tspan>
<tspan x="8.768759" y="-0.3125" style="font-size: 8.8px; font-family: 'Latin Modern Math', 'DejaVu Serif', serif">/</tspan>
<tspan x="13.167197" y="-0.3125" style="font-size: 8.8px; font-family: 'Latin Modern Math', 'DejaVu Serif', serif; font-style: italic">λ</tspan>
<tspan x="5.128647" y="1.18405" style="font-size: 6.16px; font-family: 'Latin Modern Roman', 'DejaVu Serif', serif">1</tspan>
<tspan x="18.295844" y="1.18405" style="font-size: 6.16px; font-family: 'Latin Modern Roman', 'DejaVu Serif', serif">3</tspan>
<tspan x="23.480564" y="-0.3125" style="font-size: 8.8px; font-family: 'Latin Modern Math', 'DejaVu Sans', sans-serif">≈</tspan>
<tspan x="31.859064" y="-0.3125" style="font-size: 8.8px; font-family: 'DejaVu Sans', 'Liberation Sans', sans-serif"> </tspan>
<tspan x="34.640436" y="-0.3125" style="font-size: 8.8px; font-family: 'DejaVu Sans', 'Liberation Sans', sans-serif">4</tspan>
<tspan x="40.207453" y="-0.3125" style="font-size: 8.8px; font-family: 'DejaVu Sans', 'Liberation Sans', sans-serif">1</tspan>
<tspan x="45.774469" y="-0.3125" style="font-size: 8.8px; font-family: 'DejaVu Sans', 'Liberation Sans', sans-serif">4</tspan>
<tspan x="51.341486" y="-0.3125" style="font-size: 8.8px; font-family: 'DejaVu Sans', 'Liberation Sans', sans-serif">.</tspan>
<tspan x="54.122858" y="-0.3125" style="font-size: 8.8px; font-family: 'DejaVu Sans', 'Liberation Sans', sans-serif">6</tspan>
<tspan x="59.689875" y="-0.3125" style="font-size: 8.8px; font-family: 'DejaVu Sans', 'Liberation Sans', sans-serif">3</tspan>
</text>
</g>
</g>
<g id="text_64">
<text style="font-size: 11.0656px; font-family: 'DejaVu Sans', 'Liberation Sans', sans-serif; text-anchor: middle" x="698.952" y="35.368" transform="rotate(-0 698.952 35.368)">Hodogram(V3_V1 MVAB frame)</text>
</g>
<g id="legend_3">
<g id="patch_19">
<path d="M 748.808 71.936906 L 804.388 71.936906 L 804.388 43.868 L 748.808 43.868 z" style="fill: #ffffff; stroke: #000000; stroke-linejoin: miter"/>
</g>
<g id="line2d_141">
<path d="M 754.618 50.868 L 764.418 50.868" style="fill: none; stroke: #0000ff; stroke-linecap: square"/>
<g>
<path d="M 0 1.85 C 0.490626 1.85 0.961223 1.655072 1.308148 1.308148 C 1.655072 0.961223 1.85 0.490626 1.85 0 C 1.85 -0.490626 1.655072 -0.961223 1.308148 -1.308148 C 0.961223 -1.655072 0.490626 -1.85 0 -1.85 C -0.490626 -1.85 -0.961223 -1.655072 -1.308148 -1.308148 C -1.655072 -0.961223 -1.85 -0.490626 -1.85 0 C -1.85 0.490626 -1.655072 0.961223 -1.308148 1.308148 C -0.961223 1.655072 -0.490626 1.85 0 1.85 z" transform="translate(754.618 50.868)" style="fill: #0000ff"/>
<path d="M 0 1.85 C 0.490626 1.85 0.961223 1.655072 1.308148 1.308148 C 1.655072 0.961223 1.85 0.490626 1.85 0 C 1.85 -0.490626 1.655072 -0.961223 1.308148 -1.308148 C 0.961223 -1.655072 0.490626 -1.85 0 -1.85 C -0.490626 -1.85 -0.961223 -1.655072 -1.308148 -1.308148 C -1.655072 -0.961223 -1.85 -0.490626 -1.85 0 C -1.85 0.490626 -1.655072 0.961223 -1.308148 1.308148 C -0.961223 1.655072 -0.490626 1.85 0 1.85 z" transform="translate(764.418 50.868)" style="fill: #0000ff"/>
</g>
</g>
<g id="text_65">
<!-- B/$\sqrt{\mu_0\rho}$ -->
<g transform="translate(772.118 53.318)">
<text>
<tspan x="0" y="-0.314375" style="font-size: 7px; font-family: 'DejaVu Sans', 'Liberation Sans', sans-serif">B</tspan>
<tspan x="4.802246" y="-0.314375" style="font-size: 7px; font-family: 'DejaVu Sans', 'Liberation Sans', sans-serif">/</tspan>
<tspan x="13.691895" y="-0.46875" style="font-size: 7px; font-family: 'Latin Modern Math', 'DejaVu Serif', serif; font-style: italic">μ</tspan>
<tspan x="20.802664" y="-0.46875" style="font-size: 7px; font-family: 'Latin Modern Math', 'DejaVu Serif', serif; font-style: italic">ρ</tspan>
<tspan x="17.90625" y="0.721687" style="font-size: 4.9px; font-family: 'Latin Modern Roman', 'DejaVu Serif', serif">0</tspan>
</text><text transform="translate(6.866 1.804) scale(1.004 1)" style="font-size: 9.777px; font-family: 'DejaVu Sans', 'Liberation Sans', sans-serif">√</text>
<rect x="12.816895" y="-6.125" width="12.480398" height="0.4375"/>
</g>
</g>
<g id="line2d_142">
<path d="M 754.618 63.536906 L 764.418 63.536906" style="fill: none; stroke: #ff0000; stroke-linecap: square"/>
<g>
<path d="M 0 1.85 C 0.490626 1.85 0.961223 1.655072 1.308148 1.308148 C 1.655072 0.961223 1.85 0.490626 1.85 0 C 1.85 -0.490626 1.655072 -0.961223 1.308148 -1.308148 C 0.961223 -1.655072 0.490626 -1.85 0 -1.85 C -0.490626 -1.85 -0.961223 -1.655072 -1.308148 -1.308148 C -1.655072 -0.961223 -1.85 -0.490626 -1.85 0 C -1.85 0.490626 -1.655072 0.961223 -1.308148 1.308148 C -0.961223 1.655072 -0.490626 1.85 0 1.85 z" transform="translate(754.618 63.536906)" style="fill: #ff0000"/>
<path d="M 0 1.85 C 0.490626 1.85 0.961223 1.655072 1.308148 1.308148 C 1.655072 0.961223 1.85 0.490626 1.85 0 C 1.85 -0.490626 1.655072 -0.961223 1.308148 -1.308148 C 0.961223 -1.655072 0.490626 -1.85 0 -1.85 C -0.490626 -1.85 -0.961223 -1.655072 -1.308148 -1.308148 C -1.655072 -0.961223 -1.85 -0.490626 -1.85 0 C -1.85 0.490626 -1.655072 0.961223 -1.308148 1.308148 C -0.961223 1.655072 -0.490626 1.85 0 1.85 z" transform="translate(764.418 63.536906)" style="fill: #ff0000"/>
</g>
</g>
<g id="text_66">
<!-- V$_{remaining}$ -->
<g transform="translate(772.118 65.986906)">
<text>
<tspan x="0" y="-0.890625" style="font-size: 7px; font-family: 'DejaVu Sans', 'Liberation Sans', sans-serif">V</tspan>
<tspan x="5.101064" y="0.299812" style="font-size: 4.9px; font-family: 'Latin Modern Roman', 'DejaVu Serif', serif; font-style: italic">r</tspan>
<tspan x="7.311806" y="0.299812" style="font-size: 4.9px; font-family: 'Latin Modern Roman', 'DejaVu Serif', serif; font-style: italic">e</tspan>
<tspan x="9.589541" y="0.299812" style="font-size: 4.9px; font-family: 'Latin Modern Roman', 'DejaVu Serif', serif; font-style: italic">m</tspan>
<tspan x="13.891396" y="0.299812" style="font-size: 4.9px; font-family: 'Latin Modern Roman', 'DejaVu Serif', serif; font-style: italic">a</tspan>
<tspan x="16.477773" y="0.299812" style="font-size: 4.9px; font-family: 'Latin Modern Roman', 'DejaVu Serif', serif; font-style: italic">i</tspan>
<tspan x="18.164541" y="0.299812" style="font-size: 4.9px; font-family: 'Latin Modern Roman', 'DejaVu Serif', serif; font-style: italic">n</tspan>
<tspan x="21.105019" y="0.299812" style="font-size: 4.9px; font-family: 'Latin Modern Roman', 'DejaVu Serif', serif; font-style: italic">i</tspan>
<tspan x="22.791787" y="0.299812" style="font-size: 4.9px; font-family: 'Latin Modern Roman', 'DejaVu Serif', serif; font-style: italic">n</tspan>
<tspan x="25.732265" y="0.299812" style="font-size: 4.9px; font-family: 'Latin Modern Roman', 'DejaVu Serif', serif; font-style: italic">g</tspan>
</text>
</g>
</g>
</g>
</g>
<g id="axes_4">
<g id="patch_20">
<path d="M 56.16 535.632 L 274.032 535.632 L 274.032 317.904 L 56.16 317.904 z" style="fill: #ffffff"/>
</g>
<g id="line2d_143">
<g clip-path="url(#p0fcc5497d2)">
<path d="M 0 2.65 C 0.702788 2.65 1.376887 2.370779 1.873833 1.873833 C 2.370779 1.376887 2.65 0.702788 2.65 0 C 2.65 -0.702788 2.370779 -1.376887 1.873833 -1.873833 C 1.376887 -2.370779 0.702788 -2.65 0 -2.65 C -0.702788 -2.65 -1.376887 -2.370779 -1.873833 -1.873833 C -2.370779 -1.376887 -2.65 -0.702788 -2.65 0 C -2.65 0.702788 -2.370779 1.376887 -1.873833 1.873833 C -1.376887 2.370779 -0.702788 2.65 0 2.65 z" transform="translate(60.654093 527.138238)" style="fill: #008000"/>
<path d="M 0 2.65 C 0.702788 2.65 1.376887 2.370779 1.873833 1.873833 C 2.370779 1.376887 2.65 0.702788 2.65 0 C 2.65 -0.702788 2.370779 -1.376887 1.873833 -1.873833 C 1.376887 -2.370779 0.702788 -2.65 0 -2.65 C -0.702788 -2.65 -1.376887 -2.370779 -1.873833 -1.873833 C -2.370779 -1.376887 -2.65 -0.702788 -2.65 0 C -2.65 0.702788 -2.370779 1.376887 -1.873833 1.873833 C -1.376887 2.370779 -0.702788 2.65 0 2.65 z" transform="translate(64.850984 521.386943)" style="fill: #008000"/>
<path d="M 0 2.65 C 0.702788 2.65 1.376887 2.370779 1.873833 1.873833 C 2.370779 1.376887 2.65 0.702788 2.65 0 C 2.65 -0.702788 2.370779 -1.376887 1.873833 -1.873833 C 1.376887 -2.370779 0.702788 -2.65 0 -2.65 C -0.702788 -2.65 -1.376887 -2.370779 -1.873833 -1.873833 C -2.370779 -1.376887 -2.65 -0.702788 -2.65 0 C -2.65 0.702788 -2.370779 1.376887 -1.873833 1.873833 C -1.376887 2.370779 -0.702788 2.65 0 2.65 z" transform="translate(67.338031 512.215959)" style="fill: #008000"/>
<path d="M 0 2.65 C 0.702788 2.65 1.376887 2.370779 1.873833 1.873833 C 2.370779 1.376887 2.65 0.702788 2.65 0 C 2.65 -0.702788 2.370779 -1.376887 1.873833 -1.873833 C 1.376887 -2.370779 0.702788 -2.65 0 -2.65 C -0.702788 -2.65 -1.376887 -2.370779 -1.873833 -1.873833 C -2.370779 -1.376887 -2.65 -0.702788 -2.65 0 C -2.65 0.702788 -2.370779 1.376887 -1.873833 1.873833 C -1.376887 2.370779 -0.702788 2.65 0 2.65 z" transform="translate(73.555648 507.397306)" style="fill: #008000"/>
<path d="M 0 2.65 C 0.702788 2.65 1.376887 2.370779 1.873833 1.873833 C 2.370779 1.376887 2.65 0.702788 2.65 0 C 2.65 -0.702788 2.370779 -1.376887 1.873833 -1.873833 C 1.376887 -2.370779 0.702788 -2.65 0 -2.65 C -0.702788 -2.65 -1.376887 -2.370779 -1.873833 -1.873833 C -2.370779 -1.376887 -2.65 -0.702788 -2.65 0 C -2.65 0.702788 -2.370779 1.376887 -1.873833 1.873833 C -1.376887 2.370779 -0.702788 2.65 0 2.65 z" transform="translate(76.353575 500.713368)" style="fill: #008000"/>
<path d="M 0 2.65 C 0.702788 2.65 1.376887 2.370779 1.873833 1.873833 C 2.370779 1.376887 2.65 0.702788 2.65 0 C 2.65 -0.702788 2.370779 -1.376887 1.873833 -1.873833 C 1.376887 -2.370779 0.702788 -2.65 0 -2.65 C -0.702788 -2.65 -1.376887 -2.370779 -1.873833 -1.873833 C -2.370779 -1.376887 -2.65 -0.702788 -2.65 0 C -2.65 0.702788 -2.370779 1.376887 -1.873833 1.873833 C -1.376887 2.370779 -0.702788 2.65 0 2.65 z" transform="translate(79.306943 493.096788)" style="fill: #008000"/>
<path d="M 0 2.65 C 0.702788 2.65 1.376887 2.370779 1.873833 1.873833 C 2.370779 1.376887 2.65 0.702788 2.65 0 C 2.65 -0.702788 2.370779 -1.376887 1.873833 -1.873833 C 1.376887 -2.370779 0.702788 -2.65 0 -2.65 C -0.702788 -2.65 -1.376887 -2.370779 -1.873833 -1.873833 C -2.370779 -1.376887 -2.65 -0.702788 -2.65 0 C -2.65 0.702788 -2.370779 1.376887 -1.873833 1.873833 C -1.376887 2.370779 -0.702788 2.65 0 2.65 z" transform="translate(85.52456 501.801451)" style="fill: #008000"/>
<path d="M 0 2.65 C 0.702788 2.65 1.376887 2.370779 1.873833 1.873833 C 2.370779 1.376887 2.65 0.702788 2.65 0 C 2.65 -0.702788 2.370779 -1.376887 1.873833 -1.873833 C 1.376887 -2.370779 0.702788 -2.65 0 -2.65 C -0.702788 -2.65 -1.376887 -2.370779 -1.873833 -1.873833 C -2.370779 -1.376887 -2.65 -0.702788 -2.65 0 C -2.65 0.702788 -2.370779 1.376887 -1.873833 1.873833 C -1.376887 2.370779 -0.702788 2.65 0 2.65 z" transform="translate(88.322487 506.153782)" style="fill: #008000"/>
<path d="M 0 2.65 C 0.702788 2.65 1.376887 2.370779 1.873833 1.873833 C 2.370779 1.376887 2.65 0.702788 2.65 0 C 2.65 -0.702788 2.370779 -1.376887 1.873833 -1.873833 C 1.376887 -2.370779 0.702788 -2.65 0 -2.65 C -0.702788 -2.65 -1.376887 -2.370779 -1.873833 -1.873833 C -2.370779 -1.376887 -2.65 -0.702788 -2.65 0 C -2.65 0.702788 -2.370779 1.376887 -1.873833 1.873833 C -1.376887 2.370779 -0.702788 2.65 0 2.65 z" transform="translate(83.970155 508.95171)" style="fill: #008000"/>
<path d="M 0 2.65 C 0.702788 2.65 1.376887 2.370779 1.873833 1.873833 C 2.370779 1.376887 2.65 0.702788 2.65 0 C 2.65 -0.702788 2.370779 -1.376887 1.873833 -1.873833 C 1.376887 -2.370779 0.702788 -2.65 0 -2.65 C -0.702788 -2.65 -1.376887 -2.370779 -1.873833 -1.873833 C -2.370779 -1.376887 -2.65 -0.702788 -2.65 0 C -2.65 0.702788 -2.370779 1.376887 -1.873833 1.873833 C -1.376887 2.370779 -0.702788 2.65 0 2.65 z" transform="translate(87.545285 517.656373)" style="fill: #008000"/>
<path d="M 0 2.65 C 0.702788 2.65 1.376887 2.370779 1.873833 1.873833 C 2.370779 1.376887 2.65 0.702788 2.65 0 C 2.65 -0.702788 2.370779 -1.376887 1.873833 -1.873833 C 1.376887 -2.370779 0.702788 -2.65 0 -2.65 C -0.702788 -2.65 -1.376887 -2.370779 -1.873833 -1.873833 C -2.370779 -1.376887 -2.65 -0.702788 -2.65 0 C -2.65 0.702788 -2.370779 1.376887 -1.873833 1.873833 C -1.376887 2.370779 -0.702788 2.65 0 2.65 z" transform="translate(85.52456 521.386943)" style="fill: #008000"/>
<path d="M 0 2.65 C 0.702788 2.65 1.376887 2.370779 1.873833 1.873833 C 2.370779 1.376887 2.65 0.702788 2.65 0 C 2.65 -0.702788 2.370779 -1.376887 1.873833 -1.873833 C 1.376887 -2.370779 0.702788 -2.65 0 -2.65 C -0.702788 -2.65 -1.376887 -2.370779 -1.873833 -1.873833 C -2.370779 -1.376887 -2.65 -0.702788 -2.65 0 C -2.65 0.702788 -2.370779 1.376887 -1.873833 1.873833 C -1.376887 2.370779 -0.702788 2.65 0 2.65 z" transform="translate(85.52456 524.340311)" style="fill: #008000"/>
<path d="M 0 2.65 C 0.702788 2.65 1.376887 2.370779 1.873833 1.873833 C 2.370779 1.376887 2.65 0.702788 2.65 0 C 2.65 -0.702788 2.370779 -1.376887 1.873833 -1.873833 C 1.376887 -2.370779 0.702788 -2.65 0 -2.65 C -0.702788 -2.65 -1.376887 -2.370779 -1.873833 -1.873833 C -2.370779 -1.376887 -2.65 -0.702788 -2.65 0 C -2.65 0.702788 -2.370779 1.376887 -1.873833 1.873833 C -1.376887 2.370779 -0.702788 2.65 0 2.65 z" transform="translate(71.224041 535.687461)" style="fill: #008000"/>
</g>
</g>
<g id="line2d_144">
<g clip-path="url(#p0fcc5497d2)">
<path d="M 0 2.65 C 0.702788 2.65 1.376887 2.370779 1.873833 1.873833 C 2.370779 1.376887 2.65 0.702788 2.65 0 C 2.65 -0.702788 2.370779 -1.376887 1.873833 -1.873833 C 1.376887 -2.370779 0.702788 -2.65 0 -2.65 C -0.702788 -2.65 -1.376887 -2.370779 -1.873833 -1.873833 C -2.370779 -1.376887 -2.65 -0.702788 -2.65 0 C -2.65 0.702788 -2.370779 1.376887 -1.873833 1.873833 C -1.376887 2.370779 -0.702788 2.65 0 2.65 z" transform="translate(241.148127 470.59366)" style="fill: #ff0000"/>
<path d="M 0 2.65 C 0.702788 2.65 1.376887 2.370779 1.873833 1.873833 C 2.370779 1.376887 2.65 0.702788 2.65 0 C 2.65 -0.702788 2.370779 -1.376887 1.873833 -1.873833 C 1.376887 -2.370779 0.702788 -2.65 0 -2.65 C -0.702788 -2.65 -1.376887 -2.370779 -1.873833 -1.873833 C -2.370779 -1.376887 -2.65 -0.702788 -2.65 0 C -2.65 0.702788 -2.370779 1.376887 -1.873833 1.873833 C -1.376887 2.370779 -0.702788 2.65 0 2.65 z" transform="translate(242.116427 464.92219)" style="fill: #ff0000"/>
<path d="M 0 2.65 C 0.702788 2.65 1.376887 2.370779 1.873833 1.873833 C 2.370779 1.376887 2.65 0.702788 2.65 0 C 2.65 -0.702788 2.370779 -1.376887 1.873833 -1.873833 C 1.376887 -2.370779 0.702788 -2.65 0 -2.65 C -0.702788 -2.65 -1.376887 -2.370779 -1.873833 -1.873833 C -2.370779 -1.376887 -2.65 -0.702788 -2.65 0 C -2.65 0.702788 -2.370779 1.376887 -1.873833 1.873833 C -1.376887 2.370779 -0.702788 2.65 0 2.65 z" transform="translate(240.041499 459.527378)" style="fill: #ff0000"/>
<path d="M 0 2.65 C 0.702788 2.65 1.376887 2.370779 1.873833 1.873833 C 2.370779 1.376887 2.65 0.702788 2.65 0 C 2.65 -0.702788 2.370779 -1.376887 1.873833 -1.873833 C 1.376887 -2.370779 0.702788 -2.65 0 -2.65 C -0.702788 -2.65 -1.376887 -2.370779 -1.873833 -1.873833 C -2.370779 -1.376887 -2.65 -0.702788 -2.65 0 C -2.65 0.702788 -2.370779 1.376887 -1.873833 1.873833 C -1.376887 2.370779 -0.702788 2.65 0 2.65 z" transform="translate(243.776369 460.634006)" style="fill: #ff0000"/>
<path d="M 0 2.65 C 0.702788 2.65 1.376887 2.370779 1.873833 1.873833 C 2.370779 1.376887 2.65 0.702788 2.65 0 C 2.65 -0.702788 2.370779 -1.376887 1.873833 -1.873833 C 1.376887 -2.370779 0.702788 -2.65 0 -2.65 C -0.702788 -2.65 -1.376887 -2.370779 -1.873833 -1.873833 C -2.370779 -1.376887 -2.65 -0.702788 -2.65 0 C -2.65 0.702788 -2.370779 1.376887 -1.873833 1.873833 C -1.376887 2.370779 -0.702788 2.65 0 2.65 z" transform="translate(244.60634 456.899135)" style="fill: #ff0000"/>
<path d="M 0 2.65 C 0.702788 2.65 1.376887 2.370779 1.873833 1.873833 C 2.370779 1.376887 2.65 0.702788 2.65 0 C 2.65 -0.702788 2.370779 -1.376887 1.873833 -1.873833 C 1.376887 -2.370779 0.702788 -2.65 0 -2.65 C -0.702788 -2.65 -1.376887 -2.370779 -1.873833 -1.873833 C -2.370779 -1.376887 -2.65 -0.702788 -2.65 0 C -2.65 0.702788 -2.370779 1.376887 -1.873833 1.873833 C -1.376887 2.370779 -0.702788 2.65 0 2.65 z" transform="translate(244.329683 450.397695)" style="fill: #ff0000"/>
<path d="M 0 2.65 C 0.702788 2.65 1.376887 2.370779 1.873833 1.873833 C 2.370779 1.376887 2.65 0.702788 2.65 0 C 2.65 -0.702788 2.370779 -1.376887 1.873833 -1.873833 C 1.376887 -2.370779 0.702788 -2.65 0 -2.65 C -0.702788 -2.65 -1.376887 -2.370779 -1.873833 -1.873833 C -2.370779 -1.376887 -2.65 -0.702788 -2.65 0 C -2.65 0.702788 -2.370779 1.376887 -1.873833 1.873833 C -1.376887 2.370779 -0.702788 2.65 0 2.65 z" transform="translate(247.096254 449.152738)" style="fill: #ff0000"/>
<path d="M 0 2.65 C 0.702788 2.65 1.376887 2.370779 1.873833 1.873833 C 2.370779 1.376887 2.65 0.702788 2.65 0 C 2.65 -0.702788 2.370779 -1.376887 1.873833 -1.873833 C 1.376887 -2.370779 0.702788 -2.65 0 -2.65 C -0.702788 -2.65 -1.376887 -2.370779 -1.873833 -1.873833 C -2.370779 -1.376887 -2.65 -0.702788 -2.65 0 C -2.65 0.702788 -2.370779 1.376887 -1.873833 1.873833 C -1.376887 2.370779 -0.702788 2.65 0 2.65 z" transform="translate(248.34121 445.556196)" style="fill: #ff0000"/>
<path d="M 0 2.65 C 0.702788 2.65 1.376887 2.370779 1.873833 1.873833 C 2.370779 1.376887 2.65 0.702788 2.65 0 C 2.65 -0.702788 2.370779 -1.376887 1.873833 -1.873833 C 1.376887 -2.370779 0.702788 -2.65 0 -2.65 C -0.702788 -2.65 -1.376887 -2.370779 -1.873833 -1.873833 C -2.370779 -1.376887 -2.65 -0.702788 -2.65 0 C -2.65 0.702788 -2.370779 1.376887 -1.873833 1.873833 C -1.376887 2.370779 -0.702788 2.65 0 2.65 z" transform="translate(246.819597 452.74928)" style="fill: #ff0000"/>
<path d="M 0 2.65 C 0.702788 2.65 1.376887 2.370779 1.873833 1.873833 C 2.370779 1.376887 2.65 0.702788 2.65 0 C 2.65 -0.702788 2.370779 -1.376887 1.873833 -1.873833 C 1.376887 -2.370779 0.702788 -2.65 0 -2.65 C -0.702788 -2.65 -1.376887 -2.370779 -1.873833 -1.873833 C -2.370779 -1.376887 -2.65 -0.702788 -2.65 0 C -2.65 0.702788 -2.370779 1.376887 -1.873833 1.873833 C -1.376887 2.370779 -0.702788 2.65 0 2.65 z" transform="translate(250.27781 455.239193)" style="fill: #ff0000"/>
<path d="M 0 2.65 C 0.702788 2.65 1.376887 2.370779 1.873833 1.873833 C 2.370779 1.376887 2.65 0.702788 2.65 0 C 2.65 -0.702788 2.370779 -1.376887 1.873833 -1.873833 C 1.376887 -2.370779 0.702788 -2.65 0 -2.65 C -0.702788 -2.65 -1.376887 -2.370779 -1.873833 -1.873833 C -2.370779 -1.376887 -2.65 -0.702788 -2.65 0 C -2.65 0.702788 -2.370779 1.376887 -1.873833 1.873833 C -1.376887 2.370779 -0.702788 2.65 0 2.65 z" transform="translate(257.470893 453.025937)" style="fill: #ff0000"/>
<path d="M 0 2.65 C 0.702788 2.65 1.376887 2.370779 1.873833 1.873833 C 2.370779 1.376887 2.65 0.702788 2.65 0 C 2.65 -0.702788 2.370779 -1.376887 1.873833 -1.873833 C 1.376887 -2.370779 0.702788 -2.65 0 -2.65 C -0.702788 -2.65 -1.376887 -2.370779 -1.873833 -1.873833 C -2.370779 -1.376887 -2.65 -0.702788 -2.65 0 C -2.65 0.702788 -2.370779 1.376887 -1.873833 1.873833 C -1.376887 2.370779 -0.702788 2.65 0 2.65 z" transform="translate(245.989625 459.112392)" style="fill: #ff0000"/>
<path d="M 0 2.65 C 0.702788 2.65 1.376887 2.370779 1.873833 1.873833 C 2.370779 1.376887 2.65 0.702788 2.65 0 C 2.65 -0.702788 2.370779 -1.376887 1.873833 -1.873833 C 1.376887 -2.370779 0.702788 -2.65 0 -2.65 C -0.702788 -2.65 -1.376887 -2.370779 -1.873833 -1.873833 C -2.370779 -1.376887 -2.65 -0.702788 -2.65 0 C -2.65 0.702788 -2.370779 1.376887 -1.873833 1.873833 C -1.376887 2.370779 -0.702788 2.65 0 2.65 z" transform="translate(247.372911 451.365994)" style="fill: #ff0000"/>
</g>
</g>
<g id="line2d_145">
<g clip-path="url(#p0fcc5497d2)">
<path d="M 0 2.65 C 0.702788 2.65 1.376887 2.370779 1.873833 1.873833 C 2.370779 1.376887 2.65 0.702788 2.65 0 C 2.65 -0.702788 2.370779 -1.376887 1.873833 -1.873833 C 1.376887 -2.370779 0.702788 -2.65 0 -2.65 C -0.702788 -2.65 -1.376887 -2.370779 -1.873833 -1.873833 C -2.370779 -1.376887 -2.65 -0.702788 -2.65 0 C -2.65 0.702788 -2.370779 1.376887 -1.873833 1.873833 C -1.376887 2.370779 -0.702788 2.65 0 2.65 z" transform="translate(250.969452 456.622478)" style="fill: #0000ff"/>
<path d="M 0 2.65 C 0.702788 2.65 1.376887 2.370779 1.873833 1.873833 C 2.370779 1.376887 2.65 0.702788 2.65 0 C 2.65 -0.702788 2.370779 -1.376887 1.873833 -1.873833 C 1.376887 -2.370779 0.702788 -2.65 0 -2.65 C -0.702788 -2.65 -1.376887 -2.370779 -1.873833 -1.873833 C -2.370779 -1.376887 -2.65 -0.702788 -2.65 0 C -2.65 0.702788 -2.370779 1.376887 -1.873833 1.873833 C -1.376887 2.370779 -0.702788 2.65 0 2.65 z" transform="translate(256.087608 449.429395)" style="fill: #0000ff"/>
<path d="M 0 2.65 C 0.702788 2.65 1.376887 2.370779 1.873833 1.873833 C 2.370779 1.376887 2.65 0.702788 2.65 0 C 2.65 -0.702788 2.370779 -1.376887 1.873833 -1.873833 C 1.376887 -2.370779 0.702788 -2.65 0 -2.65 C -0.702788 -2.65 -1.376887 -2.370779 -1.873833 -1.873833 C -2.370779 -1.376887 -2.65 -0.702788 -2.65 0 C -2.65 0.702788 -2.370779 1.376887 -1.873833 1.873833 C -1.376887 2.370779 -0.702788 2.65 0 2.65 z" transform="translate(262.727378 444.172911)" style="fill: #0000ff"/>
<path d="M 0 2.65 C 0.702788 2.65 1.376887 2.370779 1.873833 1.873833 C 2.370779 1.376887 2.65 0.702788 2.65 0 C 2.65 -0.702788 2.370779 -1.376887 1.873833 -1.873833 C 1.376887 -2.370779 0.702788 -2.65 0 -2.65 C -0.702788 -2.65 -1.376887 -2.370779 -1.873833 -1.873833 C -2.370779 -1.376887 -2.65 -0.702788 -2.65 0 C -2.65 0.702788 -2.370779 1.376887 -1.873833 1.873833 C -1.376887 2.370779 -0.702788 2.65 0 2.65 z" transform="translate(266.600576 444.449568)" style="fill: #0000ff"/>
<path d="M 0 2.65 C 0.702788 2.65 1.376887 2.370779 1.873833 1.873833 C 2.370779 1.376887 2.65 0.702788 2.65 0 C 2.65 -0.702788 2.370779 -1.376887 1.873833 -1.873833 C 1.376887 -2.370779 0.702788 -2.65 0 -2.65 C -0.702788 -2.65 -1.376887 -2.370779 -1.873833 -1.873833 C -2.370779 -1.376887 -2.65 -0.702788 -2.65 0 C -2.65 0.702788 -2.370779 1.376887 -1.873833 1.873833 C -1.376887 2.370779 -0.702788 2.65 0 2.65 z" transform="translate(268.12219 448.599424)" style="fill: #0000ff"/>
<path d="M 0 2.65 C 0.702788 2.65 1.376887 2.370779 1.873833 1.873833 C 2.370779 1.376887 2.65 0.702788 2.65 0 C 2.65 -0.702788 2.370779 -1.376887 1.873833 -1.873833 C 1.376887 -2.370779 0.702788 -2.65 0 -2.65 C -0.702788 -2.65 -1.376887 -2.370779 -1.873833 -1.873833 C -2.370779 -1.376887 -2.65 -0.702788 -2.65 0 C -2.65 0.702788 -2.370779 1.376887 -1.873833 1.873833 C -1.376887 2.370779 -0.702788 2.65 0 2.65 z" transform="translate(271.165418 447.769452)" style="fill: #0000ff"/>
<path d="M 0 2.65 C 0.702788 2.65 1.376887 2.370779 1.873833 1.873833 C 2.370779 1.376887 2.65 0.702788 2.65 0 C 2.65 -0.702788 2.370779 -1.376887 1.873833 -1.873833 C 1.376887 -2.370779 0.702788 -2.65 0 -2.65 C -0.702788 -2.65 -1.376887 -2.370779 -1.873833 -1.873833 C -2.370779 -1.376887 -2.65 -0.702788 -2.65 0 C -2.65 0.702788 -2.370779 1.376887 -1.873833 1.873833 C -1.376887 2.370779 -0.702788 2.65 0 2.65 z" transform="translate(271.165418 443.619597)" style="fill: #0000ff"/>
<path d="M 0 2.65 C 0.702788 2.65 1.376887 2.370779 1.873833 1.873833 C 2.370779 1.376887 2.65 0.702788 2.65 0 C 2.65 -0.702788 2.370779 -1.376887 1.873833 -1.873833 C 1.376887 -2.370779 0.702788 -2.65 0 -2.65 C -0.702788 -2.65 -1.376887 -2.370779 -1.873833 -1.873833 C -2.370779 -1.376887 -2.65 -0.702788 -2.65 0 C -2.65 0.702788 -2.370779 1.376887 -1.873833 1.873833 C -1.376887 2.370779 -0.702788 2.65 0 2.65 z" transform="translate(272.272046 437.809798)" style="fill: #0000ff"/>
<path d="M 0 2.65 C 0.702788 2.65 1.376887 2.370779 1.873833 1.873833 C 2.370779 1.376887 2.65 0.702788 2.65 0 C 2.65 -0.702788 2.370779 -1.376887 1.873833 -1.873833 C 1.376887 -2.370779 0.702788 -2.65 0 -2.65 C -0.702788 -2.65 -1.376887 -2.370779 -1.873833 -1.873833 C -2.370779 -1.376887 -2.65 -0.702788 -2.65 0 C -2.65 0.702788 -2.370779 1.376887 -1.873833 1.873833 C -1.376887 2.370779 -0.702788 2.65 0 2.65 z" transform="translate(264.525648 446.939481)" style="fill: #0000ff"/>
<path d="M 0 2.65 C 0.702788 2.65 1.376887 2.370779 1.873833 1.873833 C 2.370779 1.376887 2.65 0.702788 2.65 0 C 2.65 -0.702788 2.370779 -1.376887 1.873833 -1.873833 C 1.376887 -2.370779 0.702788 -2.65 0 -2.65 C -0.702788 -2.65 -1.376887 -2.370779 -1.873833 -1.873833 C -2.370779 -1.376887 -2.65 -0.702788 -2.65 0 C -2.65 0.702788 -2.370779 1.376887 -1.873833 1.873833 C -1.376887 2.370779 -0.702788 2.65 0 2.65 z" transform="translate(269.228818 445.002882)" style="fill: #0000ff"/>
<path d="M 0 2.65 C 0.702788 2.65 1.376887 2.370779 1.873833 1.873833 C 2.370779 1.376887 2.65 0.702788 2.65 0 C 2.65 -0.702788 2.370779 -1.376887 1.873833 -1.873833 C 1.376887 -2.370779 0.702788 -2.65 0 -2.65 C -0.702788 -2.65 -1.376887 -2.370779 -1.873833 -1.873833 C -2.370779 -1.376887 -2.65 -0.702788 -2.65 0 C -2.65 0.702788 -2.370779 1.376887 -1.873833 1.873833 C -1.376887 2.370779 -0.702788 2.65 0 2.65 z" transform="translate(276 442.56)" style="fill: #0000ff"/>
<path d="M 0 2.65 C 0.702788 2.65 1.376887 2.370779 1.873833 1.873833 C 2.370779 1.376887 2.65 0.702788 2.65 0 C 2.65 -0.702788 2.370779 -1.376887 1.873833 -1.873833 C 1.376887 -2.370779 0.702788 -2.65 0 -2.65 C -0.702788 -2.65 -1.376887 -2.370779 -1.873833 -1.873833 C -2.370779 -1.376887 -2.65 -0.702788 -2.65 0 C -2.65 0.702788 -2.370779 1.376887 -1.873833 1.873833 C -1.376887 2.370779 -0.702788 2.65 0 2.65 z" transform="translate(277.44 439.2)" style="fill: #0000ff"/>
<path d="M 0 2.65 C 0.702788 2.65 1.376887 2.370779 1.873833 1.873833 C 2.370779 1.376887 2.65 0.702788 2.65 0 C 2.65 -0.702788 2.370779 -1.376887 1.873833 -1.873833 C 1.376887 -2.370779 0.702788 -2.65 0 -2.65 C -0.702788 -2.65 -1.376887 -2.370779 -1.873833 -1.873833 C -2.370779 -1.376887 -2.65 -0.702788 -2.65 0 C -2.65 0.702788 -2.370779 1.376887 -1.873833 1.873833 C -1.376887 2.370779 -0.702788 2.65 0 2.65 z" transform="translate(278.4 444)" style="fill: #0000ff"/>
</g>
</g>
<g id="line2d_146">
<path d="M 56.16 521.293472 L 274.032 444.185511" clip-path="url(#p0fcc5497d2)" style="fill: none; stroke-dasharray: 6,6; stroke-dashoffset: 0; stroke: #000000"/>
</g>
<g id="patch_21">
<path d="M 56.16 535.632 L 56.16 317.904" style="fill: none; stroke: #000000; stroke-linejoin: miter; stroke-linecap: square"/>
</g>
<g id="patch_22">
<path d="M 274.032 535.632 L 274.032 317.904" style="fill: none; stroke: #000000; stroke-linejoin: miter; stroke-linecap: square"/>
</g>
<g id="patch_23">
<path d="M 56.16 535.632 L 274.032 535.632" style="fill: none; stroke: #000000; stroke-linejoin: miter; stroke-linecap: square"/>
</g>
<g id="patch_24">
<path d="M 56.16 317.904 L 274.032 317.904" style="fill: none; stroke: #000000; stroke-linejoin: miter; stroke-linecap: square"/>
</g>
<g id="matplotlib.axis_7">
<g id="xtick_26">
<g id="line2d_147">
<g>
<path d="M 0 0 L 0 -3.7" transform="translate(77.938088 535.632)" style="stroke: #000000; stroke-width: 0.5"/>
</g>
</g>
<g id="line2d_148">
<g>
<path d="M 0 0 L 0 3.7" transform="translate(77.938088 317.904)" style="stroke: #000000; stroke-width: 0.5"/>
</g>
</g>
<g id="text_67">
<text style="font-size: 8px; font-family: 'DejaVu Sans', 'Liberation Sans', sans-serif; text-anchor: middle" x="77.938088" y="546.71075" transform="rotate(-0 77.938088 546.71075) translate(77.938088 546.71075) scale(1 1.060) translate(-77.938088 -546.71075)">0</text>
</g>
</g>
<g id="xtick_27">
<g id="line2d_149">
<g>
<path d="M 0 0 L 0 -3.7" transform="translate(108.31199 535.632)" style="stroke: #000000; stroke-width: 0.5"/>
</g>
</g>
<g id="line2d_150">
<g>
<path d="M 0 0 L 0 3.7" transform="translate(108.31199 317.904)" style="stroke: #000000; stroke-width: 0.5"/>
</g>
</g>
<g id="text_68">
<text style="font-size: 8px; font-family: 'DejaVu Sans', 'Liberation Sans', sans-serif; text-anchor: middle" x="108.31199" y="546.71075" transform="rotate(-0 108.31199 546.71075) translate(108.31199 546.71075) scale(1 1.060) translate(-108.31199 -546.71075)">10</text>
</g>
</g>
<g id="xtick_28">
<g id="line2d_151">
<g>
<path d="M 0 0 L 0 -3.7" transform="translate(138.685892 535.632)" style="stroke: #000000; stroke-width: 0.5"/>
</g>
</g>
<g id="line2d_152">
<g>
<path d="M 0 0 L 0 3.7" transform="translate(138.685892 317.904)" style="stroke: #000000; stroke-width: 0.5"/>
</g>
</g>
<g id="text_69">
<text style="font-size: 8px; font-family: 'DejaVu Sans', 'Liberation Sans', sans-serif; text-anchor: middle" x="138.685892" y="546.71075" transform="rotate(-0 138.685892 546.71075) translate(138.685892 546.71075) scale(1 1.060) translate(-138.685892 -546.71075)">20</text>
</g>
</g>
<g id="xtick_29">
<g id="line2d_153">
<g>
<path d="M 0 0 L 0 -3.7" transform="translate(169.059794 535.632)" style="stroke: #000000; stroke-width: 0.5"/>
</g>
</g>
<g id="line2d_154">
<g>
<path d="M 0 0 L 0 3.7" transform="translate(169.059794 317.904)" style="stroke: #000000; stroke-width: 0.5"/>
</g>
</g>
<g id="text_70">
<text style="font-size: 8px; font-family: 'DejaVu Sans', 'Liberation Sans', sans-serif; text-anchor: middle" x="169.059794" y="546.71075" transform="rotate(-0 169.059794 546.71075) translate(169.059794 546.71075) scale(1 1.060) translate(-169.059794 -546.71075)">30</text>
</g>
</g>
<g id="xtick_30">
<g id="line2d_155">
<g>
<path d="M 0 0 L 0 -3.7" transform="translate(199.433696 535.632)" style="stroke: #000000; stroke-width: 0.5"/>
</g>
</g>
<g id="line2d_156">
<g>
<path d="M 0 0 L 0 3.7" transform="translate(199.433696 317.904)" style="stroke: #000000; stroke-width: 0.5"/>
</g>
</g>
<g id="text_71">
<text style="font-size: 8px; font-family: 'DejaVu Sans', 'Liberation Sans', sans-serif; text-anchor: middle" x="199.433696" y="546.71075" transform="rotate(-0 199.433696 546.71075) translate(199.433696 546.71075) scale(1 1.060) translate(-199.433696 -546.71075)">40</text>
</g>
</g>
<g id="xtick_31">
<g id="line2d_157">
<g>
<path d="M 0 0 L 0 -3.7" transform="translate(229.807598 535.632)" style="stroke: #000000; stroke-width: 0.5"/>
</g>
</g>
<g id="line2d_158">
<g>
<path d="M 0 0 L 0 3.7" transform="translate(229.807598 317.904)" style="stroke: #000000; stroke-width: 0.5"/>
</g>
</g>
<g id="text_72">
<text style="font-size: 8px; font-family: 'DejaVu Sans', 'Liberation Sans', sans-serif; text-anchor: middle" x="229.807598" y="546.71075" transform="rotate(-0 229.807598 546.71075) translate(229.807598 546.71075) scale(1 1.060) translate(-229.807598 -546.71075)">50</text>
</g>
</g>
<g id="xtick_32">
<g id="line2d_159">
<g>
<path d="M 0 0 L 0 -3.7" transform="translate(260.181501 535.632)" style="stroke: #000000; stroke-width: 0.5"/>
</g>
</g>
<g id="line2d_160">
<g>
<path d="M 0 0 L 0 3.7" transform="translate(260.181501 317.904)" style="stroke: #000000; stroke-width: 0.5"/>
</g>
</g>
<g id="text_73">
<text style="font-size: 8px; font-family: 'DejaVu Sans', 'Liberation Sans', sans-serif; text-anchor: middle" x="260.181501" y="546.71075" transform="rotate(-0 260.181501 546.71075) translate(260.181501 546.71075) scale(1 1.060) translate(-260.181501 -546.71075)">60</text>
</g>
</g>
<g id="text_74">
<!-- V$_A$(km/s) -->
<g transform="translate(147.056 561.35325)">
<text>
<tspan x="0" y="-0.921875" style="font-size: 8px; font-family: 'DejaVu Sans', 'Liberation Sans', sans-serif">V</tspan>
<tspan x="10.539975" y="-0.921875" style="font-size: 8px; font-family: 'DejaVu Sans', 'Liberation Sans', sans-serif">(</tspan>
<tspan x="13.661069" y="-0.921875" style="font-size: 8px; font-family: 'DejaVu Sans', 'Liberation Sans', sans-serif">k</tspan>
<tspan x="18.293881" y="-0.921875" style="font-size: 8px; font-family: 'DejaVu Sans', 'Liberation Sans', sans-serif">m</tspan>
<tspan x="26.08685" y="-0.921875" style="font-size: 8px; font-family: 'DejaVu Sans', 'Liberation Sans', sans-serif">/</tspan>
<tspan x="28.782162" y="-0.921875" style="font-size: 8px; font-family: 'DejaVu Sans', 'Liberation Sans', sans-serif">s</tspan>
<tspan x="32.950131" y="-0.921875" style="font-size: 8px; font-family: 'DejaVu Sans', 'Liberation Sans', sans-serif">)</tspan>
<tspan x="5.829788" y="0.438625" style="font-size: 5.6px; font-family: 'Latin Modern Roman', 'DejaVu Serif', serif; font-style: italic">A</tspan>
</text>
</g>
</g>
</g>
<g id="matplotlib.axis_8">
<g id="ytick_25">
<g id="line2d_161">
<g>
<path d="M 0 0 L 3.7 0" transform="translate(56.16 514.284331)" style="stroke: #000000; stroke-width: 0.5"/>
</g>
</g>
<g id="line2d_162">
<g>
<path d="M 0 0 L -3.7 0" transform="translate(274.032 514.284331)" style="stroke: #000000; stroke-width: 0.5"/>
</g>
</g>
<g id="text_75">
<text style="font-size: 8px; font-family: 'DejaVu Sans', 'Liberation Sans', sans-serif; text-anchor: end" x="52.16" y="516.491831" transform="rotate(-0 52.16 516.491831) translate(52.16 516.491831) scale(1 1.060) translate(-52.16 -516.491831)">0</text>
</g>
</g>
<g id="ytick_26">
<g id="line2d_163">
<g>
<path d="M 0 0 L 3.7 0" transform="translate(56.16 483.917804)" style="stroke: #000000; stroke-width: 0.5"/>
</g>
</g>
<g id="line2d_164">
<g>
<path d="M 0 0 L -3.7 0" transform="translate(274.032 483.917804)" style="stroke: #000000; stroke-width: 0.5"/>
</g>
</g>
<g id="text_76">
<text style="font-size: 8px; font-family: 'DejaVu Sans', 'Liberation Sans', sans-serif; text-anchor: end" x="52.16" y="486.125304" transform="rotate(-0 52.16 486.125304) translate(52.16 486.125304) scale(1 1.060) translate(-52.16 -486.125304)">10</text>
</g>
</g>
<g id="ytick_27">
<g id="line2d_165">
<g>
<path d="M 0 0 L 3.7 0" transform="translate(56.16 453.551277)" style="stroke: #000000; stroke-width: 0.5"/>
</g>
</g>
<g id="line2d_166">
<g>
<path d="M 0 0 L -3.7 0" transform="translate(274.032 453.551277)" style="stroke: #000000; stroke-width: 0.5"/>
</g>
</g>
<g id="text_77">
<text style="font-size: 8px; font-family: 'DejaVu Sans', 'Liberation Sans', sans-serif; text-anchor: end" x="52.16" y="455.758777" transform="rotate(-0 52.16 455.758777) translate(52.16 455.758777) scale(1 1.060) translate(-52.16 -455.758777)">20</text>
</g>
</g>
<g id="ytick_28">
<g id="line2d_167">
<g>
<path d="M 0 0 L 3.7 0" transform="translate(56.16 423.18475)" style="stroke: #000000; stroke-width: 0.5"/>
</g>
</g>
<g id="line2d_168">
<g>
<path d="M 0 0 L -3.7 0" transform="translate(274.032 423.18475)" style="stroke: #000000; stroke-width: 0.5"/>
</g>
</g>
<g id="text_78">
<text style="font-size: 8px; font-family: 'DejaVu Sans', 'Liberation Sans', sans-serif; text-anchor: end" x="52.16" y="425.39225" transform="rotate(-0 52.16 425.39225) translate(52.16 425.39225) scale(1 1.060) translate(-52.16 -425.39225)">30</text>
</g>
</g>
<g id="ytick_29">
<g id="line2d_169">
<g>
<path d="M 0 0 L 3.7 0" transform="translate(56.16 392.818223)" style="stroke: #000000; stroke-width: 0.5"/>
</g>
</g>
<g id="line2d_170">
<g>
<path d="M 0 0 L -3.7 0" transform="translate(274.032 392.818223)" style="stroke: #000000; stroke-width: 0.5"/>
</g>
</g>
<g id="text_79">
<text style="font-size: 8px; font-family: 'DejaVu Sans', 'Liberation Sans', sans-serif; text-anchor: end" x="52.16" y="395.025723" transform="rotate(-0 52.16 395.025723) translate(52.16 395.025723) scale(1 1.060) translate(-52.16 -395.025723)">40</text>
</g>
</g>
<g id="ytick_30">
<g id="line2d_171">
<g>
<path d="M 0 0 L 3.7 0" transform="translate(56.16 362.451695)" style="stroke: #000000; stroke-width: 0.5"/>
</g>
</g>
<g id="line2d_172">
<g>
<path d="M 0 0 L -3.7 0" transform="translate(274.032 362.451695)" style="stroke: #000000; stroke-width: 0.5"/>
</g>
</g>
<g id="text_80">
<text style="font-size: 8px; font-family: 'DejaVu Sans', 'Liberation Sans', sans-serif; text-anchor: end" x="52.16" y="364.659195" transform="rotate(-0 52.16 364.659195) translate(52.16 364.659195) scale(1 1.060) translate(-52.16 -364.659195)">50</text>
</g>
</g>
<g id="ytick_31">
<g id="line2d_173">
<g>
<path d="M 0 0 L 3.7 0" transform="translate(56.16 332.085168)" style="stroke: #000000; stroke-width: 0.5"/>
</g>
</g>
<g id="line2d_174">
<g>
<path d="M 0 0 L -3.7 0" transform="translate(274.032 332.085168)" style="stroke: #000000; stroke-width: 0.5"/>
</g>
</g>
<g id="text_81">
<text style="font-size: 8px; font-family: 'DejaVu Sans', 'Liberation Sans', sans-serif; text-anchor: end" x="52.16" y="334.292668" transform="rotate(-0 52.16 334.292668) translate(52.16 334.292668) scale(1 1.060) translate(-52.16 -334.292668)">60</text>
</g>
</g>
<g id="text_82">
<!-- V$_{remaining}$(km/s) -->
<g transform="translate(33.94 456.808) rotate(-90)">
<text>
<tspan x="0" y="-0.921875" style="font-size: 8px; font-family: 'DejaVu Sans', 'Liberation Sans', sans-serif">V</tspan>
<tspan x="32.589975" y="-0.921875" style="font-size: 8px; font-family: 'DejaVu Sans', 'Liberation Sans', sans-serif">(</tspan>
<tspan x="35.711069" y="-0.921875" style="font-size: 8px; font-family: 'DejaVu Sans', 'Liberation Sans', sans-serif">k</tspan>
<tspan x="40.343881" y="-0.921875" style="font-size: 8px; font-family: 'DejaVu Sans', 'Liberation Sans', sans-serif">m</tspan>
<tspan x="48.13685" y="-0.921875" style="font-size: 8px; font-family: 'DejaVu Sans', 'Liberation Sans', sans-serif">/</tspan>
<tspan x="50.832162" y="-0.921875" style="font-size: 8px; font-family: 'DejaVu Sans', 'Liberation Sans', sans-serif">s</tspan>
<tspan x="55.000131" y="-0.921875" style="font-size: 8px; font-family: 'DejaVu Sans', 'Liberation Sans', sans-serif">)</tspan>
<tspan x="5.829788" y="0.438625" style="font-size: 5.6px; font-family: 'Latin Modern Roman', 'DejaVu Serif', serif; font-style: italic">r</tspan>
<tspan x="8.35635" y="0.438625" style="font-size: 5.6px; font-family: 'Latin Modern Roman', 'DejaVu Serif', serif; font-style: italic">e</tspan>
<tspan x="10.959475" y="0.438625" style="font-size: 5.6px; font-family: 'Latin Modern Roman', 'DejaVu Serif', serif; font-style: italic">m</tspan>
<tspan x="15.875881" y="0.438625" style="font-size: 5.6px; font-family: 'Latin Modern Roman', 'DejaVu Serif', serif; font-style: italic">a</tspan>
<tspan x="18.831741" y="0.438625" style="font-size: 5.6px; font-family: 'Latin Modern Roman', 'DejaVu Serif', serif; font-style: italic">i</tspan>
<tspan x="20.759475" y="0.438625" style="font-size: 5.6px; font-family: 'Latin Modern Roman', 'DejaVu Serif', serif; font-style: italic">n</tspan>
<tspan x="24.120022" y="0.438625" style="font-size: 5.6px; font-family: 'Latin Modern Roman', 'DejaVu Serif', serif; font-style: italic">i</tspan>
<tspan x="26.047756" y="0.438625" style="font-size: 5.6px; font-family: 'Latin Modern Roman', 'DejaVu Serif', serif; font-style: italic">n</tspan>
<tspan x="29.408303" y="0.438625" style="font-size: 5.6px; font-family: 'Latin Modern Roman', 'DejaVu Serif', serif; font-style: italic">g</tspan>
</text>
</g>
</g>
</g>
<g id="text_83">
<g id="patch_25">
<path d="M 60.155395 355.371791 L 126.730083 355.371791 L 126.730083 321.264154 L 60.155395 321.264154 z" style="fill: #ffffff; stroke: #000000; stroke-linejoin: miter"/>
</g>
<text style="font-size: 9px; font-family: 'DejaVu Sans', 'Liberation Sans', sans-serif" transform="translate(61.955395 329.902747)">slope = 0.354</text>
<!-- $r$ = 0.97 -->
<g transform="translate(61.955395 340.80141)">
<text>
<tspan x="0" y="-0.3125" style="font-size: 9px; font-family: 'Latin Modern Roman', 'DejaVu Serif', serif; font-style: italic">r</tspan>
<tspan x="4.060547" y="-0.3125" style="font-size: 9px; font-family: 'DejaVu Sans', 'Liberation Sans', sans-serif"> </tspan>
<tspan x="6.921387" y="-0.3125" style="font-size: 9px; font-family: 'DejaVu Sans', 'Liberation Sans', sans-serif">=</tspan>
<tspan x="14.462402" y="-0.3125" style="font-size: 9px; font-family: 'DejaVu Sans', 'Liberation Sans', sans-serif"> </tspan>
<tspan x="17.323242" y="-0.3125" style="font-size: 9px; font-family: 'DejaVu Sans', 'Liberation Sans', sans-serif">0</tspan>
<tspan x="23.049316" y="-0.3125" style="font-size: 9px; font-family: 'DejaVu Sans', 'Liberation Sans', sans-serif">.</tspan>
<tspan x="25.910156" y="-0.3125" style="font-size: 9px; font-family: 'DejaVu Sans', 'Liberation Sans', sans-serif">9</tspan>
<tspan x="31.63623" y="-0.3125" style="font-size: 9px; font-family: 'DejaVu Sans', 'Liberation Sans', sans-serif">7</tspan>
</text>
</g>
<!-- $M_A$ = 0.357 -->
<g transform="translate(61.955395 351.700072)">
<text>
<tspan x="0" y="-0.3125" style="font-size: 9px; font-family: 'Latin Modern Roman', 'DejaVu Serif', serif; font-style: italic">M</tspan>
<tspan x="8.731934" y="1.218063" style="font-size: 6.3px; font-family: 'Latin Modern Roman', 'DejaVu Serif', serif; font-style: italic">A</tspan>
<tspan x="14.030895" y="-0.3125" style="font-size: 9px; font-family: 'DejaVu Sans', 'Liberation Sans', sans-serif"> </tspan>
<tspan x="16.891734" y="-0.3125" style="font-size: 9px; font-family: 'DejaVu Sans', 'Liberation Sans', sans-serif">=</tspan>
<tspan x="24.43275" y="-0.3125" style="font-size: 9px; font-family: 'DejaVu Sans', 'Liberation Sans', sans-serif"> </tspan>
<tspan x="27.29359" y="-0.3125" style="font-size: 9px; font-family: 'DejaVu Sans', 'Liberation Sans', sans-serif">0</tspan>
<tspan x="33.019664" y="-0.3125" style="font-size: 9px; font-family: 'DejaVu Sans', 'Liberation Sans', sans-serif">.</tspan>
<tspan x="35.880504" y="-0.3125" style="font-size: 9px; font-family: 'DejaVu Sans', 'Liberation Sans', sans-serif">3</tspan>
<tspan x="41.606578" y="-0.3125" style="font-size: 9px; font-family: 'DejaVu Sans', 'Liberation Sans', sans-serif">5</tspan>
<tspan x="46.707652" y="-0.3125" style="font-size: 9px; font-family: 'DejaVu Sans', 'Liberation Sans', sans-serif">7</tspan>
</text>
</g>
</g>
<g id="text_84">
<text style="font-size: 11.4128px; font-family: 'DejaVu Sans', 'Liberation Sans', sans-serif; text-anchor: middle" x="165.096" y="312.904" transform="rotate(-0 165.096 312.904)">WalenTest</text>
</g>
</g>
<g id="axes_5">
<g id="patch_26">
<path d="M 323.088 535.632 L 540.96 535.632 L 540.96 317.904 L 323.088 317.904 z" style="fill: #ffffff"/>
</g>
<g id="line2d_175">
<path d="M 489.672124 395.169326 L 477.703212 373.096788 L 453.299067 458.899896 L 424.076269 468.537202 L 457.029637 443.200415 L 425.319793 397.967254 L 445.993368 328.329948 L 382.729119 353.977617 L 432.159171 520.920622 L 403.713575 388.019067 L 414.438964 451.438756 L 437.288705 479.10715 L 457.651399 415.37658" clip-path="url(#p58be9113b1)" style="fill: none; stroke: #0000ff; stroke-linecap: square"/>
<g clip-path="url(#p58be9113b1)">
<path d="M 0 1.85 C 0.490626 1.85 0.961223 1.655072 1.308148 1.308148 C 1.655072 0.961223 1.85 0.490626 1.85 0 C 1.85 -0.490626 1.655072 -0.961223 1.308148 -1.308148 C 0.961223 -1.655072 0.490626 -1.85 0 -1.85 C -0.490626 -1.85 -0.961223 -1.655072 -1.308148 -1.308148 C -1.655072 -0.961223 -1.85 -0.490626 -1.85 0 C -1.85 0.490626 -1.655072 0.961223 -1.308148 1.308148 C -0.961223 1.655072 -0.490626 1.85 0 1.85 z" transform="translate(489.672124 395.169326)" style="fill: #0000ff"/>
<path d="M 0 1.85 C 0.490626 1.85 0.961223 1.655072 1.308148 1.308148 C 1.655072 0.961223 1.85 0.490626 1.85 0 C 1.85 -0.490626 1.655072 -0.961223 1.308148 -1.308148 C 0.961223 -1.655072 0.490626 -1.85 0 -1.85 C -0.490626 -1.85 -0.961223 -1.655072 -1.308148 -1.308148 C -1.655072 -0.961223 -1.85 -0.490626 -1.85 0 C -1.85 0.490626 -1.655072 0.961223 -1.308148 1.308148 C -0.961223 1.655072 -0.490626 1.85 0 1.85 z" transform="translate(477.703212 373.096788)" style="fill: #0000ff"/>
<path d="M 0 1.85 C 0.490626 1.85 0.961223 1.655072 1.308148 1.308148 C 1.655072 0.961223 1.85 0.490626 1.85 0 C 1.85 -0.490626 1.655072 -0.961223 1.308148 -1.308148 C 0.961223 -1.655072 0.490626 -1.85 0 -1.85 C -0.490626 -1.85 -0.961223 -1.655072 -1.308148 -1.308148 C -1.655072 -0.961223 -1.85 -0.490626 -1.85 0 C -1.85 0.490626 -1.655072 0.961223 -1.308148 1.308148 C -0.961223 1.655072 -0.490626 1.85 0 1.85 z" transform="translate(453.299067 458.899896)" style="fill: #0000ff"/>
<path d="M 0 1.85 C 0.490626 1.85 0.961223 1.655072 1.308148 1.308148 C 1.655072 0.961223 1.85 0.490626 1.85 0 C 1.85 -0.490626 1.655072 -0.961223 1.308148 -1.308148 C 0.961223 -1.655072 0.490626 -1.85 0 -1.85 C -0.490626 -1.85 -0.961223 -1.655072 -1.308148 -1.308148 C -1.655072 -0.961223 -1.85 -0.490626 -1.85 0 C -1.85 0.490626 -1.655072 0.961223 -1.308148 1.308148 C -0.961223 1.655072 -0.490626 1.85 0 1.85 z" transform="translate(424.076269 468.537202)" style="fill: #0000ff"/>
<path d="M 0 1.85 C 0.490626 1.85 0.961223 1.655072 1.308148 1.308148 C 1.655072 0.961223 1.85 0.490626 1.85 0 C 1.85 -0.490626 1.655072 -0.961223 1.308148 -1.308148 C 0.961223 -1.655072 0.490626 -1.85 0 -1.85 C -0.490626 -1.85 -0.961223 -1.655072 -1.308148 -1.308148 C -1.655072 -0.961223 -1.85 -0.490626 -1.85 0 C -1.85 0.490626 -1.655072 0.961223 -1.308148 1.308148 C -0.961223 1.655072 -0.490626 1.85 0 1.85 z" transform="translate(457.029637 443.200415)" style="fill: #0000ff"/>
<path d="M 0 1.85 C 0.490626 1.85 0.961223 1.655072 1.308148 1.308148 C 1.655072 0.961223 1.85 0.490626 1.85 0 C 1.85 -0.490626 1.655072 -0.961223 1.308148 -1.308148 C 0.961223 -1.655072 0.490626 -1.85 0 -1.85 C -0.490626 -1.85 -0.961223 -1.655072 -1.308148 -1.308148 C -1.655072 -0.961223 -1.85 -0.490626 -1.85 0 C -1.85 0.490626 -1.655072 0.961223 -1.308148 1.308148 C -0.961223 1.655072 -0.490626 1.85 0 1.85 z" transform="translate(425.319793 397.967254)" style="fill: #0000ff"/>
<path d="M 0 1.85 C 0.490626 1.85 0.961223 1.655072 1.308148 1.308148 C 1.655072 0.961223 1.85 0.490626 1.85 0 C 1.85 -0.490626 1.655072 -0.961223 1.308148 -1.308148 C 0.961223 -1.655072 0.490626 -1.85 0 -1.85 C -0.490626 -1.85 -0.961223 -1.655072 -1.308148 -1.308148 C -1.655072 -0.961223 -1.85 -0.490626 -1.85 0 C -1.85 0.490626 -1.655072 0.961223 -1.308148 1.308148 C -0.961223 1.655072 -0.490626 1.85 0 1.85 z" transform="translate(445.993368 328.329948)" style="fill: #0000ff"/>
<path d="M 0 1.85 C 0.490626 1.85 0.961223 1.655072 1.308148 1.308148 C 1.655072 0.961223 1.85 0.490626 1.85 0 C 1.85 -0.490626 1.655072 -0.961223 1.308148 -1.308148 C 0.961223 -1.655072 0.490626 -1.85 0 -1.85 C -0.490626 -1.85 -0.961223 -1.655072 -1.308148 -1.308148 C -1.655072 -0.961223 -1.85 -0.490626 -1.85 0 C -1.85 0.490626 -1.655072 0.961223 -1.308148 1.308148 C -0.961223 1.655072 -0.490626 1.85 0 1.85 z" transform="translate(382.729119 353.977617)" style="fill: #0000ff"/>
<path d="M 0 1.85 C 0.490626 1.85 0.961223 1.655072 1.308148 1.308148 C 1.655072 0.961223 1.85 0.490626 1.85 0 C 1.85 -0.490626 1.655072 -0.961223 1.308148 -1.308148 C 0.961223 -1.655072 0.490626 -1.85 0 -1.85 C -0.490626 -1.85 -0.961223 -1.655072 -1.308148 -1.308148 C -1.655072 -0.961223 -1.85 -0.490626 -1.85 0 C -1.85 0.490626 -1.655072 0.961223 -1.308148 1.308148 C -0.961223 1.655072 -0.490626 1.85 0 1.85 z" transform="translate(432.159171 520.920622)" style="fill: #0000ff"/>
<path d="M 0 1.85 C 0.490626 1.85 0.961223 1.655072 1.308148 1.308148 C 1.655072 0.961223 1.85 0.490626 1.85 0 C 1.85 -0.490626 1.655072 -0.961223 1.308148 -1.308148 C 0.961223 -1.655072 0.490626 -1.85 0 -1.85 C -0.490626 -1.85 -0.961223 -1.655072 -1.308148 -1.308148 C -1.655072 -0.961223 -1.85 -0.490626 -1.85 0 C -1.85 0.490626 -1.655072 0.961223 -1.308148 1.308148 C -0.961223 1.655072 -0.490626 1.85 0 1.85 z" transform="translate(403.713575 388.019067)" style="fill: #0000ff"/>
<path d="M 0 1.85 C 0.490626 1.85 0.961223 1.655072 1.308148 1.308148 C 1.655072 0.961223 1.85 0.490626 1.85 0 C 1.85 -0.490626 1.655072 -0.961223 1.308148 -1.308148 C 0.961223 -1.655072 0.490626 -1.85 0 -1.85 C -0.490626 -1.85 -0.961223 -1.655072 -1.308148 -1.308148 C -1.655072 -0.961223 -1.85 -0.490626 -1.85 0 C -1.85 0.490626 -1.655072 0.961223 -1.308148 1.308148 C -0.961223 1.655072 -0.490626 1.85 0 1.85 z" transform="translate(414.438964 451.438756)" style="fill: #0000ff"/>
<path d="M 0 1.85 C 0.490626 1.85 0.961223 1.655072 1.308148 1.308148 C 1.655072 0.961223 1.85 0.490626 1.85 0 C 1.85 -0.490626 1.655072 -0.961223 1.308148 -1.308148 C 0.961223 -1.655072 0.490626 -1.85 0 -1.85 C -0.490626 -1.85 -0.961223 -1.655072 -1.308148 -1.308148 C -1.655072 -0.961223 -1.85 -0.490626 -1.85 0 C -1.85 0.490626 -1.655072 0.961223 -1.308148 1.308148 C -0.961223 1.655072 -0.490626 1.85 0 1.85 z" transform="translate(437.288705 479.10715)" style="fill: #0000ff"/>
<path d="M 0 1.85 C 0.490626 1.85 0.961223 1.655072 1.308148 1.308148 C 1.655072 0.961223 1.85 0.490626 1.85 0 C 1.85 -0.490626 1.655072 -0.961223 1.308148 -1.308148 C 0.961223 -1.655072 0.490626 -1.85 0 -1.85 C -0.490626 -1.85 -0.961223 -1.655072 -1.308148 -1.308148 C -1.655072 -0.961223 -1.85 -0.490626 -1.85 0 C -1.85 0.490626 -1.655072 0.961223 -1.308148 1.308148 C -0.961223 1.655072 -0.490626 1.85 0 1.85 z" transform="translate(457.651399 415.37658)" style="fill: #0000ff"/>
</g>
</g>
<g id="patch_27">
<path d="M 323.088 535.632 L 323.088 317.904" style="fill: none; stroke: #000000; stroke-linejoin: miter; stroke-linecap: square"/>
</g>
<g id="patch_28">
<path d="M 540.96 535.632 L 540.96 317.904" style="fill: none; stroke: #000000; stroke-linejoin: miter; stroke-linecap: square"/>
</g>
<g id="patch_29">
<path d="M 323.088 535.632 L 540.96 535.632" style="fill: none; stroke: #000000; stroke-linejoin: miter; stroke-linecap: square"/>
</g>
<g id="patch_30">
<path d="M 323.088 317.904 L 540.96 317.904" style="fill: none; stroke: #000000; stroke-linejoin: miter; stroke-linecap: square"/>
</g>
<g id="matplotlib.axis_9">
<g id="xtick_33">
<g id="line2d_176">
<path d="M 343.799457 535.632 L 343.799457 317.904" clip-path="url(#p58be9113b1)" style="fill: none; stroke-dasharray: 1,3; stroke-dashoffset: 0; stroke: #000000; stroke-width: 0.5"/>
</g>
<g id="line2d_177">
<g>
<path d="M 0 0 L 0 -3.7" transform="translate(343.799457 535.632)" style="stroke: #000000; stroke-width: 0.5"/>
</g>
</g>
<g id="line2d_178">
<g>
<path d="M 0 0 L 0 3.7" transform="translate(343.799457 317.904)" style="stroke: #000000; stroke-width: 0.5"/>
</g>
</g>
<g id="text_85">
<text style="font-size: 8px; font-family: 'DejaVu Sans', 'Liberation Sans', sans-serif; text-anchor: middle" x="343.799457" y="546.71075" transform="rotate(-0 343.799457 546.71075) translate(343.799457 546.71075) scale(1 1.060) translate(-343.799457 -546.71075)">10</text>
</g>
</g>
<g id="xtick_34">
<g id="line2d_179">
<path d="M 371.033457 535.632 L 371.033457 317.904" clip-path="url(#p58be9113b1)" style="fill: none; stroke-dasharray: 1,3; stroke-dashoffset: 0; stroke: #000000; stroke-width: 0.5"/>
</g>
<g id="line2d_180">
<g>
<path d="M 0 0 L 0 -3.7" transform="translate(371.033457 535.632)" style="stroke: #000000; stroke-width: 0.5"/>
</g>
</g>
<g id="line2d_181">
<g>
<path d="M 0 0 L 0 3.7" transform="translate(371.033457 317.904)" style="stroke: #000000; stroke-width: 0.5"/>
</g>
</g>
<g id="text_86">
<text style="font-size: 8px; font-family: 'DejaVu Sans', 'Liberation Sans', sans-serif; text-anchor: middle" x="371.033457" y="546.71075" transform="rotate(-0 371.033457 546.71075) translate(371.033457 546.71075) scale(1 1.060) translate(-371.033457 -546.71075)">12</text>
</g>
</g>
<g id="xtick_35">
<g id="line2d_182">
<path d="M 398.267457 535.632 L 398.267457 317.904" clip-path="url(#p58be9113b1)" style="fill: none; stroke-dasharray: 1,3; stroke-dashoffset: 0; stroke: #000000; stroke-width: 0.5"/>
</g>
<g id="line2d_183">
<g>
<path d="M 0 0 L 0 -3.7" transform="translate(398.267457 535.632)" style="stroke: #000000; stroke-width: 0.5"/>
</g>
</g>
<g id="line2d_184">
<g>
<path d="M 0 0 L 0 3.7" transform="translate(398.267457 317.904)" style="stroke: #000000; stroke-width: 0.5"/>
</g>
</g>
<g id="text_87">
<text style="font-size: 8px; font-family: 'DejaVu Sans', 'Liberation Sans', sans-serif; text-anchor: middle" x="398.267457" y="546.71075" transform="rotate(-0 398.267457 546.71075) translate(398.267457 546.71075) scale(1 1.060) translate(-398.267457 -546.71075)">14</text>
</g>
</g>
<g id="xtick_36">
<g id="line2d_185">
<path d="M 425.501457 535.632 L 425.501457 317.904" clip-path="url(#p58be9113b1)" style="fill: none; stroke-dasharray: 1,3; stroke-dashoffset: 0; stroke: #000000; stroke-width: 0.5"/>
</g>
<g id="line2d_186">
<g>
<path d="M 0 0 L 0 -3.7" transform="translate(425.501457 535.632)" style="stroke: #000000; stroke-width: 0.5"/>
</g>
</g>
<g id="line2d_187">
<g>
<path d="M 0 0 L 0 3.7" transform="translate(425.501457 317.904)" style="stroke: #000000; stroke-width: 0.5"/>
</g>
</g>
<g id="text_88">
<text style="font-size: 8px; font-family: 'DejaVu Sans', 'Liberation Sans', sans-serif; text-anchor: middle" x="425.501457" y="546.71075" transform="rotate(-0 425.501457 546.71075) translate(425.501457 546.71075) scale(1 1.060) translate(-425.501457 -546.71075)">16</text>
</g>
</g>
<g id="xtick_37">
<g id="line2d_188">
<path d="M 452.735457 535.632 L 452.735457 317.904" clip-path="url(#p58be9113b1)" style="fill: none; stroke-dasharray: 1,3; stroke-dashoffset: 0; stroke: #000000; stroke-width: 0.5"/>
</g>
<g id="line2d_189">
<g>
<path d="M 0 0 L 0 -3.7" transform="translate(452.735457 535.632)" style="stroke: #000000; stroke-width: 0.5"/>
</g>
</g>
<g id="line2d_190">
<g>
<path d="M 0 0 L 0 3.7" transform="translate(452.735457 317.904)" style="stroke: #000000; stroke-width: 0.5"/>
</g>
</g>
<g id="text_89">
<text style="font-size: 8px; font-family: 'DejaVu Sans', 'Liberation Sans', sans-serif; text-anchor: middle" x="452.735457" y="546.71075" transform="rotate(-0 452.735457 546.71075) translate(452.735457 546.71075) scale(1 1.060) translate(-452.735457 -546.71075)">18</text>
</g>
</g>
<g id="xtick_38">
<g id="line2d_191">
<path d="M 479.969457 535.632 L 479.969457 317.904" clip-path="url(#p58be9113b1)" style="fill: none; stroke-dasharray: 1,3; stroke-dashoffset: 0; stroke: #000000; stroke-width: 0.5"/>
</g>
<g id="line2d_192">
<g>
<path d="M 0 0 L 0 -3.7" transform="translate(479.969457 535.632)" style="stroke: #000000; stroke-width: 0.5"/>
</g>
</g>
<g id="line2d_193">
<g>
<path d="M 0 0 L 0 3.7" transform="translate(479.969457 317.904)" style="stroke: #000000; stroke-width: 0.5"/>
</g>
</g>
<g id="text_90">
<text style="font-size: 8px; font-family: 'DejaVu Sans', 'Liberation Sans', sans-serif; text-anchor: middle" x="479.969457" y="546.71075" transform="rotate(-0 479.969457 546.71075) translate(479.969457 546.71075) scale(1 1.060) translate(-479.969457 -546.71075)">20</text>
</g>
</g>
<g id="xtick_39">
<g id="line2d_194">
<path d="M 507.203457 535.632 L 507.203457 317.904" clip-path="url(#p58be9113b1)" style="fill: none; stroke-dasharray: 1,3; stroke-dashoffset: 0; stroke: #000000; stroke-width: 0.5"/>
</g>
<g id="line2d_195">
<g>
<path d="M 0 0 L 0 -3.7" transform="translate(507.203457 535.632)" style="stroke: #000000; stroke-width: 0.5"/>
</g>
</g>
<g id="line2d_196">
<g>
<path d="M 0 0 L 0 3.7" transform="translate(507.203457 317.904)" style="stroke: #000000; stroke-width: 0.5"/>
</g>
</g>
<g id="text_91">
<text style="font-size: 8px; font-family: 'DejaVu Sans', 'Liberation Sans', sans-serif; text-anchor: middle" x="507.203457" y="546.71075" transform="rotate(-0 507.203457 546.71075) translate(507.203457 546.71075) scale(1 1.060) translate(-507.203457 -546.71075)">22</text>
</g>
</g>
<g id="xtick_40">
<g id="line2d_197">
<path d="M 534.437457 535.632 L 534.437457 317.904" clip-path="url(#p58be9113b1)" style="fill: none; stroke-dasharray: 1,3; stroke-dashoffset: 0; stroke: #000000; stroke-width: 0.5"/>
</g>
<g id="line2d_198">
<g>
<path d="M 0 0 L 0 -3.7" transform="translate(534.437457 535.632)" style="stroke: #000000; stroke-width: 0.5"/>
</g>
</g>
<g id="line2d_199">
<g>
<path d="M 0 0 L 0 3.7" transform="translate(534.437457 317.904)" style="stroke: #000000; stroke-width: 0.5"/>
</g>
</g>
<g id="text_92">
<text style="font-size: 8px; font-family: 'DejaVu Sans', 'Liberation Sans', sans-serif; text-anchor: middle" x="534.437457" y="546.71075" transform="rotate(-0 534.437457 546.71075) translate(534.437457 546.71075) scale(1 1.060) translate(-534.437457 -546.71075)">24</text>
</g>
</g>
<g id="text_93">
<text style="font-size: 8px; font-family: 'DejaVu Sans', 'Liberation Sans', sans-serif; text-anchor: middle" x="432.024" y="561.35325" transform="rotate(-0 432.024 561.35325) translate(432.024 561.35325) scale(1 1.060) translate(-432.024 -561.35325)">V2(km/s)</text>
</g>
</g>
<g id="matplotlib.axis_10">
<g id="ytick_32">
<g id="line2d_200">
<path d="M 323.088 535.632 L 540.96 535.632" clip-path="url(#p58be9113b1)" style="fill: none; stroke-dasharray: 1,3; stroke-dashoffset: 0; stroke: #000000; stroke-width: 0.5"/>
</g>
<g id="line2d_201">
<g>
<path d="M 0 0 L 3.7 0" transform="translate(323.088 535.632)" style="stroke: #000000; stroke-width: 0.5"/>
</g>
</g>
<g id="line2d_202">
<g>
<path d="M 0 0 L -3.7 0" transform="translate(540.96 535.632)" style="stroke: #000000; stroke-width: 0.5"/>
</g>
</g>
<g id="text_94">
<text style="font-size: 8px; font-family: 'DejaVu Sans', 'Liberation Sans', sans-serif; text-anchor: end" x="319.088" y="537.8395" transform="rotate(-0 319.088 537.8395) translate(319.088 537.8395) scale(1 1.060) translate(-319.088 -537.8395)">−12</text>
</g>
</g>
<g id="ytick_33">
<g id="line2d_203">
<path d="M 323.088 508.416 L 540.96 508.416" clip-path="url(#p58be9113b1)" style="fill: none; stroke-dasharray: 1,3; stroke-dashoffset: 0; stroke: #000000; stroke-width: 0.5"/>
</g>
<g id="line2d_204">
<g>
<path d="M 0 0 L 3.7 0" transform="translate(323.088 508.416)" style="stroke: #000000; stroke-width: 0.5"/>
</g>
</g>
<g id="line2d_205">
<g>
<path d="M 0 0 L -3.7 0" transform="translate(540.96 508.416)" style="stroke: #000000; stroke-width: 0.5"/>
</g>
</g>
<g id="text_95">
<text style="font-size: 8px; font-family: 'DejaVu Sans', 'Liberation Sans', sans-serif; text-anchor: end" x="319.088" y="510.6235" transform="rotate(-0 319.088 510.6235) translate(319.088 510.6235) scale(1 1.060) translate(-319.088 -510.6235)">−10</text>
</g>
</g>
<g id="ytick_34">
<g id="line2d_206">
<path d="M 323.088 481.2 L 540.96 481.2" clip-path="url(#p58be9113b1)" style="fill: none; stroke-dasharray: 1,3; stroke-dashoffset: 0; stroke: #000000; stroke-width: 0.5"/>
</g>
<g id="line2d_207">
<g>
<path d="M 0 0 L 3.7 0" transform="translate(323.088 481.2)" style="stroke: #000000; stroke-width: 0.5"/>
</g>
</g>
<g id="line2d_208">
<g>
<path d="M 0 0 L -3.7 0" transform="translate(540.96 481.2)" style="stroke: #000000; stroke-width: 0.5"/>
</g>
</g>
<g id="text_96">
<text style="font-size: 8px; font-family: 'DejaVu Sans', 'Liberation Sans', sans-serif; text-anchor: end" x="319.088" y="483.4075" transform="rotate(-0 319.088 483.4075) translate(319.088 483.4075) scale(1 1.060) translate(-319.088 -483.4075)">−8</text>
</g>
</g>
<g id="ytick_35">
<g id="line2d_209">
<path d="M 323.088 453.984 L 540.96 453.984" clip-path="url(#p58be9113b1)" style="fill: none; stroke-dasharray: 1,3; stroke-dashoffset: 0; stroke: #000000; stroke-width: 0.5"/>
</g>
<g id="line2d_210">
<g>
<path d="M 0 0 L 3.7 0" transform="translate(323.088 453.984)" style="stroke: #000000; stroke-width: 0.5"/>
</g>
</g>
<g id="line2d_211">
<g>
<path d="M 0 0 L -3.7 0" transform="translate(540.96 453.984)" style="stroke: #000000; stroke-width: 0.5"/>
</g>
</g>
<g id="text_97">
<text style="font-size: 8px; font-family: 'DejaVu Sans', 'Liberation Sans', sans-serif; text-anchor: end" x="319.088" y="456.1915" transform="rotate(-0 319.088 456.1915) translate(319.088 456.1915) scale(1 1.060) translate(-319.088 -456.1915)">−6</text>
</g>
</g>
<g id="ytick_36">
<g id="line2d_212">
<path d="M 323.088 426.768 L 540.96 426.768" clip-path="url(#p58be9113b1)" style="fill: none; stroke-dasharray: 1,3; stroke-dashoffset: 0; stroke: #000000; stroke-width: 0.5"/>
</g>
<g id="line2d_213">
<g>
<path d="M 0 0 L 3.7 0" transform="translate(323.088 426.768)" style="stroke: #000000; stroke-width: 0.5"/>
</g>
</g>
<g id="line2d_214">
<g>
<path d="M 0 0 L -3.7 0" transform="translate(540.96 426.768)" style="stroke: #000000; stroke-width: 0.5"/>
</g>
</g>
<g id="text_98">
<text style="font-size: 8px; font-family: 'DejaVu Sans', 'Liberation Sans', sans-serif; text-anchor: end" x="319.088" y="428.9755" transform="rotate(-0 319.088 428.9755) translate(319.088 428.9755) scale(1 1.060) translate(-319.088 -428.9755)">−4</text>
</g>
</g>
<g id="ytick_37">
<g id="line2d_215">
<path d="M 323.088 399.552 L 540.96 399.552" clip-path="url(#p58be9113b1)" style="fill: none; stroke-dasharray: 1,3; stroke-dashoffset: 0; stroke: #000000; stroke-width: 0.5"/>
</g>
<g id="line2d_216">
<g>
<path d="M 0 0 L 3.7 0" transform="translate(323.088 399.552)" style="stroke: #000000; stroke-width: 0.5"/>
</g>
</g>
<g id="line2d_217">
<g>
<path d="M 0 0 L -3.7 0" transform="translate(540.96 399.552)" style="stroke: #000000; stroke-width: 0.5"/>
</g>
</g>
<g id="text_99">
<text style="font-size: 8px; font-family: 'DejaVu Sans', 'Liberation Sans', sans-serif; text-anchor: end" x="319.088" y="401.7595" transform="rotate(-0 319.088 401.7595) translate(319.088 401.7595) scale(1 1.060) translate(-319.088 -401.7595)">−2</text>
</g>
</g>
<g id="ytick_38">
<g id="line2d_218">
<path d="M 323.088 372.336 L 540.96 372.336" clip-path="url(#p58be9113b1)" style="fill: none; stroke-dasharray: 1,3; stroke-dashoffset: 0; stroke: #000000; stroke-width: 0.5"/>
</g>
<g id="line2d_219">
<g>
<path d="M 0 0 L 3.7 0" transform="translate(323.088 372.336)" style="stroke: #000000; stroke-width: 0.5"/>
</g>
</g>
<g id="line2d_220">
<g>
<path d="M 0 0 L -3.7 0" transform="translate(540.96 372.336)" style="stroke: #000000; stroke-width: 0.5"/>
</g>
</g>
<g id="text_100">
<text style="font-size: 8px; font-family: 'DejaVu Sans', 'Liberation Sans', sans-serif; text-anchor: end" x="319.088" y="374.5435" transform="rotate(-0 319.088 374.5435) translate(319.088 374.5435) scale(1 1.060) translate(-319.088 -374.5435)">0</text>
</g>
</g>
<g id="ytick_39">
<g id="line2d_221">
<path d="M 323.088 345.12 L 540.96 345.12" clip-path="url(#p58be9113b1)" style="fill: none; stroke-dasharray: 1,3; stroke-dashoffset: 0; stroke: #000000; stroke-width: 0.5"/>
</g>
<g id="line2d_222">
<g>
<path d="M 0 0 L 3.7 0" transform="translate(323.088 345.12)" style="stroke: #000000; stroke-width: 0.5"/>
</g>
</g>
<g id="line2d_223">
<g>
<path d="M 0 0 L -3.7 0" transform="translate(540.96 345.12)" style="stroke: #000000; stroke-width: 0.5"/>
</g>
</g>
<g id="text_101">
<text style="font-size: 8px; font-family: 'DejaVu Sans', 'Liberation Sans', sans-serif; text-anchor: end" x="319.088" y="347.3275" transform="rotate(-0 319.088 347.3275) translate(319.088 347.3275) scale(1 1.060) translate(-319.088 -347.3275)">2</text>
</g>
</g>
<g id="ytick_40">
<g id="line2d_224">
<path d="M 323.088 317.904 L 540.96 317.904" clip-path="url(#p58be9113b1)" style="fill: none; stroke-dasharray: 1,3; stroke-dashoffset: 0; stroke: #000000; stroke-width: 0.5"/>
</g>
<g id="line2d_225">
<g>
<path d="M 0 0 L 3.7 0" transform="translate(323.088 317.904)" style="stroke: #000000; stroke-width: 0.5"/>
</g>
</g>
<g id="line2d_226">
<g>
<path d="M 0 0 L -3.7 0" transform="translate(540.96 317.904)" style="stroke: #000000; stroke-width: 0.5"/>
</g>
</g>
<g id="text_102">
<text style="font-size: 8px; font-family: 'DejaVu Sans', 'Liberation Sans', sans-serif; text-anchor: end" x="319.088" y="320.1115" transform="rotate(-0 319.088 320.1115) translate(319.088 320.1115) scale(1 1.060) translate(-319.088 -320.1115)">4</text>
</g>
</g>
<g id="text_103">
<text style="font-size: 8px; font-family: 'DejaVu Sans', 'Liberation Sans', sans-serif; text-anchor: middle" x="295.0605" y="427.728" transform="rotate(-90 295.0605 427.728) translate(295.0605 427.728) scale(1 1.060) translate(-295.0605 -427.728)">V1(km/s)</text>
</g>
</g>
<g id="text_104">
<!-- $\lambda_1/\lambda_2\approx$ 3.45 -->
<g transform="translate(328.905182 524.157734)">
<text>
<tspan x="0" y="-0.3125" style="font-size: 8.8px; font-family: 'Latin Modern Math', 'DejaVu Serif', serif; font-style: italic">λ</tspan>
<tspan x="8.768759" y="-0.3125" style="font-size: 8.8px; font-family: 'Latin Modern Math', 'DejaVu Serif', serif">/</tspan>
<tspan x="13.167197" y="-0.3125" style="font-size: 8.8px; font-family: 'Latin Modern Math', 'DejaVu Serif', serif; font-style: italic">λ</tspan>
<tspan x="5.128647" y="1.18405" style="font-size: 6.16px; font-family: 'Latin Modern Roman', 'DejaVu Serif', serif">1</tspan>
<tspan x="18.295844" y="1.18405" style="font-size: 6.16px; font-family: 'Latin Modern Roman', 'DejaVu Serif', serif">2</tspan>
<tspan x="23.480564" y="-0.3125" style="font-size: 8.8px; font-family: 'Latin Modern Math', 'DejaVu Sans', sans-serif">≈</tspan>
<tspan x="31.859064" y="-0.3125" style="font-size: 8.8px; font-family: 'DejaVu Sans', 'Liberation Sans', sans-serif"> </tspan>
<tspan x="34.640436" y="-0.3125" style="font-size: 8.8px; font-family: 'DejaVu Sans', 'Liberation Sans', sans-serif">3</tspan>
<tspan x="40.207453" y="-0.3125" style="font-size: 8.8px; font-family: 'DejaVu Sans', 'Liberation Sans', sans-serif">.</tspan>
<tspan x="42.988825" y="-0.3125" style="font-size: 8.8px; font-family: 'DejaVu Sans', 'Liberation Sans', sans-serif">4</tspan>
<tspan x="48.555841" y="-0.3125" style="font-size: 8.8px; font-family: 'DejaVu Sans', 'Liberation Sans', sans-serif">5</tspan>
</text>
</g>
</g>
<g id="text_105">
<!-- Hodogram (V2_V1 MVAV$_{remaining}$ frame) -->
<g transform="translate(325.503096 312.904)">
<text>
<tspan x="0" y="-0.640625" style="font-size: 10.9872px; font-family: 'DejaVu Sans', 'Liberation Sans', sans-serif">H</tspan>
<tspan x="8.271484" y="-0.640625" style="font-size: 10.9872px; font-family: 'DejaVu Sans', 'Liberation Sans', sans-serif">o</tspan>
<tspan x="15.001465" y="-0.640625" style="font-size: 10.9872px; font-family: 'DejaVu Sans', 'Liberation Sans', sans-serif">d</tspan>
<tspan x="21.983887" y="-0.640625" style="font-size: 10.9872px; font-family: 'DejaVu Sans', 'Liberation Sans', sans-serif">o</tspan>
<tspan x="28.713867" y="-0.640625" style="font-size: 10.9872px; font-family: 'DejaVu Sans', 'Liberation Sans', sans-serif">g</tspan>
<tspan x="35.696289" y="-0.640625" style="font-size: 10.9872px; font-family: 'DejaVu Sans', 'Liberation Sans', sans-serif">r</tspan>
<tspan x="40.21875" y="-0.640625" style="font-size: 10.9872px; font-family: 'DejaVu Sans', 'Liberation Sans', sans-serif">a</tspan>
<tspan x="46.959473" y="-0.640625" style="font-size: 10.9872px; font-family: 'DejaVu Sans', 'Liberation Sans', sans-serif">m</tspan>
<tspan x="57.674805" y="-0.640625" style="font-size: 10.9872px; font-family: 'DejaVu Sans', 'Liberation Sans', sans-serif"> </tspan>
<tspan x="61.171387" y="-0.640625" style="font-size: 10.9872px; font-family: 'DejaVu Sans', 'Liberation Sans', sans-serif">(</tspan>
<tspan x="65.462891" y="-0.640625" style="font-size: 10.9872px; font-family: 'DejaVu Sans', 'Liberation Sans', sans-serif">V</tspan>
<tspan x="72.987793" y="-0.640625" style="font-size: 10.9872px; font-family: 'DejaVu Sans', 'Liberation Sans', sans-serif">2</tspan>
<tspan x="79.986328" y="-0.640625" style="font-size: 10.9872px; font-family: 'DejaVu Sans', 'Liberation Sans', sans-serif">_</tspan>
<tspan x="85.486328" y="-0.640625" style="font-size: 10.9872px; font-family: 'DejaVu Sans', 'Liberation Sans', sans-serif">V</tspan>
<tspan x="93.01123" y="-0.640625" style="font-size: 10.9872px; font-family: 'DejaVu Sans', 'Liberation Sans', sans-serif">1</tspan>
<tspan x="100.009766" y="-0.640625" style="font-size: 10.9872px; font-family: 'DejaVu Sans', 'Liberation Sans', sans-serif"> </tspan>
<tspan x="103.506348" y="-0.640625" style="font-size: 10.9872px; font-family: 'DejaVu Sans', 'Liberation Sans', sans-serif">M</tspan>
<tspan x="112.99707" y="-0.640625" style="font-size: 10.9872px; font-family: 'DejaVu Sans', 'Liberation Sans', sans-serif">V</tspan>
<tspan x="120.521973" y="-0.640625" style="font-size: 10.9872px; font-family: 'DejaVu Sans', 'Liberation Sans', sans-serif">A</tspan>
<tspan x="128.046875" y="-0.640625" style="font-size: 10.9872px; font-family: 'DejaVu Sans', 'Liberation Sans', sans-serif">V</tspan>
<tspan x="172.805401" y="-0.640625" style="font-size: 10.9872px; font-family: 'DejaVu Sans', 'Liberation Sans', sans-serif"> </tspan>
<tspan x="176.301983" y="-0.640625" style="font-size: 10.9872px; font-family: 'DejaVu Sans', 'Liberation Sans', sans-serif">f</tspan>
<tspan x="180.174542" y="-0.640625" style="font-size: 10.9872px; font-family: 'DejaVu Sans', 'Liberation Sans', sans-serif">r</tspan>
<tspan x="184.697003" y="-0.640625" style="font-size: 10.9872px; font-family: 'DejaVu Sans', 'Liberation Sans', sans-serif">a</tspan>
<tspan x="191.437726" y="-0.640625" style="font-size: 10.9872px; font-family: 'DejaVu Sans', 'Liberation Sans', sans-serif">m</tspan>
<tspan x="202.153058" y="-0.640625" style="font-size: 10.9872px; font-family: 'DejaVu Sans', 'Liberation Sans', sans-serif">e</tspan>
<tspan x="208.920636" y="-0.640625" style="font-size: 10.9872px; font-family: 'DejaVu Sans', 'Liberation Sans', sans-serif">)</tspan>
<tspan x="136.062261" y="1.227886" style="font-size: 7.69104px; font-family: 'Latin Modern Roman', 'DejaVu Serif', serif; font-style: italic">r</tspan>
<tspan x="139.53135" y="1.227886" style="font-size: 7.69104px; font-family: 'Latin Modern Roman', 'DejaVu Serif', serif; font-style: italic">e</tspan>
<tspan x="143.105563" y="1.227886" style="font-size: 7.69104px; font-family: 'Latin Modern Roman', 'DejaVu Serif', serif; font-style: italic">m</tspan>
<tspan x="149.856019" y="1.227886" style="font-size: 7.69104px; font-family: 'Latin Modern Roman', 'DejaVu Serif', serif; font-style: italic">a</tspan>
<tspan x="153.914547" y="1.227886" style="font-size: 7.69104px; font-family: 'Latin Modern Roman', 'DejaVu Serif', serif; font-style: italic">i</tspan>
<tspan x="156.561411" y="1.227886" style="font-size: 7.69104px; font-family: 'Latin Modern Roman', 'DejaVu Serif', serif; font-style: italic">n</tspan>
<tspan x="161.175595" y="1.227886" style="font-size: 7.69104px; font-family: 'Latin Modern Roman', 'DejaVu Serif', serif; font-style: italic">i</tspan>
<tspan x="163.822459" y="1.227886" style="font-size: 7.69104px; font-family: 'Latin Modern Roman', 'DejaVu Serif', serif; font-style: italic">n</tspan>
<tspan x="168.436642" y="1.227886" style="font-size: 7.69104px; font-family: 'Latin Modern Roman', 'DejaVu Serif', serif; font-style: italic">g</tspan>
</text>
</g>
</g>
</g>
<g id="axes_6">
<g id="patch_31">
<path d="M 590.016 535.632 L 807.888 535.632 L 807.888 317.904 L 590.016 317.904 z" style="fill: #ffffff"/>
</g>
<g id="line2d_227">
<path d="M 713.028808 395.169326 L 702.30342 373.096788 L 712.096166 458.899896 L 737.743834 468.537202 L 743.65057 443.200415 L 710.541762 397.967254 L 697.484767 328.329948 L 710.07544 353.977617 L 707.588394 520.920622 L 699.971813 388.019067 L 686.448497 451.438756 L 653.339689 479.10715 L 657.070259 415.37658" clip-path="url(#p28abb10b20)" style="fill: none; stroke: #0000ff; stroke-linecap: square"/>
<g clip-path="url(#p28abb10b20)">
<path d="M 0 1.85 C 0.490626 1.85 0.961223 1.655072 1.308148 1.308148 C 1.655072 0.961223 1.85 0.490626 1.85 0 C 1.85 -0.490626 1.655072 -0.961223 1.308148 -1.308148 C 0.961223 -1.655072 0.490626 -1.85 0 -1.85 C -0.490626 -1.85 -0.961223 -1.655072 -1.308148 -1.308148 C -1.655072 -0.961223 -1.85 -0.490626 -1.85 0 C -1.85 0.490626 -1.655072 0.961223 -1.308148 1.308148 C -0.961223 1.655072 -0.490626 1.85 0 1.85 z" transform="translate(713.028808 395.169326)" style="fill: #0000ff"/>
<path d="M 0 1.85 C 0.490626 1.85 0.961223 1.655072 1.308148 1.308148 C 1.655072 0.961223 1.85 0.490626 1.85 0 C 1.85 -0.490626 1.655072 -0.961223 1.308148 -1.308148 C 0.961223 -1.655072 0.490626 -1.85 0 -1.85 C -0.490626 -1.85 -0.961223 -1.655072 -1.308148 -1.308148 C -1.655072 -0.961223 -1.85 -0.490626 -1.85 0 C -1.85 0.490626 -1.655072 0.961223 -1.308148 1.308148 C -0.961223 1.655072 -0.490626 1.85 0 1.85 z" transform="translate(702.30342 373.096788)" style="fill: #0000ff"/>
<path d="M 0 1.85 C 0.490626 1.85 0.961223 1.655072 1.308148 1.308148 C 1.655072 0.961223 1.85 0.490626 1.85 0 C 1.85 -0.490626 1.655072 -0.961223 1.308148 -1.308148 C 0.961223 -1.655072 0.490626 -1.85 0 -1.85 C -0.490626 -1.85 -0.961223 -1.655072 -1.308148 -1.308148 C -1.655072 -0.961223 -1.85 -0.490626 -1.85 0 C -1.85 0.490626 -1.655072 0.961223 -1.308148 1.308148 C -0.961223 1.655072 -0.490626 1.85 0 1.85 z" transform="translate(712.096166 458.899896)" style="fill: #0000ff"/>
<path d="M 0 1.85 C 0.490626 1.85 0.961223 1.655072 1.308148 1.308148 C 1.655072 0.961223 1.85 0.490626 1.85 0 C 1.85 -0.490626 1.655072 -0.961223 1.308148 -1.308148 C 0.961223 -1.655072 0.490626 -1.85 0 -1.85 C -0.490626 -1.85 -0.961223 -1.655072 -1.308148 -1.308148 C -1.655072 -0.961223 -1.85 -0.490626 -1.85 0 C -1.85 0.490626 -1.655072 0.961223 -1.308148 1.308148 C -0.961223 1.655072 -0.490626 1.85 0 1.85 z" transform="translate(737.743834 468.537202)" style="fill: #0000ff"/>
<path d="M 0 1.85 C 0.490626 1.85 0.961223 1.655072 1.308148 1.308148 C 1.655072 0.961223 1.85 0.490626 1.85 0 C 1.85 -0.490626 1.655072 -0.961223 1.308148 -1.308148 C 0.961223 -1.655072 0.490626 -1.85 0 -1.85 C -0.490626 -1.85 -0.961223 -1.655072 -1.308148 -1.308148 C -1.655072 -0.961223 -1.85 -0.490626 -1.85 0 C -1.85 0.490626 -1.655072 0.961223 -1.308148 1.308148 C -0.961223 1.655072 -0.490626 1.85 0 1.85 z" transform="translate(743.65057 443.200415)" style="fill: #0000ff"/>
<path d="M 0 1.85 C 0.490626 1.85 0.961223 1.655072 1.308148 1.308148 C 1.655072 0.961223 1.85 0.490626 1.85 0 C 1.85 -0.490626 1.655072 -0.961223 1.308148 -1.308148 C 0.961223 -1.655072 0.490626 -1.85 0 -1.85 C -0.490626 -1.85 -0.961223 -1.655072 -1.308148 -1.308148 C -1.655072 -0.961223 -1.85 -0.490626 -1.85 0 C -1.85 0.490626 -1.655072 0.961223 -1.308148 1.308148 C -0.961223 1.655072 -0.490626 1.85 0 1.85 z" transform="translate(710.541762 397.967254)" style="fill: #0000ff"/>
<path d="M 0 1.85 C 0.490626 1.85 0.961223 1.655072 1.308148 1.308148 C 1.655072 0.961223 1.85 0.490626 1.85 0 C 1.85 -0.490626 1.655072 -0.961223 1.308148 -1.308148 C 0.961223 -1.655072 0.490626 -1.85 0 -1.85 C -0.490626 -1.85 -0.961223 -1.655072 -1.308148 -1.308148 C -1.655072 -0.961223 -1.85 -0.490626 -1.85 0 C -1.85 0.490626 -1.655072 0.961223 -1.308148 1.308148 C -0.961223 1.655072 -0.490626 1.85 0 1.85 z" transform="translate(697.484767 328.329948)" style="fill: #0000ff"/>
<path d="M 0 1.85 C 0.490626 1.85 0.961223 1.655072 1.308148 1.308148 C 1.655072 0.961223 1.85 0.490626 1.85 0 C 1.85 -0.490626 1.655072 -0.961223 1.308148 -1.308148 C 0.961223 -1.655072 0.490626 -1.85 0 -1.85 C -0.490626 -1.85 -0.961223 -1.655072 -1.308148 -1.308148 C -1.655072 -0.961223 -1.85 -0.490626 -1.85 0 C -1.85 0.490626 -1.655072 0.961223 -1.308148 1.308148 C -0.961223 1.655072 -0.490626 1.85 0 1.85 z" transform="translate(710.07544 353.977617)" style="fill: #0000ff"/>
<path d="M 0 1.85 C 0.490626 1.85 0.961223 1.655072 1.308148 1.308148 C 1.655072 0.961223 1.85 0.490626 1.85 0 C 1.85 -0.490626 1.655072 -0.961223 1.308148 -1.308148 C 0.961223 -1.655072 0.490626 -1.85 0 -1.85 C -0.490626 -1.85 -0.961223 -1.655072 -1.308148 -1.308148 C -1.655072 -0.961223 -1.85 -0.490626 -1.85 0 C -1.85 0.490626 -1.655072 0.961223 -1.308148 1.308148 C -0.961223 1.655072 -0.490626 1.85 0 1.85 z" transform="translate(707.588394 520.920622)" style="fill: #0000ff"/>
<path d="M 0 1.85 C 0.490626 1.85 0.961223 1.655072 1.308148 1.308148 C 1.655072 0.961223 1.85 0.490626 1.85 0 C 1.85 -0.490626 1.655072 -0.961223 1.308148 -1.308148 C 0.961223 -1.655072 0.490626 -1.85 0 -1.85 C -0.490626 -1.85 -0.961223 -1.655072 -1.308148 -1.308148 C -1.655072 -0.961223 -1.85 -0.490626 -1.85 0 C -1.85 0.490626 -1.655072 0.961223 -1.308148 1.308148 C -0.961223 1.655072 -0.490626 1.85 0 1.85 z" transform="translate(699.971813 388.019067)" style="fill: #0000ff"/>
<path d="M 0 1.85 C 0.490626 1.85 0.961223 1.655072 1.308148 1.308148 C 1.655072 0.961223 1.85 0.490626 1.85 0 C 1.85 -0.490626 1.655072 -0.961223 1.308148 -1.308148 C 0.961223 -1.655072 0.490626 -1.85 0 -1.85 C -0.490626 -1.85 -0.961223 -1.655072 -1.308148 -1.308148 C -1.655072 -0.961223 -1.85 -0.490626 -1.85 0 C -1.85 0.490626 -1.655072 0.961223 -1.308148 1.308148 C -0.961223 1.655072 -0.490626 1.85 0 1.85 z" transform="translate(686.448497 451.438756)" style="fill: #0000ff"/>
<path d="M 0 1.85 C 0.490626 1.85 0.961223 1.655072 1.308148 1.308148 C 1.655072 0.961223 1.85 0.490626 1.85 0 C 1.85 -0.490626 1.655072 -0.961223 1.308148 -1.308148 C 0.961223 -1.655072 0.490626 -1.85 0 -1.85 C -0.490626 -1.85 -0.961223 -1.655072 -1.308148 -1.308148 C -1.655072 -0.961223 -1.85 -0.490626 -1.85 0 C -1.85 0.490626 -1.655072 0.961223 -1.308148 1.308148 C -0.961223 1.655072 -0.490626 1.85 0 1.85 z" transform="translate(653.339689 479.10715)" style="fill: #0000ff"/>
<path d="M 0 1.85 C 0.490626 1.85 0.961223 1.655072 1.308148 1.308148 C 1.655072 0.961223 1.85 0.490626 1.85 0 C 1.85 -0.490626 1.655072 -0.961223 1.308148 -1.308148 C 0.961223 -1.655072 0.490626 -1.85 0 -1.85 C -0.490626 -1.85 -0.961223 -1.655072 -1.308148 -1.308148 C -1.655072 -0.961223 -1.85 -0.490626 -1.85 0 C -1.85 0.490626 -1.655072 0.961223 -1.308148 1.308148 C -0.961223 1.655072 -0.490626 1.85 0 1.85 z" transform="translate(657.070259 415.37658)" style="fill: #0000ff"/>
</g>
</g>
<g id="patch_32">
<path d="M 590.016 535.632 L 590.016 317.904" style="fill: none; stroke: #000000; stroke-linejoin: miter; stroke-linecap: square"/>
</g>
<g id="patch_33">
<path d="M 807.888 535.632 L 807.888 317.904" style="fill: none; stroke: #000000; stroke-linejoin: miter; stroke-linecap: square"/>
</g>
<g id="patch_34">
<path d="M 590.016 535.632 L 807.888 535.632" style="fill: none; stroke: #000000; stroke-linejoin: miter; stroke-linecap: square"/>
</g>
<g id="patch_35">
<path d="M 590.016 317.904 L 807.888 317.904" style="fill: none; stroke: #000000; stroke-linejoin: miter; stroke-linecap: square"/>
</g>
<g id="matplotlib.axis_11">
<g id="xtick_41">
<g id="line2d_228">
<path d="M 596.8245 535.632 L 596.8245 317.904" clip-path="url(#p28abb10b20)" style="fill: none; stroke-dasharray: 1,3; stroke-dashoffset: 0; stroke: #000000; stroke-width: 0.5"/>
</g>
<g id="line2d_229">
<g>
<path d="M 0 0 L 0 -3.7" transform="translate(596.8245 535.632)" style="stroke: #000000; stroke-width: 0.5"/>
</g>
</g>
<g id="line2d_230">
<g>
<path d="M 0 0 L 0 3.7" transform="translate(596.8245 317.904)" style="stroke: #000000; stroke-width: 0.5"/>
</g>
</g>
<g id="text_106">
<text style="font-size: 8px; font-family: 'DejaVu Sans', 'Liberation Sans', sans-serif; text-anchor: middle" x="596.8245" y="546.71075" transform="rotate(-0 596.8245 546.71075) translate(596.8245 546.71075) scale(1 1.060) translate(-596.8245 -546.71075)">16</text>
</g>
</g>
<g id="xtick_42">
<g id="line2d_231">
<path d="M 624.0585 535.632 L 624.0585 317.904" clip-path="url(#p28abb10b20)" style="fill: none; stroke-dasharray: 1,3; stroke-dashoffset: 0; stroke: #000000; stroke-width: 0.5"/>
</g>
<g id="line2d_232">
<g>
<path d="M 0 0 L 0 -3.7" transform="translate(624.0585 535.632)" style="stroke: #000000; stroke-width: 0.5"/>
</g>
</g>
<g id="line2d_233">
<g>
<path d="M 0 0 L 0 3.7" transform="translate(624.0585 317.904)" style="stroke: #000000; stroke-width: 0.5"/>
</g>
</g>
<g id="text_107">
<text style="font-size: 8px; font-family: 'DejaVu Sans', 'Liberation Sans', sans-serif; text-anchor: middle" x="624.0585" y="546.71075" transform="rotate(-0 624.0585 546.71075) translate(624.0585 546.71075) scale(1 1.060) translate(-624.0585 -546.71075)">18</text>
</g>
</g>
<g id="xtick_43">
<g id="line2d_234">
<path d="M 651.2925 535.632 L 651.2925 317.904" clip-path="url(#p28abb10b20)" style="fill: none; stroke-dasharray: 1,3; stroke-dashoffset: 0; stroke: #000000; stroke-width: 0.5"/>
</g>
<g id="line2d_235">
<g>
<path d="M 0 0 L 0 -3.7" transform="translate(651.2925 535.632)" style="stroke: #000000; stroke-width: 0.5"/>
</g>
</g>
<g id="line2d_236">
<g>
<path d="M 0 0 L 0 3.7" transform="translate(651.2925 317.904)" style="stroke: #000000; stroke-width: 0.5"/>
</g>
</g>
<g id="text_108">
<text style="font-size: 8px; font-family: 'DejaVu Sans', 'Liberation Sans', sans-serif; text-anchor: middle" x="651.2925" y="546.71075" transform="rotate(-0 651.2925 546.71075) translate(651.2925 546.71075) scale(1 1.060) translate(-651.2925 -546.71075)">20</text>
</g>
</g>
<g id="xtick_44">
<g id="line2d_237">
<path d="M 678.5265 535.632 L 678.5265 317.904" clip-path="url(#p28abb10b20)" style="fill: none; stroke-dasharray: 1,3; stroke-dashoffset: 0; stroke: #000000; stroke-width: 0.5"/>
</g>
<g id="line2d_238">
<g>
<path d="M 0 0 L 0 -3.7" transform="translate(678.5265 535.632)" style="stroke: #000000; stroke-width: 0.5"/>
</g>
</g>
<g id="line2d_239">
<g>
<path d="M 0 0 L 0 3.7" transform="translate(678.5265 317.904)" style="stroke: #000000; stroke-width: 0.5"/>
</g>
</g>
<g id="text_109">
<text style="font-size: 8px; font-family: 'DejaVu Sans', 'Liberation Sans', sans-serif; text-anchor: middle" x="678.5265" y="546.71075" transform="rotate(-0 678.5265 546.71075) translate(678.5265 546.71075) scale(1 1.060) translate(-678.5265 -546.71075)">22</text>
</g>
</g>
<g id="xtick_45">
<g id="line2d_240">
<path d="M 705.7605 535.632 L 705.7605 317.904" clip-path="url(#p28abb10b20)" style="fill: none; stroke-dasharray: 1,3; stroke-dashoffset: 0; stroke: #000000; stroke-width: 0.5"/>
</g>
<g id="line2d_241">
<g>
<path d="M 0 0 L 0 -3.7" transform="translate(705.7605 535.632)" style="stroke: #000000; stroke-width: 0.5"/>
</g>
</g>
<g id="line2d_242">
<g>
<path d="M 0 0 L 0 3.7" transform="translate(705.7605 317.904)" style="stroke: #000000; stroke-width: 0.5"/>
</g>
</g>
<g id="text_110">
<text style="font-size: 8px; font-family: 'DejaVu Sans', 'Liberation Sans', sans-serif; text-anchor: middle" x="705.7605" y="546.71075" transform="rotate(-0 705.7605 546.71075) translate(705.7605 546.71075) scale(1 1.060) translate(-705.7605 -546.71075)">24</text>
</g>
</g>
<g id="xtick_46">
<g id="line2d_243">
<path d="M 732.9945 535.632 L 732.9945 317.904" clip-path="url(#p28abb10b20)" style="fill: none; stroke-dasharray: 1,3; stroke-dashoffset: 0; stroke: #000000; stroke-width: 0.5"/>
</g>
<g id="line2d_244">
<g>
<path d="M 0 0 L 0 -3.7" transform="translate(732.9945 535.632)" style="stroke: #000000; stroke-width: 0.5"/>
</g>
</g>
<g id="line2d_245">
<g>
<path d="M 0 0 L 0 3.7" transform="translate(732.9945 317.904)" style="stroke: #000000; stroke-width: 0.5"/>
</g>
</g>
<g id="text_111">
<text style="font-size: 8px; font-family: 'DejaVu Sans', 'Liberation Sans', sans-serif; text-anchor: middle" x="732.9945" y="546.71075" transform="rotate(-0 732.9945 546.71075) translate(732.9945 546.71075) scale(1 1.060) translate(-732.9945 -546.71075)">26</text>
</g>
</g>
<g id="xtick_47">
<g id="line2d_246">
<path d="M 760.2285 535.632 L 760.2285 317.904" clip-path="url(#p28abb10b20)" style="fill: none; stroke-dasharray: 1,3; stroke-dashoffset: 0; stroke: #000000; stroke-width: 0.5"/>
</g>
<g id="line2d_247">
<g>
<path d="M 0 0 L 0 -3.7" transform="translate(760.2285 535.632)" style="stroke: #000000; stroke-width: 0.5"/>
</g>
</g>
<g id="line2d_248">
<g>
<path d="M 0 0 L 0 3.7" transform="translate(760.2285 317.904)" style="stroke: #000000; stroke-width: 0.5"/>
</g>
</g>
<g id="text_112">
<text style="font-size: 8px; font-family: 'DejaVu Sans', 'Liberation Sans', sans-serif; text-anchor: middle" x="760.2285" y="546.71075" transform="rotate(-0 760.2285 546.71075) translate(760.2285 546.71075) scale(1 1.060) translate(-760.2285 -546.71075)">28</text>
</g>
</g>
<g id="xtick_48">
<g id="line2d_249">
<path d="M 787.4625 535.632 L 787.4625 317.904" clip-path="url(#p28abb10b20)" style="fill: none; stroke-dasharray: 1,3; stroke-dashoffset: 0; stroke: #000000; stroke-width: 0.5"/>
</g>
<g id="line2d_250">
<g>
<path d="M 0 0 L 0 -3.7" transform="translate(787.4625 535.632)" style="stroke: #000000; stroke-width: 0.5"/>
</g>
</g>
<g id="line2d_251">
<g>
<path d="M 0 0 L 0 3.7" transform="translate(787.4625 317.904)" style="stroke: #000000; stroke-width: 0.5"/>
</g>
</g>
<g id="text_113">
<text style="font-size: 8px; font-family: 'DejaVu Sans', 'Liberation Sans', sans-serif; text-anchor: middle" x="787.4625" y="546.71075" transform="rotate(-0 787.4625 546.71075) translate(787.4625 546.71075) scale(1 1.060) translate(-787.4625 -546.71075)">30</text>
</g>
</g>
<g id="text_114">
<text style="font-size: 8px; font-family: 'DejaVu Sans', 'Liberation Sans', sans-serif; text-anchor: middle" x="698.952" y="561.35325" transform="rotate(-0 698.952 561.35325) translate(698.952 561.35325) scale(1 1.060) translate(-698.952 -561.35325)">V3(km/s)</text>
</g>
</g>
<g id="matplotlib.axis_12">
<g id="ytick_41">
<g id="line2d_252">
<path d="M 590.016 535.632 L 807.888 535.632" clip-path="url(#p28abb10b20)" style="fill: none; stroke-dasharray: 1,3; stroke-dashoffset: 0; stroke: #000000; stroke-width: 0.5"/>
</g>
<g id="line2d_253">
<g>
<path d="M 0 0 L 3.7 0" transform="translate(590.016 535.632)" style="stroke: #000000; stroke-width: 0.5"/>
</g>
</g>
<g id="line2d_254">
<g>
<path d="M 0 0 L -3.7 0" transform="translate(807.888 535.632)" style="stroke: #000000; stroke-width: 0.5"/>
</g>
</g>
<g id="text_115">
<text style="font-size: 8px; font-family: 'DejaVu Sans', 'Liberation Sans', sans-serif; text-anchor: end" x="586.016" y="537.8395" transform="rotate(-0 586.016 537.8395) translate(586.016 537.8395) scale(1 1.060) translate(-586.016 -537.8395)">−12</text>
</g>
</g>
<g id="ytick_42">
<g id="line2d_255">
<path d="M 590.016 508.416 L 807.888 508.416" clip-path="url(#p28abb10b20)" style="fill: none; stroke-dasharray: 1,3; stroke-dashoffset: 0; stroke: #000000; stroke-width: 0.5"/>
</g>
<g id="line2d_256">
<g>
<path d="M 0 0 L 3.7 0" transform="translate(590.016 508.416)" style="stroke: #000000; stroke-width: 0.5"/>
</g>
</g>
<g id="line2d_257">
<g>
<path d="M 0 0 L -3.7 0" transform="translate(807.888 508.416)" style="stroke: #000000; stroke-width: 0.5"/>
</g>
</g>
<g id="text_116">
<text style="font-size: 8px; font-family: 'DejaVu Sans', 'Liberation Sans', sans-serif; text-anchor: end" x="586.016" y="510.6235" transform="rotate(-0 586.016 510.6235) translate(586.016 510.6235) scale(1 1.060) translate(-586.016 -510.6235)">−10</text>
</g>
</g>
<g id="ytick_43">
<g id="line2d_258">
<path d="M 590.016 481.2 L 807.888 481.2" clip-path="url(#p28abb10b20)" style="fill: none; stroke-dasharray: 1,3; stroke-dashoffset: 0; stroke: #000000; stroke-width: 0.5"/>
</g>
<g id="line2d_259">
<g>
<path d="M 0 0 L 3.7 0" transform="translate(590.016 481.2)" style="stroke: #000000; stroke-width: 0.5"/>
</g>
</g>
<g id="line2d_260">
<g>
<path d="M 0 0 L -3.7 0" transform="translate(807.888 481.2)" style="stroke: #000000; stroke-width: 0.5"/>
</g>
</g>
<g id="text_117">
<text style="font-size: 8px; font-family: 'DejaVu Sans', 'Liberation Sans', sans-serif; text-anchor: end" x="586.016" y="483.4075" transform="rotate(-0 586.016 483.4075) translate(586.016 483.4075) scale(1 1.060) translate(-586.016 -483.4075)">−8</text>
</g>
</g>
<g id="ytick_44">
<g id="line2d_261">
<path d="M 590.016 453.984 L 807.888 453.984" clip-path="url(#p28abb10b20)" style="fill: none; stroke-dasharray: 1,3; stroke-dashoffset: 0; stroke: #000000; stroke-width: 0.5"/>
</g>
<g id="line2d_262">
<g>
<path d="M 0 0 L 3.7 0" transform="translate(590.016 453.984)" style="stroke: #000000; stroke-width: 0.5"/>
</g>
</g>
<g id="line2d_263">
<g>
<path d="M 0 0 L -3.7 0" transform="translate(807.888 453.984)" style="stroke: #000000; stroke-width: 0.5"/>
</g>
</g>
<g id="text_118">
<text style="font-size: 8px; font-family: 'DejaVu Sans', 'Liberation Sans', sans-serif; text-anchor: end" x="586.016" y="456.1915" transform="rotate(-0 586.016 456.1915) translate(586.016 456.1915) scale(1 1.060) translate(-586.016 -456.1915)">−6</text>
</g>
</g>
<g id="ytick_45">
<g id="line2d_264">
<path d="M 590.016 426.768 L 807.888 426.768" clip-path="url(#p28abb10b20)" style="fill: none; stroke-dasharray: 1,3; stroke-dashoffset: 0; stroke: #000000; stroke-width: 0.5"/>
</g>
<g id="line2d_265">
<g>
<path d="M 0 0 L 3.7 0" transform="translate(590.016 426.768)" style="stroke: #000000; stroke-width: 0.5"/>
</g>
</g>
<g id="line2d_266">
<g>
<path d="M 0 0 L -3.7 0" transform="translate(807.888 426.768)" style="stroke: #000000; stroke-width: 0.5"/>
</g>
</g>
<g id="text_119">
<text style="font-size: 8px; font-family: 'DejaVu Sans', 'Liberation Sans', sans-serif; text-anchor: end" x="586.016" y="428.9755" transform="rotate(-0 586.016 428.9755) translate(586.016 428.9755) scale(1 1.060) translate(-586.016 -428.9755)">−4</text>
</g>
</g>
<g id="ytick_46">
<g id="line2d_267">
<path d="M 590.016 399.552 L 807.888 399.552" clip-path="url(#p28abb10b20)" style="fill: none; stroke-dasharray: 1,3; stroke-dashoffset: 0; stroke: #000000; stroke-width: 0.5"/>
</g>
<g id="line2d_268">
<g>
<path d="M 0 0 L 3.7 0" transform="translate(590.016 399.552)" style="stroke: #000000; stroke-width: 0.5"/>
</g>
</g>
<g id="line2d_269">
<g>
<path d="M 0 0 L -3.7 0" transform="translate(807.888 399.552)" style="stroke: #000000; stroke-width: 0.5"/>
</g>
</g>
<g id="text_120">
<text style="font-size: 8px; font-family: 'DejaVu Sans', 'Liberation Sans', sans-serif; text-anchor: end" x="586.016" y="401.7595" transform="rotate(-0 586.016 401.7595) translate(586.016 401.7595) scale(1 1.060) translate(-586.016 -401.7595)">−2</text>
</g>
</g>
<g id="ytick_47">
<g id="line2d_270">
<path d="M 590.016 372.336 L 807.888 372.336" clip-path="url(#p28abb10b20)" style="fill: none; stroke-dasharray: 1,3; stroke-dashoffset: 0; stroke: #000000; stroke-width: 0.5"/>
</g>
<g id="line2d_271">
<g>
<path d="M 0 0 L 3.7 0" transform="translate(590.016 372.336)" style="stroke: #000000; stroke-width: 0.5"/>
</g>
</g>
<g id="line2d_272">
<g>
<path d="M 0 0 L -3.7 0" transform="translate(807.888 372.336)" style="stroke: #000000; stroke-width: 0.5"/>
</g>
</g>
<g id="text_121">
<text style="font-size: 8px; font-family: 'DejaVu Sans', 'Liberation Sans', sans-serif; text-anchor: end" x="586.016" y="374.5435" transform="rotate(-0 586.016 374.5435) translate(586.016 374.5435) scale(1 1.060) translate(-586.016 -374.5435)">0</text>
</g>
</g>
<g id="ytick_48">
<g id="line2d_273">
<path d="M 590.016 345.12 L 807.888 345.12" clip-path="url(#p28abb10b20)" style="fill: none; stroke-dasharray: 1,3; stroke-dashoffset: 0; stroke: #000000; stroke-width: 0.5"/>
</g>
<g id="line2d_274">
<g>
<path d="M 0 0 L 3.7 0" transform="translate(590.016 345.12)" style="stroke: #000000; stroke-width: 0.5"/>
</g>
</g>
<g id="line2d_275">
<g>
<path d="M 0 0 L -3.7 0" transform="translate(807.888 345.12)" style="stroke: #000000; stroke-width: 0.5"/>
</g>
</g>
<g id="text_122">
<text style="font-size: 8px; font-family: 'DejaVu Sans', 'Liberation Sans', sans-serif; text-anchor: end" x="586.016" y="347.3275" transform="rotate(-0 586.016 347.3275) translate(586.016 347.3275) scale(1 1.060) translate(-586.016 -347.3275)">2</text>
</g>
</g>
<g id="ytick_49">
<g id="line2d_276">
<path d="M 590.016 317.904 L 807.888 317.904" clip-path="url(#p28abb10b20)" style="fill: none; stroke-dasharray: 1,3; stroke-dashoffset: 0; stroke: #000000; stroke-width: 0.5"/>
</g>
<g id="line2d_277">
<g>
<path d="M 0 0 L 3.7 0" transform="translate(590.016 317.904)" style="stroke: #000000; stroke-width: 0.5"/>
</g>
</g>
<g id="line2d_278">
<g>
<path d="M 0 0 L -3.7 0" transform="translate(807.888 317.904)" style="stroke: #000000; stroke-width: 0.5"/>
</g>
</g>
<g id="text_123">
<text style="font-size: 8px; font-family: 'DejaVu Sans', 'Liberation Sans', sans-serif; text-anchor: end" x="586.016" y="320.1115" transform="rotate(-0 586.016 320.1115) translate(586.016 320.1115) scale(1 1.060) translate(-586.016 -320.1115)">4</text>
</g>
</g>
<g id="text_124">
<text style="font-size: 8px; font-family: 'DejaVu Sans', 'Liberation Sans', sans-serif; text-anchor: middle" x="561.9885" y="427.728" transform="rotate(-90 561.9885 427.728) translate(561.9885 427.728) scale(1 1.060) translate(-561.9885 -427.728)">V1(km/s)</text>
</g>
</g>
<g id="text_125">
<!-- $\lambda_1/\lambda_3\approx$ 4.47 -->
<g transform="translate(605.463125 524.157734)">
<text>
<tspan x="0" y="-0.40625" style="font-size: 8.8px; font-family: 'Latin Modern Math', 'DejaVu Serif', serif; font-style: italic">λ</tspan>
<tspan x="8.768759" y="-0.40625" style="font-size: 8.8px; font-family: 'Latin Modern Math', 'DejaVu Serif', serif">/</tspan>
<tspan x="13.167197" y="-0.40625" style="font-size: 8.8px; font-family: 'Latin Modern Math', 'DejaVu Serif', serif; font-style: italic">λ</tspan>
<tspan x="5.128647" y="1.0903" style="font-size: 6.16px; font-family: 'Latin Modern Roman', 'DejaVu Serif', serif">1</tspan>
<tspan x="18.295844" y="1.0903" style="font-size: 6.16px; font-family: 'Latin Modern Roman', 'DejaVu Serif', serif">3</tspan>
<tspan x="23.480564" y="-0.40625" style="font-size: 8.8px; font-family: 'Latin Modern Math', 'DejaVu Sans', sans-serif">≈</tspan>
<tspan x="31.859064" y="-0.40625" style="font-size: 8.8px; font-family: 'DejaVu Sans', 'Liberation Sans', sans-serif"> </tspan>
<tspan x="34.640436" y="-0.40625" style="font-size: 8.8px; font-family: 'DejaVu Sans', 'Liberation Sans', sans-serif">4</tspan>
<tspan x="40.207453" y="-0.40625" style="font-size: 8.8px; font-family: 'DejaVu Sans', 'Liberation Sans', sans-serif">.</tspan>
<tspan x="42.988825" y="-0.40625" style="font-size: 8.8px; font-family: 'DejaVu Sans', 'Liberation Sans', sans-serif">4</tspan>
<tspan x="48.555841" y="-0.40625" style="font-size: 8.8px; font-family: 'DejaVu Sans', 'Liberation Sans', sans-serif">7</tspan>
</text>
</g>
</g>
<g id="text_126">
<!-- Hodogram (V3_V1 MVAV$_{remaining}$ frame) -->
<g transform="translate(592.431096 312.904)">
<text>
<tspan x="0" y="-0.640625" style="font-size: 10.9872px; font-family: 'DejaVu Sans', 'Liberation Sans', sans-serif">H</tspan>
<tspan x="8.271484" y="-0.640625" style="font-size: 10.9872px; font-family: 'DejaVu Sans', 'Liberation Sans', sans-serif">o</tspan>
<tspan x="15.001465" y="-0.640625" style="font-size: 10.9872px; font-family: 'DejaVu Sans', 'Liberation Sans', sans-serif">d</tspan>
<tspan x="21.983887" y="-0.640625" style="font-size: 10.9872px; font-family: 'DejaVu Sans', 'Liberation Sans', sans-serif">o</tspan>
<tspan x="28.713867" y="-0.640625" style="font-size: 10.9872px; font-family: 'DejaVu Sans', 'Liberation Sans', sans-serif">g</tspan>
<tspan x="35.696289" y="-0.640625" style="font-size: 10.9872px; font-family: 'DejaVu Sans', 'Liberation Sans', sans-serif">r</tspan>
<tspan x="40.21875" y="-0.640625" style="font-size: 10.9872px; font-family: 'DejaVu Sans', 'Liberation Sans', sans-serif">a</tspan>
<tspan x="46.959473" y="-0.640625" style="font-size: 10.9872px; font-family: 'DejaVu Sans', 'Liberation Sans', sans-serif">m</tspan>
<tspan x="57.674805" y="-0.640625" style="font-size: 10.9872px; font-family: 'DejaVu Sans', 'Liberation Sans', sans-serif"> </tspan>
<tspan x="61.171387" y="-0.640625" style="font-size: 10.9872px; font-family: 'DejaVu Sans', 'Liberation Sans', sans-serif">(</tspan>
<tspan x="65.462891" y="-0.640625" style="font-size: 10.9872px; font-family: 'DejaVu Sans', 'Liberation Sans', sans-serif">V</tspan>
<tspan x="72.987793" y="-0.640625" style="font-size: 10.9872px; font-family: 'DejaVu Sans', 'Liberation Sans', sans-serif">3</tspan>
<tspan x="79.986328" y="-0.640625" style="font-size: 10.9872px; font-family: 'DejaVu Sans', 'Liberation Sans', sans-serif">_</tspan>
<tspan x="85.486328" y="-0.640625" style="font-size: 10.9872px; font-family: 'DejaVu Sans', 'Liberation Sans', sans-serif">V</tspan>
<tspan x="93.01123" y="-0.640625" style="font-size: 10.9872px; font-family: 'DejaVu Sans', 'Liberation Sans', sans-serif">1</tspan>
<tspan x="100.009766" y="-0.640625" style="font-size: 10.9872px; font-family: 'DejaVu Sans', 'Liberation Sans', sans-serif"> </tspan>
<tspan x="103.506348" y="-0.640625" style="font-size: 10.9872px; font-family: 'DejaVu Sans', 'Liberation Sans', sans-serif">M</tspan>
<tspan x="112.99707" y="-0.640625" style="font-size: 10.9872px; font-family: 'DejaVu Sans', 'Liberation Sans', sans-serif">V</tspan>
<tspan x="120.521973" y="-0.640625" style="font-size: 10.9872px; font-family: 'DejaVu Sans', 'Liberation Sans', sans-serif">A</tspan>
<tspan x="128.046875" y="-0.640625" style="font-size: 10.9872px; font-family: 'DejaVu Sans', 'Liberation Sans', sans-serif">V</tspan>
<tspan x="172.805401" y="-0.640625" style="font-size: 10.9872px; font-family: 'DejaVu Sans', 'Liberation Sans', sans-serif"> </tspan>
<tspan x="176.301983" y="-0.640625" style="font-size: 10.9872px; font-family: 'DejaVu Sans', 'Liberation Sans', sans-serif">f</tspan>
<tspan x="180.174542" y="-0.640625" style="font-size: 10.9872px; font-family: 'DejaVu Sans', 'Liberation Sans', sans-serif">r</tspan>
<tspan x="184.697003" y="-0.640625" style="font-size: 10.9872px; font-family: 'DejaVu Sans', 'Liberation Sans', sans-serif">a</tspan>
<tspan x="191.437726" y="-0.640625" style="font-size: 10.9872px; font-family: 'DejaVu Sans', 'Liberation Sans', sans-serif">m</tspan>
<tspan x="202.153058" y="-0.640625" style="font-size: 10.9872px; font-family: 'DejaVu Sans', 'Liberation Sans', sans-serif">e</tspan>
<tspan x="208.920636" y="-0.640625" style="font-size: 10.9872px; font-family: 'DejaVu Sans', 'Liberation Sans', sans-serif">)</tspan>
<tspan x="136.062261" y="1.227886" style="font-size: 7.69104px; font-family: 'Latin Modern Roman', 'DejaVu Serif', serif; font-style: italic">r</tspan>
<tspan x="139.53135" y="1.227886" style="font-size: 7.69104px; font-family: 'Latin Modern Roman', 'DejaVu Serif', serif; font-style: italic">e</tspan>
<tspan x="143.105563" y="1.227886" style="font-size: 7.69104px; font-family: 'Latin Modern Roman', 'DejaVu Serif', serif; font-style: italic">m</tspan>
<tspan x="149.856019" y="1.227886" style="font-size: 7.69104px; font-family: 'Latin Modern Roman', 'DejaVu Serif', serif; font-style: italic">a</tspan>
<tspan x="153.914547" y="1.227886" style="font-size: 7.69104px; font-family: 'Latin Modern Roman', 'DejaVu Serif', serif; font-style: italic">i</tspan>
<tspan x="156.561411" y="1.227886" style="font-size: 7.69104px; font-family: 'Latin Modern Roman', 'DejaVu Serif', serif; font-style: italic">n</tspan>
<tspan x="161.175595" y="1.227886" style="font-size: 7.69104px; font-family: 'Latin Modern Roman', 'DejaVu Serif', serif; font-style: italic">i</tspan>
<tspan x="163.822459" y="1.227886" style="font-size: 7.69104px; font-family: 'Latin Modern Roman', 'DejaVu Serif', serif; font-style: italic">n</tspan>
<tspan x="168.436642" y="1.227886" style="font-size: 7.69104px; font-family: 'Latin Modern Roman', 'DejaVu Serif', serif; font-style: italic">g</tspan>
</text>
</g>
</g>
</g>
<g id="axes_7">
<g id="patch_36">
<path d="M 56.16 732.936 L 807.84 732.936 L 807.84 626.376 L 56.16 626.376 z" style="fill: #ffffff"/>
</g>
<g id="line2d_279">
<path d="M 56.16 731.0712 L 118.8 729.7392 L 181.44 729.2064 L 244.08 729.2064 L 306.72 729.4728 L 369.36 730.272 L 432 730.272 L 494.64 730.272 L 557.28 730.6716 L 619.92 730.6716 L 682.56 730.6716 L 745.2 731.0712 L 807.84 731.4708" clip-path="url(#p589fd2f7f6)" style="fill: none; stroke: #ff0000; stroke-linecap: square"/>
</g>
<g id="line2d_280">
<path d="M 56.16 637.52484 L 118.8 635.31372 L 181.44 636.65904 L 244.08 638.87016 L 306.72 637.7646 L 369.36 639.38964 L 432 640.2288 L 494.64 641.32104 L 557.28 642.13356 L 619.92 641.32104 L 682.56 641.32104 L 745.2 641.32104 L 807.84 642.4266" clip-path="url(#p589fd2f7f6)" style="fill: none; stroke: #008000; stroke-linecap: square"/>
</g>
<g id="line2d_281">
<path d="M 56.16 646.79556 L 118.8 645.45024 L 181.44 643.23912 L 244.08 640.78824 L 306.72 640.78824 L 369.36 640.78824 L 432 639.9624 L 494.64 639.14988 L 557.28 638.87016 L 619.92 639.14988 L 682.56 639.4296 L 745.2 639.696 L 807.84 640.2288" clip-path="url(#p589fd2f7f6)" style="fill: none; stroke: #0000ff; stroke-linecap: square"/>
</g>
<g id="line2d_282">
<path d="M 56.16 666.336 L 807.84 666.336" clip-path="url(#p589fd2f7f6)" style="fill: none; stroke-dasharray: 6,6; stroke-dashoffset: 0; stroke: #000000; stroke-width: 0.6"/>
</g>
<g id="patch_37">
<path d="M 56.16 732.936 L 56.16 626.376" style="fill: none; stroke: #000000; stroke-linejoin: miter; stroke-linecap: square"/>
</g>
<g id="patch_38">
<path d="M 807.84 732.936 L 807.84 626.376" style="fill: none; stroke: #000000; stroke-linejoin: miter; stroke-linecap: square"/>
</g>
<g id="patch_39">
<path d="M 56.16 732.936 L 807.84 732.936" style="fill: none; stroke: #000000; stroke-linejoin: miter; stroke-linecap: square"/>
</g>
<g id="patch_40">
<path d="M 56.16 626.376 L 807.84 626.376" style="fill: none; stroke: #000000; stroke-linejoin: miter; stroke-linecap: square"/>
</g>
<g id="matplotlib.axis_13">
<g id="xtick_49">
<g id="line2d_283">
<g>
<path d="M 0 0 L 0 -3.7" transform="translate(244.08 732.936)" style="stroke: #000000; stroke-width: 0.5"/>
</g>
</g>
<g id="line2d_284">
<g>
<path d="M 0 0 L 0 3.7" transform="translate(244.08 626.376)" style="stroke: #000000; stroke-width: 0.5"/>
</g>
</g>
<g id="text_127">
<text style="font-size: 8px; font-family: 'DejaVu Sans', 'Liberation Sans', sans-serif; text-anchor: middle" x="244.08" y="744.01475" transform="rotate(-0 244.08 744.01475) translate(244.08 744.01475) scale(1 1.060) translate(-244.08 -744.01475)">10/02 23:49:52</text>
</g>
</g>
<g id="xtick_50">
<g id="line2d_285">
<g>
<path d="M 0 0 L 0 -3.7" transform="translate(557.28 732.936)" style="stroke: #000000; stroke-width: 0.5"/>
</g>
</g>
<g id="line2d_286">
<g>
<path d="M 0 0 L 0 3.7" transform="translate(557.28 626.376)" style="stroke: #000000; stroke-width: 0.5"/>
</g>
</g>
<g id="text_128">
<text style="font-size: 8px; font-family: 'DejaVu Sans', 'Liberation Sans', sans-serif; text-anchor: middle" x="557.28" y="744.01475" transform="rotate(-0 557.28 744.01475) translate(557.28 744.01475) scale(1 1.060) translate(-557.28 -744.01475)">10/02 23:49:57</text>
</g>
</g>
</g>
<g id="matplotlib.axis_14">
<g id="ytick_50">
<g id="line2d_287">
<g>
<path d="M 0 0 L 3.7 0" transform="translate(56.16 732.936)" style="stroke: #000000; stroke-width: 0.5"/>
</g>
</g>
<g id="line2d_288">
<g>
<path d="M 0 0 L -3.7 0" transform="translate(807.84 732.936)" style="stroke: #000000; stroke-width: 0.5"/>
</g>
</g>
<g id="text_129">
<text style="font-size: 8px; font-family: 'DejaVu Sans', 'Liberation Sans', sans-serif; text-anchor: end" x="52.16" y="735.1435" transform="rotate(-0 52.16 735.1435) translate(52.16 735.1435) scale(1 1.060) translate(-52.16 -735.1435)">−50</text>
</g>
</g>
<g id="ytick_51">
<g id="line2d_289">
<g>
<path d="M 0 0 L 3.7 0" transform="translate(56.16 719.616)" style="stroke: #000000; stroke-width: 0.5"/>
</g>
</g>
<g id="line2d_290">
<g>
<path d="M 0 0 L -3.7 0" transform="translate(807.84 719.616)" style="stroke: #000000; stroke-width: 0.5"/>
</g>
</g>
<g id="text_130">
<text style="font-size: 8px; font-family: 'DejaVu Sans', 'Liberation Sans', sans-serif; text-anchor: end" x="52.16" y="721.8235" transform="rotate(-0 52.16 721.8235) translate(52.16 721.8235) scale(1 1.060) translate(-52.16 -721.8235)">−40</text>
</g>
</g>
<g id="ytick_52">
<g id="line2d_291">
<g>
<path d="M 0 0 L 3.7 0" transform="translate(56.16 706.296)" style="stroke: #000000; stroke-width: 0.5"/>
</g>
</g>
<g id="line2d_292">
<g>
<path d="M 0 0 L -3.7 0" transform="translate(807.84 706.296)" style="stroke: #000000; stroke-width: 0.5"/>
</g>
</g>
<g id="text_131">
<text style="font-size: 8px; font-family: 'DejaVu Sans', 'Liberation Sans', sans-serif; text-anchor: end" x="52.16" y="708.5035" transform="rotate(-0 52.16 708.5035) translate(52.16 708.5035) scale(1 1.060) translate(-52.16 -708.5035)">−30</text>
</g>
</g>
<g id="ytick_53">
<g id="line2d_293">
<g>
<path d="M 0 0 L 3.7 0" transform="translate(56.16 692.976)" style="stroke: #000000; stroke-width: 0.5"/>
</g>
</g>
<g id="line2d_294">
<g>
<path d="M 0 0 L -3.7 0" transform="translate(807.84 692.976)" style="stroke: #000000; stroke-width: 0.5"/>
</g>
</g>
<g id="text_132">
<text style="font-size: 8px; font-family: 'DejaVu Sans', 'Liberation Sans', sans-serif; text-anchor: end" x="52.16" y="695.1835" transform="rotate(-0 52.16 695.1835) translate(52.16 695.1835) scale(1 1.060) translate(-52.16 -695.1835)">−20</text>
</g>
</g>
<g id="ytick_54">
<g id="line2d_295">
<g>
<path d="M 0 0 L 3.7 0" transform="translate(56.16 679.656)" style="stroke: #000000; stroke-width: 0.5"/>
</g>
</g>
<g id="line2d_296">
<g>
<path d="M 0 0 L -3.7 0" transform="translate(807.84 679.656)" style="stroke: #000000; stroke-width: 0.5"/>
</g>
</g>
<g id="text_133">
<text style="font-size: 8px; font-family: 'DejaVu Sans', 'Liberation Sans', sans-serif; text-anchor: end" x="52.16" y="681.8635" transform="rotate(-0 52.16 681.8635) translate(52.16 681.8635) scale(1 1.060) translate(-52.16 -681.8635)">−10</text>
</g>
</g>
<g id="ytick_55">
<g id="line2d_297">
<g>
<path d="M 0 0 L 3.7 0" transform="translate(56.16 666.336)" style="stroke: #000000; stroke-width: 0.5"/>
</g>
</g>
<g id="line2d_298">
<g>
<path d="M 0 0 L -3.7 0" transform="translate(807.84 666.336)" style="stroke: #000000; stroke-width: 0.5"/>
</g>
</g>
<g id="text_134">
<text style="font-size: 8px; font-family: 'DejaVu Sans', 'Liberation Sans', sans-serif; text-anchor: end" x="52.16" y="668.5435" transform="rotate(-0 52.16 668.5435) translate(52.16 668.5435) scale(1 1.060) translate(-52.16 -668.5435)">0</text>
</g>
</g>
<g id="ytick_56">
<g id="line2d_299">
<g>
<path d="M 0 0 L 3.7 0" transform="translate(56.16 653.016)" style="stroke: #000000; stroke-width: 0.5"/>
</g>
</g>
<g id="line2d_300">
<g>
<path d="M 0 0 L -3.7 0" transform="translate(807.84 653.016)" style="stroke: #000000; stroke-width: 0.5"/>
</g>
</g>
<g id="text_135">
<text style="font-size: 8px; font-family: 'DejaVu Sans', 'Liberation Sans', sans-serif; text-anchor: end" x="52.16" y="655.2235" transform="rotate(-0 52.16 655.2235) translate(52.16 655.2235) scale(1 1.060) translate(-52.16 -655.2235)">10</text>
</g>
</g>
<g id="ytick_57">
<g id="line2d_301">
<g>
<path d="M 0 0 L 3.7 0" transform="translate(56.16 639.696)" style="stroke: #000000; stroke-width: 0.5"/>
</g>
</g>
<g id="line2d_302">
<g>
<path d="M 0 0 L -3.7 0" transform="translate(807.84 639.696)" style="stroke: #000000; stroke-width: 0.5"/>
</g>
</g>
<g id="text_136">
<text style="font-size: 8px; font-family: 'DejaVu Sans', 'Liberation Sans', sans-serif; text-anchor: end" x="52.16" y="641.9035" transform="rotate(-0 52.16 641.9035) translate(52.16 641.9035) scale(1 1.060) translate(-52.16 -641.9035)">20</text>
</g>
</g>
<g id="ytick_58">
<g id="line2d_303">
<g>
<path d="M 0 0 L 3.7 0" transform="translate(56.16 626.376)" style="stroke: #000000; stroke-width: 0.5"/>
</g>
</g>
<g id="line2d_304">
<g>
<path d="M 0 0 L -3.7 0" transform="translate(807.84 626.376)" style="stroke: #000000; stroke-width: 0.5"/>
</g>
</g>
<g id="text_137">
<text style="font-size: 8px; font-family: 'DejaVu Sans', 'Liberation Sans', sans-serif; text-anchor: end" x="52.16" y="628.5835" transform="rotate(-0 52.16 628.5835) translate(52.16 628.5835) scale(1 1.060) translate(-52.16 -628.5835)">30</text>
</g>
</g>
<g id="text_138">
<text style="font-size: 8px; font-family: 'DejaVu Sans', 'Liberation Sans', sans-serif; text-anchor: middle" x="28.1325" y="680.616" transform="rotate(-90 28.1325 680.616) translate(28.1325 680.616) scale(1 1.060) translate(-28.1325 -680.616)">B(nT)</text>
</g>
</g>
<g id="text_139">
<text style="font-size: 11.2px; font-family: 'DejaVu Sans', 'Liberation Sans', sans-serif; text-anchor: middle" x="432" y="621.376" transform="rotate(-0 432 621.376)">Magnetic Field (RTN Frame)</text>
</g>
<g id="legend_4">
<g id="patch_41">
<path d="M 769.8735 664.248413 L 804.564 664.248413 L 804.564 629.652 L 769.8735 629.652 z" style="fill: #ffffff; stroke: #000000; stroke-linejoin: miter"/>
</g>
<g id="line2d_305">
<path d="M 775.0215 635.656781 L 784.7715 635.656781" style="fill: none; stroke: #ff0000; stroke-linecap: square"/>
</g>
<g id="text_140">
<text style="font-size: 7.8px; font-family: 'DejaVu Sans', 'Liberation Sans', sans-serif; font-stretch: condensed; text-anchor: start" x="792.4935" y="638.386781" transform="rotate(-0 792.4935 638.386781)">Br</text>
</g>
<g id="line2d_306">
<path d="M 775.0215 646.372519 L 784.7715 646.372519" style="fill: none; stroke: #008000; stroke-linecap: square"/>
</g>
<g id="text_141">
<text style="font-size: 7.8px; font-family: 'DejaVu Sans', 'Liberation Sans', sans-serif; font-stretch: condensed; text-anchor: start" x="792.4935" y="649.102519" transform="rotate(-0 792.4935 649.102519)">Bt</text>
</g>
<g id="line2d_307">
<path d="M 775.0215 657.088256 L 784.7715 657.088256" style="fill: none; stroke: #0000ff; stroke-linecap: square"/>
</g>
<g id="text_142">
<text style="font-size: 7.8px; font-family: 'DejaVu Sans', 'Liberation Sans', sans-serif; font-stretch: condensed; text-anchor: start" x="792.4935" y="659.818256" transform="rotate(-0 792.4935 659.818256)">Bn</text>
</g>
</g>
</g>
<g id="axes_8">
<g id="patch_42">
<path d="M 56.16 893.136 L 807.84 893.136 L 807.84 786.576 L 56.16 786.576 z" style="fill: #ffffff"/>
</g>
<g id="line2d_308">
<path d="M 56.16 817.4784 L 118.8 819.122469 L 181.44 821.040549 L 244.08 822.958629 L 306.72 822.441051 L 369.36 822.441051 L 432 822.441051 L 494.64 822.684617 L 557.28 822.958629 L 619.92 822.958629 L 682.56 822.684617 L 745.2 822.151817 L 807.84 821.619017" clip-path="url(#pb0c8ba24f0)" style="fill: none; stroke: #ff0000; stroke-linecap: square"/>
</g>
<g id="line2d_309">
<path d="M 56.16 881.794971 L 118.8 884.002286 L 181.44 882.37344 L 244.08 879.344091 L 306.72 880.45536 L 369.36 878.00448 L 432 877.715246 L 494.64 876.0864 L 557.28 874.975131 L 619.92 875.523154 L 682.56 875.523154 L 745.2 875.523154 L 807.84 874.442331" clip-path="url(#pb0c8ba24f0)" style="fill: none; stroke: #008000; stroke-linecap: square"/>
</g>
<g id="line2d_310">
<path d="M 56.16 819.700937 L 118.8 818.300434 L 181.44 816.656366 L 244.08 814.738286 L 306.72 814.49472 L 369.36 815.042743 L 432 814.738286 L 494.64 814.220709 L 557.28 813.672686 L 619.92 813.977143 L 682.56 814.220709 L 745.2 814.738286 L 807.84 815.042743" clip-path="url(#pb0c8ba24f0)" style="fill: none; stroke: #0000ff; stroke-linecap: square"/>
</g>
<g id="line2d_311">
<path d="M 56.16 794.293989 L 118.8 794.293989 L 181.44 794.826789 L 244.08 794.568 L 306.72 793.730743 L 369.36 794.568 L 432 794.0352 L 494.64 793.730743 L 557.28 793.730743 L 619.92 793.487177 L 682.56 793.487177 L 745.2 793.487177 L 807.84 793.487177" clip-path="url(#pb0c8ba24f0)" style="fill: none; stroke: #000000; stroke-linecap: square"/>
</g>
<g id="line2d_312">
<path d="M 56.16 877.913143 L 807.84 877.913143" clip-path="url(#pb0c8ba24f0)" style="fill: none; stroke-dasharray: 6,6; stroke-dashoffset: 0; stroke: #000000; stroke-width: 0.6"/>
</g>
<g id="patch_43">
<path d="M 56.16 893.136 L 56.16 786.576" style="fill: none; stroke: #000000; stroke-linejoin: miter; stroke-linecap: square"/>
</g>
<g id="patch_44">
<path d="M 807.84 893.136 L 807.84 786.576" style="fill: none; stroke: #000000; stroke-linejoin: miter; stroke-linecap: square"/>
</g>
<g id="patch_45">
<path d="M 56.16 893.136 L 807.84 893.136" style="fill: none; stroke: #000000; stroke-linejoin: miter; stroke-linecap: square"/>
</g>
<g id="patch_46">
<path d="M 56.16 786.576 L 807.84 786.576" style="fill: none; stroke: #000000; stroke-linejoin: miter; stroke-linecap: square"/>
</g>
<g id="matplotlib.axis_15">
<g id="xtick_51">
<g id="line2d_313">
<g>
<path d="M 0 0 L 0 -3.7" transform="translate(244.08 893.136)" style="stroke: #000000; stroke-width: 0.5"/>
</g>
</g>
<g id="line2d_314">
<g>
<path d="M 0 0 L 0 3.7" transform="translate(244.08 786.576)" style="stroke: #000000; stroke-width: 0.5"/>
</g>
</g>
<g id="text_143">
<text style="font-size: 8px; font-family: 'DejaVu Sans', 'Liberation Sans', sans-serif; text-anchor: middle" x="244.08" y="904.21475" transform="rotate(-0 244.08 904.21475) translate(244.08 904.21475) scale(1 1.060) translate(-244.08 -904.21475)">10/02 23:49:52</text>
</g>
</g>
<g id="xtick_52">
<g id="line2d_315">
<g>
<path d="M 0 0 L 0 -3.7" transform="translate(557.28 893.136)" style="stroke: #000000; stroke-width: 0.5"/>
</g>
</g>
<g id="line2d_316">
<g>
<path d="M 0 0 L 0 3.7" transform="translate(557.28 786.576)" style="stroke: #000000; stroke-width: 0.5"/>
</g>
</g>
<g id="text_144">
<text style="font-size: 8px; font-family: 'DejaVu Sans', 'Liberation Sans', sans-serif; text-anchor: middle" x="557.28" y="904.21475" transform="rotate(-0 557.28 904.21475) translate(557.28 904.21475) scale(1 1.060) translate(-557.28 -904.21475)">10/02 23:49:57</text>
</g>
</g>
</g>
<g id="matplotlib.axis_16">
<g id="ytick_59">
<g id="line2d_317">
<g>
<path d="M 0 0 L 3.7 0" transform="translate(56.16 893.136)" style="stroke: #000000; stroke-width: 0.5"/>
</g>
</g>
<g id="line2d_318">
<g>
<path d="M 0 0 L -3.7 0" transform="translate(807.84 893.136)" style="stroke: #000000; stroke-width: 0.5"/>
</g>
</g>
<g id="text_145">
<text style="font-size: 8px; font-family: 'DejaVu Sans', 'Liberation Sans', sans-serif; text-anchor: end" x="52.16" y="895.3435" transform="rotate(-0 52.16 895.3435) translate(52.16 895.3435) scale(1 1.060) translate(-52.16 -895.3435)">−10</text>
</g>
</g>
<g id="ytick_60">
<g id="line2d_319">
<g>
<path d="M 0 0 L 3.7 0" transform="translate(56.16 877.913143)" style="stroke: #000000; stroke-width: 0.5"/>
</g>
</g>
<g id="line2d_320">
<g>
<path d="M 0 0 L -3.7 0" transform="translate(807.84 877.913143)" style="stroke: #000000; stroke-width: 0.5"/>
</g>
</g>
<g id="text_146">
<text style="font-size: 8px; font-family: 'DejaVu Sans', 'Liberation Sans', sans-serif; text-anchor: end" x="52.16" y="880.120643" transform="rotate(-0 52.16 880.120643) translate(52.16 880.120643) scale(1 1.060) translate(-52.16 -880.120643)">0</text>
</g>
</g>
<g id="ytick_61">
<g id="line2d_321">
<g>
<path d="M 0 0 L 3.7 0" transform="translate(56.16 862.690286)" style="stroke: #000000; stroke-width: 0.5"/>
</g>
</g>
<g id="line2d_322">
<g>
<path d="M 0 0 L -3.7 0" transform="translate(807.84 862.690286)" style="stroke: #000000; stroke-width: 0.5"/>
</g>
</g>
<g id="text_147">
<text style="font-size: 8px; font-family: 'DejaVu Sans', 'Liberation Sans', sans-serif; text-anchor: end" x="52.16" y="864.897786" transform="rotate(-0 52.16 864.897786) translate(52.16 864.897786) scale(1 1.060) translate(-52.16 -864.897786)">10</text>
</g>
</g>
<g id="ytick_62">
<g id="line2d_323">
<g>
<path d="M 0 0 L 3.7 0" transform="translate(56.16 847.467429)" style="stroke: #000000; stroke-width: 0.5"/>
</g>
</g>
<g id="line2d_324">
<g>
<path d="M 0 0 L -3.7 0" transform="translate(807.84 847.467429)" style="stroke: #000000; stroke-width: 0.5"/>
</g>
</g>
<g id="text_148">
<text style="font-size: 8px; font-family: 'DejaVu Sans', 'Liberation Sans', sans-serif; text-anchor: end" x="52.16" y="849.674929" transform="rotate(-0 52.16 849.674929) translate(52.16 849.674929) scale(1 1.060) translate(-52.16 -849.674929)">20</text>
</g>
</g>
<g id="ytick_63">
<g id="line2d_325">
<g>
<path d="M 0 0 L 3.7 0" transform="translate(56.16 832.244571)" style="stroke: #000000; stroke-width: 0.5"/>
</g>
</g>
<g id="line2d_326">
<g>
<path d="M 0 0 L -3.7 0" transform="translate(807.84 832.244571)" style="stroke: #000000; stroke-width: 0.5"/>
</g>
</g>
<g id="text_149">
<text style="font-size: 8px; font-family: 'DejaVu Sans', 'Liberation Sans', sans-serif; text-anchor: end" x="52.16" y="834.452071" transform="rotate(-0 52.16 834.452071) translate(52.16 834.452071) scale(1 1.060) translate(-52.16 -834.452071)">30</text>
</g>
</g>
<g id="ytick_64">
<g id="line2d_327">
<g>
<path d="M 0 0 L 3.7 0" transform="translate(56.16 817.021714)" style="stroke: #000000; stroke-width: 0.5"/>
</g>
</g>
<g id="line2d_328">
<g>
<path d="M 0 0 L -3.7 0" transform="translate(807.84 817.021714)" style="stroke: #000000; stroke-width: 0.5"/>
</g>
</g>
<g id="text_150">
<text style="font-size: 8px; font-family: 'DejaVu Sans', 'Liberation Sans', sans-serif; text-anchor: end" x="52.16" y="819.229214" transform="rotate(-0 52.16 819.229214) translate(52.16 819.229214) scale(1 1.060) translate(-52.16 -819.229214)">40</text>
</g>
</g>
<g id="ytick_65">
<g id="line2d_329">
<g>
<path d="M 0 0 L 3.7 0" transform="translate(56.16 801.798857)" style="stroke: #000000; stroke-width: 0.5"/>
</g>
</g>
<g id="line2d_330">
<g>
<path d="M 0 0 L -3.7 0" transform="translate(807.84 801.798857)" style="stroke: #000000; stroke-width: 0.5"/>
</g>
</g>
<g id="text_151">
<text style="font-size: 8px; font-family: 'DejaVu Sans', 'Liberation Sans', sans-serif; text-anchor: end" x="52.16" y="804.006357" transform="rotate(-0 52.16 804.006357) translate(52.16 804.006357) scale(1 1.060) translate(-52.16 -804.006357)">50</text>
</g>
</g>
<g id="ytick_66">
<g id="line2d_331">
<g>
<path d="M 0 0 L 3.7 0" transform="translate(56.16 786.576)" style="stroke: #000000; stroke-width: 0.5"/>
</g>
</g>
<g id="line2d_332">
<g>
<path d="M 0 0 L -3.7 0" transform="translate(807.84 786.576)" style="stroke: #000000; stroke-width: 0.5"/>
</g>
</g>
<g id="text_152">
<text style="font-size: 8px; font-family: 'DejaVu Sans', 'Liberation Sans', sans-serif; text-anchor: end" x="52.16" y="788.7835" transform="rotate(-0 52.16 788.7835) translate(52.16 788.7835) scale(1 1.060) translate(-52.16 -788.7835)">60</text>
</g>
</g>
<g id="text_153">
<text style="font-size: 8px; font-family: 'DejaVu Sans', 'Liberation Sans', sans-serif; text-anchor: middle" x="28.1325" y="840.816" transform="rotate(-90 28.1325 840.816) translate(28.1325 840.816) scale(1 1.060) translate(-28.1325 -840.816)">B(nT)</text>
</g>
</g>
<g id="text_154">
<text style="font-size: 11.2px; font-family: 'DejaVu Sans', 'Liberation Sans', sans-serif; text-anchor: middle" x="432" y="781.576" transform="rotate(-0 432 781.576)">Magnetic Field (Flux Rope Frame)</text>
</g>
<g id="legend_5">
<g id="patch_47">
<path d="M 768.244031 835.415212 L 804.564 835.415212 L 804.564 789.852 L 768.244031 789.852 z" style="fill: #ffffff; stroke: #000000; stroke-linejoin: miter"/>
</g>
<g id="line2d_333">
<path d="M 773.392031 795.856781 L 783.142031 795.856781" style="fill: none; stroke: #ff0000; stroke-linecap: square"/>
</g>
<g id="text_155">
<text style="font-size: 7.8px; font-family: 'DejaVu Sans', 'Liberation Sans', sans-serif; font-stretch: condensed; text-anchor: start" x="790.864031" y="798.586781" transform="rotate(-0 790.864031 798.586781)">Bx'</text>
</g>
<g id="line2d_334">
<path d="M 773.392031 806.572519 L 783.142031 806.572519" style="fill: none; stroke: #008000; stroke-linecap: square"/>
</g>
<g id="text_156">
<text style="font-size: 7.8px; font-family: 'DejaVu Sans', 'Liberation Sans', sans-serif; font-stretch: condensed; text-anchor: start" x="790.864031" y="809.302519" transform="rotate(-0 790.864031 809.302519)">By'</text>
</g>
<g id="line2d_335">
<path d="M 773.392031 817.288256 L 783.142031 817.288256" style="fill: none; stroke: #0000ff; stroke-linecap: square"/>
</g>
<g id="text_157">
<text style="font-size: 7.8px; font-family: 'DejaVu Sans', 'Liberation Sans', sans-serif; font-stretch: condensed; text-anchor: start" x="790.864031" y="820.018256" transform="rotate(-0 790.864031 820.018256)">Bz'</text>
</g>
<g id="line2d_336">
<path d="M 773.392031 828.038119 L 783.142031 828.038119" style="fill: none; stroke: #000000; stroke-linecap: square"/>
</g>
<g id="text_158">
<text style="font-size: 7.8px; font-family: 'DejaVu Sans', 'Liberation Sans', sans-serif; font-stretch: condensed; text-anchor: start" x="790.864031" y="830.768119" transform="rotate(-0 790.864031 830.768119)">|B|</text>
</g>
</g>
</g>
<g id="axes_9">
<g id="patch_48">
<path d="M 56.16 1053.096 L 807.84 1053.096 L 807.84 946.536 L 56.16 946.536 z" style="fill: #ffffff"/>
</g>
<g id="line2d_337">
<path d="M 56.16 961.88064 L 118.8 960.784594 L 181.44 960.845486 L 244.08 961.24128 L 306.72 961.758857 L 369.36 960.845486 L 432 962.124206 L 494.64 961.606629 L 557.28 962.398217 L 619.92 961.606629 L 682.56 961.88064 L 745.2 962.702674 L 807.84 962.702674" clip-path="url(#p43089eb495)" style="fill: none; stroke: #ff0000; stroke-linecap: square"/>
</g>
<g id="line2d_338">
<path d="M 56.16 1042.927131 L 118.8 1041.58752 L 181.44 1041.861531 L 244.08 1043.231589 L 306.72 1040.491474 L 369.36 1043.779611 L 432 1044.632091 L 494.64 1042.714011 L 557.28 1041.861531 L 619.92 1041.313509 L 682.56 1041.861531 L 745.2 1043.5056 L 807.84 1042.927131" clip-path="url(#p43089eb495)" style="fill: none; stroke: #008000; stroke-linecap: square"/>
</g>
<g id="line2d_339">
<path d="M 56.16 1022.40672 L 118.8 1022.558949 L 181.44 1021.584686 L 244.08 1020.762651 L 306.72 1021.858697 L 369.36 1020.245074 L 432 1021.036663 L 494.64 1021.036663 L 557.28 1020.762651 L 619.92 1020.48864 L 682.56 1021.584686 L 745.2 1021.584686 L 807.84 1021.584686" clip-path="url(#p43089eb495)" style="fill: none; stroke: #0000ff; stroke-linecap: square"/>
</g>
<g id="patch_49">
<path d="M 56.16 1053.096 L 56.16 946.536" style="fill: none; stroke: #000000; stroke-linejoin: miter; stroke-linecap: square"/>
</g>
<g id="patch_50">
<path d="M 807.84 1053.096 L 807.84 946.536" style="fill: none; stroke: #000000; stroke-linejoin: miter; stroke-linecap: square"/>
</g>
<g id="patch_51">
<path d="M 56.16 1053.096 L 807.84 1053.096" style="fill: none; stroke: #000000; stroke-linejoin: miter; stroke-linecap: square"/>
</g>
<g id="patch_52">
<path d="M 56.16 946.536 L 807.84 946.536" style="fill: none; stroke: #000000; stroke-linejoin: miter; stroke-linecap: square"/>
</g>
<g id="matplotlib.axis_17">
<g id="xtick_53">
<g id="line2d_340">
<g>
<path d="M 0 0 L 0 -3.7" transform="translate(244.08 1053.096)" style="stroke: #000000; stroke-width: 0.5"/>
</g>
</g>
<g id="line2d_341">
<g>
<path d="M 0 0 L 0 3.7" transform="translate(244.08 946.536)" style="stroke: #000000; stroke-width: 0.5"/>
</g>
</g>
<g id="text_159">
<text style="font-size: 8px; font-family: 'DejaVu Sans', 'Liberation Sans', sans-serif; text-anchor: middle" x="244.08" y="1064.17475" transform="rotate(-0 244.08 1064.17475) translate(244.08 1064.17475) scale(1 1.060) translate(-244.08 -1064.17475)">10/02 23:49:52</text>
</g>
</g>
<g id="xtick_54">
<g id="line2d_342">
<g>
<path d="M 0 0 L 0 -3.7" transform="translate(557.28 1053.096)" style="stroke: #000000; stroke-width: 0.5"/>
</g>
</g>
<g id="line2d_343">
<g>
<path d="M 0 0 L 0 3.7" transform="translate(557.28 946.536)" style="stroke: #000000; stroke-width: 0.5"/>
</g>
</g>
<g id="text_160">
<text style="font-size: 8px; font-family: 'DejaVu Sans', 'Liberation Sans', sans-serif; text-anchor: middle" x="557.28" y="1064.17475" transform="rotate(-0 557.28 1064.17475) translate(557.28 1064.17475) scale(1 1.060) translate(-557.28 -1064.17475)">10/02 23:49:57</text>
</g>
</g>
</g>
<g id="matplotlib.axis_18">
<g id="ytick_67">
<g id="line2d_344">
<g>
<path d="M 0 0 L 3.7 0" transform="translate(56.16 1053.096)" style="stroke: #000000; stroke-width: 0.5"/>
</g>
</g>
<g id="line2d_345">
<g>
<path d="M 0 0 L -3.7 0" transform="translate(807.84 1053.096)" style="stroke: #000000; stroke-width: 0.5"/>
</g>
</g>
<g id="text_161">
<text style="font-size: 8px; font-family: 'DejaVu Sans', 'Liberation Sans', sans-serif; text-anchor: end" x="52.16" y="1055.3035" transform="rotate(-0 52.16 1055.3035) translate(52.16 1055.3035) scale(1 1.060) translate(-52.16 -1055.3035)">−100</text>
</g>
</g>
<g id="ytick_68">
<g id="line2d_346">
<g>
<path d="M 0 0 L 3.7 0" transform="translate(56.16 1037.873143)" style="stroke: #000000; stroke-width: 0.5"/>
</g>
</g>
<g id="line2d_347">
<g>
<path d="M 0 0 L -3.7 0" transform="translate(807.84 1037.873143)" style="stroke: #000000; stroke-width: 0.5"/>
</g>
</g>
<g id="text_162">
<text style="font-size: 8px; font-family: 'DejaVu Sans', 'Liberation Sans', sans-serif; text-anchor: end" x="52.16" y="1040.080643" transform="rotate(-0 52.16 1040.080643) translate(52.16 1040.080643) scale(1 1.060) translate(-52.16 -1040.080643)">−50</text>
</g>
</g>
<g id="ytick_69">
<g id="line2d_348">
<g>
<path d="M 0 0 L 3.7 0" transform="translate(56.16 1022.650286)" style="stroke: #000000; stroke-width: 0.5"/>
</g>
</g>
<g id="line2d_349">
<g>
<path d="M 0 0 L -3.7 0" transform="translate(807.84 1022.650286)" style="stroke: #000000; stroke-width: 0.5"/>
</g>
</g>
<g id="text_163">
<text style="font-size: 8px; font-family: 'DejaVu Sans', 'Liberation Sans', sans-serif; text-anchor: end" x="52.16" y="1024.857786" transform="rotate(-0 52.16 1024.857786) translate(52.16 1024.857786) scale(1 1.060) translate(-52.16 -1024.857786)">0</text>
</g>
</g>
<g id="ytick_70">
<g id="line2d_350">
<g>
<path d="M 0 0 L 3.7 0" transform="translate(56.16 1007.427429)" style="stroke: #000000; stroke-width: 0.5"/>
</g>
</g>
<g id="line2d_351">
<g>
<path d="M 0 0 L -3.7 0" transform="translate(807.84 1007.427429)" style="stroke: #000000; stroke-width: 0.5"/>
</g>
</g>
<g id="text_164">
<text style="font-size: 8px; font-family: 'DejaVu Sans', 'Liberation Sans', sans-serif; text-anchor: end" x="52.16" y="1009.634929" transform="rotate(-0 52.16 1009.634929) translate(52.16 1009.634929) scale(1 1.060) translate(-52.16 -1009.634929)">50</text>
</g>
</g>
<g id="ytick_71">
<g id="line2d_352">
<g>
<path d="M 0 0 L 3.7 0" transform="translate(56.16 992.204571)" style="stroke: #000000; stroke-width: 0.5"/>
</g>
</g>
<g id="line2d_353">
<g>
<path d="M 0 0 L -3.7 0" transform="translate(807.84 992.204571)" style="stroke: #000000; stroke-width: 0.5"/>
</g>
</g>
<g id="text_165">
<text style="font-size: 8px; font-family: 'DejaVu Sans', 'Liberation Sans', sans-serif; text-anchor: end" x="52.16" y="994.412071" transform="rotate(-0 52.16 994.412071) translate(52.16 994.412071) scale(1 1.060) translate(-52.16 -994.412071)">100</text>
</g>
</g>
<g id="ytick_72">
<g id="line2d_354">
<g>
<path d="M 0 0 L 3.7 0" transform="translate(56.16 976.981714)" style="stroke: #000000; stroke-width: 0.5"/>
</g>
</g>
<g id="line2d_355">
<g>
<path d="M 0 0 L -3.7 0" transform="translate(807.84 976.981714)" style="stroke: #000000; stroke-width: 0.5"/>
</g>
</g>
<g id="text_166">
<text style="font-size: 8px; font-family: 'DejaVu Sans', 'Liberation Sans', sans-serif; text-anchor: end" x="52.16" y="979.189214" transform="rotate(-0 52.16 979.189214) translate(52.16 979.189214) scale(1 1.060) translate(-52.16 -979.189214)">150</text>
</g>
</g>
<g id="ytick_73">
<g id="line2d_356">
<g>
<path d="M 0 0 L 3.7 0" transform="translate(56.16 961.758857)" style="stroke: #000000; stroke-width: 0.5"/>
</g>
</g>
<g id="line2d_357">
<g>
<path d="M 0 0 L -3.7 0" transform="translate(807.84 961.758857)" style="stroke: #000000; stroke-width: 0.5"/>
</g>
</g>
<g id="text_167">
<text style="font-size: 8px; font-family: 'DejaVu Sans', 'Liberation Sans', sans-serif; text-anchor: end" x="52.16" y="963.966357" transform="rotate(-0 52.16 963.966357) translate(52.16 963.966357) scale(1 1.060) translate(-52.16 -963.966357)">200</text>
</g>
</g>
<g id="ytick_74">
<g id="line2d_358">
<g>
<path d="M 0 0 L 3.7 0" transform="translate(56.16 946.536)" style="stroke: #000000; stroke-width: 0.5"/>
</g>
</g>
<g id="line2d_359">
<g>
<path d="M 0 0 L -3.7 0" transform="translate(807.84 946.536)" style="stroke: #000000; stroke-width: 0.5"/>
</g>
</g>
<g id="text_168">
<text style="font-size: 8px; font-family: 'DejaVu Sans', 'Liberation Sans', sans-serif; text-anchor: end" x="52.16" y="948.7435" transform="rotate(-0 52.16 948.7435) translate(52.16 948.7435) scale(1 1.060) translate(-52.16 -948.7435)">250</text>
</g>
</g>
<g id="text_169">
<text style="font-size: 8px; font-family: 'DejaVu Sans', 'Liberation Sans', sans-serif; text-anchor: middle" x="23.0425" y="1000.776" transform="rotate(-90 23.0425 1000.776) translate(23.0425 1000.776) scale(1 1.060) translate(-23.0425 -1000.776)">Vsw(km/s)</text>
</g>
</g>
<g id="text_170">
<text style="font-size: 11.2px; font-family: 'DejaVu Sans', 'Liberation Sans', sans-serif; text-anchor: middle" x="432" y="941.536" transform="rotate(-0 432 941.536)">Solar Wind Velocity (RTN Frame)</text>
</g>
<g id="legend_6">
<g id="patch_53">
<path d="M 769.888125 984.408412 L 804.564 984.408412 L 804.564 949.812 L 769.888125 949.812 z" style="fill: #ffffff; stroke: #000000; stroke-linejoin: miter"/>
</g>
<g id="line2d_360">
<path d="M 775.036125 955.816781 L 784.786125 955.816781" style="fill: none; stroke: #ff0000; stroke-linecap: square"/>
</g>
<g id="text_171">
<text style="font-size: 7.8px; font-family: 'DejaVu Sans', 'Liberation Sans', sans-serif; font-stretch: condensed; text-anchor: start" x="792.508125" y="958.546781" transform="rotate(-0 792.508125 958.546781)">Vr</text>
</g>
<g id="line2d_361">
<path d="M 775.036125 966.532519 L 784.786125 966.532519" style="fill: none; stroke: #008000; stroke-linecap: square"/>
</g>
<g id="text_172">
<text style="font-size: 7.8px; font-family: 'DejaVu Sans', 'Liberation Sans', sans-serif; font-stretch: condensed; text-anchor: start" x="792.508125" y="969.262519" transform="rotate(-0 792.508125 969.262519)">Vt</text>
</g>
<g id="line2d_362">
<path d="M 775.036125 977.248256 L 784.786125 977.248256" style="fill: none; stroke: #0000ff; stroke-linecap: square"/>
</g>
<g id="text_173">
<text style="font-size: 7.8px; font-family: 'DejaVu Sans', 'Liberation Sans', sans-serif; font-stretch: condensed; text-anchor: start" x="792.508125" y="979.978256" transform="rotate(-0 792.508125 979.978256)">Vn</text>
</g>
</g>
</g>
<g id="axes_10">
<g id="patch_54">
<path d="M 56.16 1213.152 L 807.84 1213.152 L 807.84 1106.592 L 56.16 1106.592 z" style="fill: #ffffff"/>
</g>
<g id="line2d_363">
<path d="M 56.16 1140.79776 L 118.8 1110.96096 L 181.44 1112.02656 L 244.08 1150.38816 L 306.72 1164.1344 L 369.36 1121.93664 L 432 1186.29888 L 494.64 1137.4944 L 557.28 1190.13504 L 619.92 1170.95424 L 682.56 1184.3808 L 745.2 1206.01248 L 807.84 1196.95488" clip-path="url(#p804566e656)" style="fill: none; stroke: #0000ff; stroke-linecap: square"/>
</g>
<g id="patch_55">
<path d="M 56.16 1213.152 L 56.16 1106.592" style="fill: none; stroke: #000000; stroke-linejoin: miter; stroke-linecap: square"/>
</g>
<g id="patch_56">
<path d="M 807.84 1213.152 L 807.84 1106.592" style="fill: none; stroke: #000000; stroke-linejoin: miter; stroke-linecap: square"/>
</g>
<g id="patch_57">
<path d="M 56.16 1213.152 L 807.84 1213.152" style="fill: none; stroke: #000000; stroke-linejoin: miter; stroke-linecap: square"/>
</g>
<g id="patch_58">
<path d="M 56.16 1106.592 L 807.84 1106.592" style="fill: none; stroke: #000000; stroke-linejoin: miter; stroke-linecap: square"/>
</g>
<g id="matplotlib.axis_19">
<g id="xtick_55">
<g id="line2d_364">
<g>
<path d="M 0 0 L 0 -3.7" transform="translate(244.08 1213.152)" style="stroke: #000000; stroke-width: 0.5"/>
</g>
</g>
<g id="line2d_365">
<g>
<path d="M 0 0 L 0 3.7" transform="translate(244.08 1106.592)" style="stroke: #000000; stroke-width: 0.5"/>
</g>
</g>
<g id="text_174">
<text style="font-size: 8px; font-family: 'DejaVu Sans', 'Liberation Sans', sans-serif; text-anchor: middle" x="244.08" y="1224.23075" transform="rotate(-0 244.08 1224.23075) translate(244.08 1224.23075) scale(1 1.060) translate(-244.08 -1224.23075)">10/02 23:49:52</text>
</g>
</g>
<g id="xtick_56">
<g id="line2d_366">
<g>
<path d="M 0 0 L 0 -3.7" transform="translate(557.28 1213.152)" style="stroke: #000000; stroke-width: 0.5"/>
</g>
</g>
<g id="line2d_367">
<g>
<path d="M 0 0 L 0 3.7" transform="translate(557.28 1106.592)" style="stroke: #000000; stroke-width: 0.5"/>
</g>
</g>
<g id="text_175">
<text style="font-size: 8px; font-family: 'DejaVu Sans', 'Liberation Sans', sans-serif; text-anchor: middle" x="557.28" y="1224.23075" transform="rotate(-0 557.28 1224.23075) translate(557.28 1224.23075) scale(1 1.060) translate(-557.28 -1224.23075)">10/02 23:49:57</text>
</g>
</g>
</g>
<g id="matplotlib.axis_20">
<g id="ytick_75">
<g id="line2d_368">
<g>
<path d="M 0 0 L 3.7 0" transform="translate(56.16 1213.152)" style="stroke: #000000; stroke-width: 0.5"/>
</g>
</g>
<g id="line2d_369">
<g>
<path d="M 0 0 L -3.7 0" transform="translate(807.84 1213.152)" style="stroke: #000000; stroke-width: 0.5"/>
</g>
</g>
<g id="text_176">
<text style="font-size: 8px; font-family: 'DejaVu Sans', 'Liberation Sans', sans-serif; text-anchor: end" x="52.16" y="1215.3595" transform="rotate(-0 52.16 1215.3595) translate(52.16 1215.3595) scale(1 1.060) translate(-52.16 -1215.3595)">0.16</text>
</g>
</g>
<g id="ytick_76">
<g id="line2d_370">
<g>
<path d="M 0 0 L 3.7 0" transform="translate(56.16 1191.84)" style="stroke: #000000; stroke-width: 0.5"/>
</g>
</g>
<g id="line2d_371">
<g>
<path d="M 0 0 L -3.7 0" transform="translate(807.84 1191.84)" style="stroke: #000000; stroke-width: 0.5"/>
</g>
</g>
<g id="text_177">
<text style="font-size: 8px; font-family: 'DejaVu Sans', 'Liberation Sans', sans-serif; text-anchor: end" x="52.16" y="1194.0475" transform="rotate(-0 52.16 1194.0475) translate(52.16 1194.0475) scale(1 1.060) translate(-52.16 -1194.0475)">0.18</text>
</g>
</g>
<g id="ytick_77">
<g id="line2d_372">
<g>
<path d="M 0 0 L 3.7 0" transform="translate(56.16 1170.528)" style="stroke: #000000; stroke-width: 0.5"/>
</g>
</g>
<g id="line2d_373">
<g>
<path d="M 0 0 L -3.7 0" transform="translate(807.84 1170.528)" style="stroke: #000000; stroke-width: 0.5"/>
</g>
</g>
<g id="text_178">
<text style="font-size: 8px; font-family: 'DejaVu Sans', 'Liberation Sans', sans-serif; text-anchor: end" x="52.16" y="1172.7355" transform="rotate(-0 52.16 1172.7355) translate(52.16 1172.7355) scale(1 1.060) translate(-52.16 -1172.7355)">0.20</text>
</g>
</g>
<g id="ytick_78">
<g id="line2d_374">
<g>
<path d="M 0 0 L 3.7 0" transform="translate(56.16 1149.216)" style="stroke: #000000; stroke-width: 0.5"/>
</g>
</g>
<g id="line2d_375">
<g>
<path d="M 0 0 L -3.7 0" transform="translate(807.84 1149.216)" style="stroke: #000000; stroke-width: 0.5"/>
</g>
</g>
<g id="text_179">
<text style="font-size: 8px; font-family: 'DejaVu Sans', 'Liberation Sans', sans-serif; text-anchor: end" x="52.16" y="1151.4235" transform="rotate(-0 52.16 1151.4235) translate(52.16 1151.4235) scale(1 1.060) translate(-52.16 -1151.4235)">0.22</text>
</g>
</g>
<g id="ytick_79">
<g id="line2d_376">
<g>
<path d="M 0 0 L 3.7 0" transform="translate(56.16 1127.904)" style="stroke: #000000; stroke-width: 0.5"/>
</g>
</g>
<g id="line2d_377">
<g>
<path d="M 0 0 L -3.7 0" transform="translate(807.84 1127.904)" style="stroke: #000000; stroke-width: 0.5"/>
</g>
</g>
<g id="text_180">
<text style="font-size: 8px; font-family: 'DejaVu Sans', 'Liberation Sans', sans-serif; text-anchor: end" x="52.16" y="1130.1115" transform="rotate(-0 52.16 1130.1115) translate(52.16 1130.1115) scale(1 1.060) translate(-52.16 -1130.1115)">0.24</text>
</g>
</g>
<g id="ytick_80">
<g id="line2d_378">
<g>
<path d="M 0 0 L 3.7 0" transform="translate(56.16 1106.592)" style="stroke: #000000; stroke-width: 0.5"/>
</g>
</g>
<g id="line2d_379">
<g>
<path d="M 0 0 L -3.7 0" transform="translate(807.84 1106.592)" style="stroke: #000000; stroke-width: 0.5"/>
</g>
</g>
<g id="text_181">
<text style="font-size: 8px; font-family: 'DejaVu Sans', 'Liberation Sans', sans-serif; text-anchor: end" x="52.16" y="1108.7995" transform="rotate(-0 52.16 1108.7995) translate(52.16 1108.7995) scale(1 1.060) translate(-52.16 -1108.7995)">0.26</text>
</g>
</g>
<g id="text_182">
<!-- $\beta_p$ -->
<g transform="translate(26.3875 1164.792) rotate(-90)">
<text>
<tspan x="0" y="-0.359375" style="font-size: 8px; font-family: 'Latin Modern Math', 'DejaVu Serif', serif; font-style: italic">β</tspan>
<tspan x="4.519531" y="1.001125" style="font-size: 5.6px; font-family: 'Latin Modern Roman', 'DejaVu Serif', serif; font-style: italic">p</tspan>
</text>
</g>
</g>
</g>
<g id="text_183">
<text style="font-size: 11.2px; font-family: 'DejaVu Sans', 'Liberation Sans', sans-serif; text-anchor: middle" x="432" y="1101.592" transform="rotate(-0 432 1101.592)">Plasma Beta</text>
</g>
</g>
<g id="axes_11">
<g id="patch_59">
<path d="M 56.16 1373.208 L 807.84 1373.208 L 807.84 1266.648 L 56.16 1266.648 z" style="fill: #ffffff"/>
</g>
<g id="line2d_380">
<path d="M 56.16 1314.557376 L 118.8 1277.346624 L 181.44 1280.07456 L 244.08 1325.000256 L 306.72 1362.807744 L 369.36 1299.212736 L 432 1334.292288 L 494.64 1307.439168 L 557.28 1357.351872 L 619.92 1353.17472 L 682.56 1373.208 L 745.2 1353.771456 L 807.84 1349.33856" clip-path="url(#pac8d762b2c)" style="fill: none; stroke: #0000ff; stroke-linecap: square"/>
</g>
<g id="patch_60">
<path d="M 56.16 1373.208 L 56.16 1266.648" style="fill: none; stroke: #000000; stroke-linejoin: miter; stroke-linecap: square"/>
</g>
<g id="patch_61">
<path d="M 807.84 1373.208 L 807.84 1266.648" style="fill: none; stroke: #000000; stroke-linejoin: miter; stroke-linecap: square"/>
</g>
<g id="patch_62">
<path d="M 56.16 1373.208 L 807.84 1373.208" style="fill: none; stroke: #000000; stroke-linejoin: miter; stroke-linecap: square"/>
</g>
<g id="patch_63">
<path d="M 56.16 1266.648 L 807.84 1266.648" style="fill: none; stroke: #000000; stroke-linejoin: miter; stroke-linecap: square"/>
</g>
<g id="matplotlib.axis_21">
<g id="xtick_57">
<g id="line2d_381">
<g>
<path d="M 0 0 L 0 -3.7" transform="translate(244.08 1373.208)" style="stroke: #000000; stroke-width: 0.5"/>
</g>
</g>
<g id="line2d_382">
<g>
<path d="M 0 0 L 0 3.7" transform="translate(244.08 1266.648)" style="stroke: #000000; stroke-width: 0.5"/>
</g>
</g>
<g id="text_184">
<text style="font-size: 8px; font-family: 'DejaVu Sans', 'Liberation Sans', sans-serif; text-anchor: middle" x="244.08" y="1384.28675" transform="rotate(-0 244.08 1384.28675) translate(244.08 1384.28675) scale(1 1.060) translate(-244.08 -1384.28675)">10/02 23:49:52</text>
</g>
</g>
<g id="xtick_58">
<g id="line2d_383">
<g>
<path d="M 0 0 L 0 -3.7" transform="translate(557.28 1373.208)" style="stroke: #000000; stroke-width: 0.5"/>
</g>
</g>
<g id="line2d_384">
<g>
<path d="M 0 0 L 0 3.7" transform="translate(557.28 1266.648)" style="stroke: #000000; stroke-width: 0.5"/>
</g>
</g>
<g id="text_185">
<text style="font-size: 8px; font-family: 'DejaVu Sans', 'Liberation Sans', sans-serif; text-anchor: middle" x="557.28" y="1384.28675" transform="rotate(-0 557.28 1384.28675) translate(557.28 1384.28675) scale(1 1.060) translate(-557.28 -1384.28675)">10/02 23:49:57</text>
</g>
</g>
</g>
<g id="matplotlib.axis_22">
<g id="ytick_81">
<g id="line2d_385">
<g>
<path d="M 0 0 L 3.7 0" transform="translate(56.16 1373.208)" style="stroke: #000000; stroke-width: 0.5"/>
</g>
</g>
<g id="line2d_386">
<g>
<path d="M 0 0 L -3.7 0" transform="translate(807.84 1373.208)" style="stroke: #000000; stroke-width: 0.5"/>
</g>
</g>
<g id="text_186">
<text style="font-size: 8px; font-family: 'DejaVu Sans', 'Liberation Sans', sans-serif; text-anchor: end" x="52.16" y="1375.4155" transform="rotate(-0 52.16 1375.4155) translate(52.16 1375.4155) scale(1 1.060) translate(-52.16 -1375.4155)">200</text>
</g>
</g>
<g id="ytick_82">
<g id="line2d_387">
<g>
<path d="M 0 0 L 3.7 0" transform="translate(56.16 1351.896)" style="stroke: #000000; stroke-width: 0.5"/>
</g>
</g>
<g id="line2d_388">
<g>
<path d="M 0 0 L -3.7 0" transform="translate(807.84 1351.896)" style="stroke: #000000; stroke-width: 0.5"/>
</g>
</g>
<g id="text_187">
<text style="font-size: 8px; font-family: 'DejaVu Sans', 'Liberation Sans', sans-serif; text-anchor: end" x="52.16" y="1354.1035" transform="rotate(-0 52.16 1354.1035) translate(52.16 1354.1035) scale(1 1.060) translate(-52.16 -1354.1035)">205</text>
</g>
</g>
<g id="ytick_83">
<g id="line2d_389">
<g>
<path d="M 0 0 L 3.7 0" transform="translate(56.16 1330.584)" style="stroke: #000000; stroke-width: 0.5"/>
</g>
</g>
<g id="line2d_390">
<g>
<path d="M 0 0 L -3.7 0" transform="translate(807.84 1330.584)" style="stroke: #000000; stroke-width: 0.5"/>
</g>
</g>
<g id="text_188">
<text style="font-size: 8px; font-family: 'DejaVu Sans', 'Liberation Sans', sans-serif; text-anchor: end" x="52.16" y="1332.7915" transform="rotate(-0 52.16 1332.7915) translate(52.16 1332.7915) scale(1 1.060) translate(-52.16 -1332.7915)">210</text>
</g>
</g>
<g id="ytick_84">
<g id="line2d_391">
<g>
<path d="M 0 0 L 3.7 0" transform="translate(56.16 1309.272)" style="stroke: #000000; stroke-width: 0.5"/>
</g>
</g>
<g id="line2d_392">
<g>
<path d="M 0 0 L -3.7 0" transform="translate(807.84 1309.272)" style="stroke: #000000; stroke-width: 0.5"/>
</g>
</g>
<g id="text_189">
<text style="font-size: 8px; font-family: 'DejaVu Sans', 'Liberation Sans', sans-serif; text-anchor: end" x="52.16" y="1311.4795" transform="rotate(-0 52.16 1311.4795) translate(52.16 1311.4795) scale(1 1.060) translate(-52.16 -1311.4795)">215</text>
</g>
</g>
<g id="ytick_85">
<g id="line2d_393">
<g>
<path d="M 0 0 L 3.7 0" transform="translate(56.16 1287.96)" style="stroke: #000000; stroke-width: 0.5"/>
</g>
</g>
<g id="line2d_394">
<g>
<path d="M 0 0 L -3.7 0" transform="translate(807.84 1287.96)" style="stroke: #000000; stroke-width: 0.5"/>
</g>
</g>
<g id="text_190">
<text style="font-size: 8px; font-family: 'DejaVu Sans', 'Liberation Sans', sans-serif; text-anchor: end" x="52.16" y="1290.1675" transform="rotate(-0 52.16 1290.1675) translate(52.16 1290.1675) scale(1 1.060) translate(-52.16 -1290.1675)">220</text>
</g>
</g>
<g id="ytick_86">
<g id="line2d_395">
<g>
<path d="M 0 0 L 3.7 0" transform="translate(56.16 1266.648)" style="stroke: #000000; stroke-width: 0.5"/>
</g>
</g>
<g id="line2d_396">
<g>
<path d="M 0 0 L -3.7 0" transform="translate(807.84 1266.648)" style="stroke: #000000; stroke-width: 0.5"/>
</g>
</g>
<g id="text_191">
<text style="font-size: 8px; font-family: 'DejaVu Sans', 'Liberation Sans', sans-serif; text-anchor: end" x="52.16" y="1268.8555" transform="rotate(-0 52.16 1268.8555) translate(52.16 1268.8555) scale(1 1.060) translate(-52.16 -1268.8555)">225</text>
</g>
</g>
<g id="text_192">
<text style="font-size: 8px; font-family: 'DejaVu Sans', 'Liberation Sans', sans-serif; text-anchor: middle" x="29.74625" y="1320.888" transform="rotate(-90 29.74625 1320.888) translate(29.74625 1320.888) scale(1 1.060) translate(-29.74625 -1320.888)">Np(#/cc)</text>
</g>
</g>
<g id="text_193">
<text style="font-size: 11.0656px; font-family: 'DejaVu Sans', 'Liberation Sans', sans-serif; text-anchor: middle" x="432" y="1261.648" transform="rotate(-0 432 1261.648)">Proton Number Density</text>
</g>
</g>
<g id="axes_12">
<g id="patch_64">
<path d="M 56.16 1533.552 L 807.84 1533.552 L 807.84 1426.992 L 56.16 1426.992 z" style="fill: #ffffff"/>
</g>
<g id="line2d_397">
<path d="M 56.16 1461.761006 L 118.8 1440.41856 L 181.44 1442.854217 L 244.08 1472.995474 L 306.72 1474.09152 L 369.36 1446.720823 L 432 1509.164983 L 494.64 1459.020891 L 557.28 1506.120411 L 619.92 1484.229943 L 682.56 1494.33792 L 745.2 1526.123246 L 807.84 1516.258834" clip-path="url(#p62f8d58a69)" style="fill: none; stroke: #0000ff; stroke-linecap: square"/>
</g>
<g id="patch_65">
<path d="M 56.16 1533.552 L 56.16 1426.992" style="fill: none; stroke: #000000; stroke-linejoin: miter; stroke-linecap: square"/>
</g>
<g id="patch_66">
<path d="M 807.84 1533.552 L 807.84 1426.992" style="fill: none; stroke: #000000; stroke-linejoin: miter; stroke-linecap: square"/>
</g>
<g id="patch_67">
<path d="M 56.16 1533.552 L 807.84 1533.552" style="fill: none; stroke: #000000; stroke-linejoin: miter; stroke-linecap: square"/>
</g>
<g id="patch_68">
<path d="M 56.16 1426.992 L 807.84 1426.992" style="fill: none; stroke: #000000; stroke-linejoin: miter; stroke-linecap: square"/>
</g>
<g id="matplotlib.axis_23">
<g id="xtick_59">
<g id="line2d_398">
<g>
<path d="M 0 0 L 0 -3.7" transform="translate(244.08 1533.552)" style="stroke: #000000; stroke-width: 0.5"/>
</g>
</g>
<g id="line2d_399">
<g>
<path d="M 0 0 L 0 3.7" transform="translate(244.08 1426.992)" style="stroke: #000000; stroke-width: 0.5"/>
</g>
</g>
<g id="text_194">
<text style="font-size: 8px; font-family: 'DejaVu Sans', 'Liberation Sans', sans-serif; text-anchor: middle" x="244.08" y="1544.63075" transform="rotate(-0 244.08 1544.63075) translate(244.08 1544.63075) scale(1 1.060) translate(-244.08 -1544.63075)">10/02 23:49:52</text>
</g>
</g>
<g id="xtick_60">
<g id="line2d_400">
<g>
<path d="M 0 0 L 0 -3.7" transform="translate(557.28 1533.552)" style="stroke: #000000; stroke-width: 0.5"/>
</g>
</g>
<g id="line2d_401">
<g>
<path d="M 0 0 L 0 3.7" transform="translate(557.28 1426.992)" style="stroke: #000000; stroke-width: 0.5"/>
</g>
</g>
<g id="text_195">
<text style="font-size: 8px; font-family: 'DejaVu Sans', 'Liberation Sans', sans-serif; text-anchor: middle" x="557.28" y="1544.63075" transform="rotate(-0 557.28 1544.63075) translate(557.28 1544.63075) scale(1 1.060) translate(-557.28 -1544.63075)">10/02 23:49:57</text>
</g>
</g>
</g>
<g id="matplotlib.axis_24">
<g id="ytick_87">
<g id="line2d_402">
<g>
<path d="M 0 0 L 3.7 0" transform="translate(56.16 1533.552)" style="stroke: #000000; stroke-width: 0.5"/>
</g>
</g>
<g id="line2d_403">
<g>
<path d="M 0 0 L -3.7 0" transform="translate(807.84 1533.552)" style="stroke: #000000; stroke-width: 0.5"/>
</g>
</g>
<g id="text_196">
<text style="font-size: 8px; font-family: 'DejaVu Sans', 'Liberation Sans', sans-serif; text-anchor: end" x="52.16" y="1535.7595" transform="rotate(-0 52.16 1535.7595) translate(52.16 1535.7595) scale(1 1.060) translate(-52.16 -1535.7595)">0.070</text>
</g>
</g>
<g id="ytick_88">
<g id="line2d_404">
<g>
<path d="M 0 0 L 3.7 0" transform="translate(56.16 1518.329143)" style="stroke: #000000; stroke-width: 0.5"/>
</g>
</g>
<g id="line2d_405">
<g>
<path d="M 0 0 L -3.7 0" transform="translate(807.84 1518.329143)" style="stroke: #000000; stroke-width: 0.5"/>
</g>
</g>
<g id="text_197">
<text style="font-size: 8px; font-family: 'DejaVu Sans', 'Liberation Sans', sans-serif; text-anchor: end" x="52.16" y="1520.536643" transform="rotate(-0 52.16 1520.536643) translate(52.16 1520.536643) scale(1 1.060) translate(-52.16 -1520.536643)">0.075</text>
</g>
</g>
<g id="ytick_89">
<g id="line2d_406">
<g>
<path d="M 0 0 L 3.7 0" transform="translate(56.16 1503.106286)" style="stroke: #000000; stroke-width: 0.5"/>
</g>
</g>
<g id="line2d_407">
<g>
<path d="M 0 0 L -3.7 0" transform="translate(807.84 1503.106286)" style="stroke: #000000; stroke-width: 0.5"/>
</g>
</g>
<g id="text_198">
<text style="font-size: 8px; font-family: 'DejaVu Sans', 'Liberation Sans', sans-serif; text-anchor: end" x="52.16" y="1505.313786" transform="rotate(-0 52.16 1505.313786) translate(52.16 1505.313786) scale(1 1.060) translate(-52.16 -1505.313786)">0.080</text>
</g>
</g>
<g id="ytick_90">
<g id="line2d_408">
<g>
<path d="M 0 0 L 3.7 0" transform="translate(56.16 1487.883429)" style="stroke: #000000; stroke-width: 0.5"/>
</g>
</g>
<g id="line2d_409">
<g>
<path d="M 0 0 L -3.7 0" transform="translate(807.84 1487.883429)" style="stroke: #000000; stroke-width: 0.5"/>
</g>
</g>
<g id="text_199">
<text style="font-size: 8px; font-family: 'DejaVu Sans', 'Liberation Sans', sans-serif; text-anchor: end" x="52.16" y="1490.090929" transform="rotate(-0 52.16 1490.090929) translate(52.16 1490.090929) scale(1 1.060) translate(-52.16 -1490.090929)">0.085</text>
</g>
</g>
<g id="ytick_91">
<g id="line2d_410">
<g>
<path d="M 0 0 L 3.7 0" transform="translate(56.16 1472.660571)" style="stroke: #000000; stroke-width: 0.5"/>
</g>
</g>
<g id="line2d_411">
<g>
<path d="M 0 0 L -3.7 0" transform="translate(807.84 1472.660571)" style="stroke: #000000; stroke-width: 0.5"/>
</g>
</g>
<g id="text_200">
<text style="font-size: 8px; font-family: 'DejaVu Sans', 'Liberation Sans', sans-serif; text-anchor: end" x="52.16" y="1474.868071" transform="rotate(-0 52.16 1474.868071) translate(52.16 1474.868071) scale(1 1.060) translate(-52.16 -1474.868071)">0.090</text>
</g>
</g>
<g id="ytick_92">
<g id="line2d_412">
<g>
<path d="M 0 0 L 3.7 0" transform="translate(56.16 1457.437714)" style="stroke: #000000; stroke-width: 0.5"/>
</g>
</g>
<g id="line2d_413">
<g>
<path d="M 0 0 L -3.7 0" transform="translate(807.84 1457.437714)" style="stroke: #000000; stroke-width: 0.5"/>
</g>
</g>
<g id="text_201">
<text style="font-size: 8px; font-family: 'DejaVu Sans', 'Liberation Sans', sans-serif; text-anchor: end" x="52.16" y="1459.645214" transform="rotate(-0 52.16 1459.645214) translate(52.16 1459.645214) scale(1 1.060) translate(-52.16 -1459.645214)">0.095</text>
</g>
</g>
<g id="ytick_93">
<g id="line2d_414">
<g>
<path d="M 0 0 L 3.7 0" transform="translate(56.16 1442.214857)" style="stroke: #000000; stroke-width: 0.5"/>
</g>
</g>
<g id="line2d_415">
<g>
<path d="M 0 0 L -3.7 0" transform="translate(807.84 1442.214857)" style="stroke: #000000; stroke-width: 0.5"/>
</g>
</g>
<g id="text_202">
<text style="font-size: 8px; font-family: 'DejaVu Sans', 'Liberation Sans', sans-serif; text-anchor: end" x="52.16" y="1444.422357" transform="rotate(-0 52.16 1444.422357) translate(52.16 1444.422357) scale(1 1.060) translate(-52.16 -1444.422357)">0.100</text>
</g>
</g>
<g id="ytick_94">
<g id="line2d_416">
<g>
<path d="M 0 0 L 3.7 0" transform="translate(56.16 1426.992)" style="stroke: #000000; stroke-width: 0.5"/>
</g>
</g>
<g id="line2d_417">
<g>
<path d="M 0 0 L -3.7 0" transform="translate(807.84 1426.992)" style="stroke: #000000; stroke-width: 0.5"/>
</g>
</g>
<g id="text_203">
<text style="font-size: 8px; font-family: 'DejaVu Sans', 'Liberation Sans', sans-serif; text-anchor: end" x="52.16" y="1429.1995" transform="rotate(-0 52.16 1429.1995) translate(52.16 1429.1995) scale(1 1.060) translate(-52.16 -1429.1995)">0.105</text>
</g>
</g>
<g id="text_204">
<!-- Tp($10^6$K) -->
<g transform="translate(22.0975 1497.832) rotate(-90)">
<text>
<tspan x="0" y="-0.209188" style="font-size: 8px; font-family: 'DejaVu Sans', 'Liberation Sans', sans-serif">T</tspan>
<tspan x="4.886719" y="-0.209188" style="font-size: 8px; font-family: 'DejaVu Sans', 'Liberation Sans', sans-serif">p</tspan>
<tspan x="9.964844" y="-0.209188" style="font-size: 8px; font-family: 'DejaVu Sans', 'Liberation Sans', sans-serif">(</tspan>
<tspan x="24.753256" y="-0.209188" style="font-size: 8px; font-family: 'DejaVu Sans', 'Liberation Sans', sans-serif">K</tspan>
<tspan x="29.99935" y="-0.209188" style="font-size: 8px; font-family: 'DejaVu Sans', 'Liberation Sans', sans-serif">)</tspan>
<tspan x="13.085938" y="-0.209188" style="font-size: 8px; font-family: 'Latin Modern Roman', 'DejaVu Serif', serif">1</tspan>
<tspan x="17.085938" y="-0.209188" style="font-size: 8px; font-family: 'Latin Modern Roman', 'DejaVu Serif', serif">0</tspan>
<tspan x="21.443069" y="-3.270313" style="font-size: 5.6px; font-family: 'Latin Modern Roman', 'DejaVu Serif', serif">6</tspan>
</text>
</g>
</g>
</g>
<g id="text_205">
<!-- Proton Temperature and $T_e/T_p$ -->
<g transform="translate(349.04664 1421.992)">
<text>
<tspan x="0" y="-0.640625" style="font-size: 10.9872px; font-family: 'DejaVu Sans', 'Liberation Sans', sans-serif">P</tspan>
<tspan x="6.633301" y="-0.640625" style="font-size: 10.9872px; font-family: 'DejaVu Sans', 'Liberation Sans', sans-serif">r</tspan>
<tspan x="11.155762" y="-0.640625" style="font-size: 10.9872px; font-family: 'DejaVu Sans', 'Liberation Sans', sans-serif">o</tspan>
<tspan x="17.885742" y="-0.640625" style="font-size: 10.9872px; font-family: 'DejaVu Sans', 'Liberation Sans', sans-serif">t</tspan>
<tspan x="22.19873" y="-0.640625" style="font-size: 10.9872px; font-family: 'DejaVu Sans', 'Liberation Sans', sans-serif">o</tspan>
<tspan x="28.928711" y="-0.640625" style="font-size: 10.9872px; font-family: 'DejaVu Sans', 'Liberation Sans', sans-serif">n</tspan>
<tspan x="35.900391" y="-0.640625" style="font-size: 10.9872px; font-family: 'DejaVu Sans', 'Liberation Sans', sans-serif"> </tspan>
<tspan x="39.396973" y="-0.640625" style="font-size: 10.9872px; font-family: 'DejaVu Sans', 'Liberation Sans', sans-serif">T</tspan>
<tspan x="46.116211" y="-0.640625" style="font-size: 10.9872px; font-family: 'DejaVu Sans', 'Liberation Sans', sans-serif">e</tspan>
<tspan x="52.883789" y="-0.640625" style="font-size: 10.9872px; font-family: 'DejaVu Sans', 'Liberation Sans', sans-serif">m</tspan>
<tspan x="63.599121" y="-0.640625" style="font-size: 10.9872px; font-family: 'DejaVu Sans', 'Liberation Sans', sans-serif">p</tspan>
<tspan x="70.581543" y="-0.640625" style="font-size: 10.9872px; font-family: 'DejaVu Sans', 'Liberation Sans', sans-serif">e</tspan>
<tspan x="77.349121" y="-0.640625" style="font-size: 10.9872px; font-family: 'DejaVu Sans', 'Liberation Sans', sans-serif">r</tspan>
<tspan x="81.871582" y="-0.640625" style="font-size: 10.9872px; font-family: 'DejaVu Sans', 'Liberation Sans', sans-serif">a</tspan>
<tspan x="88.612305" y="-0.640625" style="font-size: 10.9872px; font-family: 'DejaVu Sans', 'Liberation Sans', sans-serif">t</tspan>
<tspan x="92.925293" y="-0.640625" style="font-size: 10.9872px; font-family: 'DejaVu Sans', 'Liberation Sans', sans-serif">u</tspan>
<tspan x="99.896973" y="-0.640625" style="font-size: 10.9872px; font-family: 'DejaVu Sans', 'Liberation Sans', sans-serif">r</tspan>
<tspan x="104.419434" y="-0.640625" style="font-size: 10.9872px; font-family: 'DejaVu Sans', 'Liberation Sans', sans-serif">e</tspan>
<tspan x="111.187012" y="-0.640625" style="font-size: 10.9872px; font-family: 'DejaVu Sans', 'Liberation Sans', sans-serif"> </tspan>
<tspan x="114.683594" y="-0.640625" style="font-size: 10.9872px; font-family: 'DejaVu Sans', 'Liberation Sans', sans-serif">a</tspan>
<tspan x="121.424316" y="-0.640625" style="font-size: 10.9872px; font-family: 'DejaVu Sans', 'Liberation Sans', sans-serif">n</tspan>
<tspan x="128.395996" y="-0.640625" style="font-size: 10.9872px; font-family: 'DejaVu Sans', 'Liberation Sans', sans-serif">d</tspan>
<tspan x="135.378418" y="-0.640625" style="font-size: 10.9872px; font-family: 'DejaVu Sans', 'Liberation Sans', sans-serif"> </tspan>
<tspan x="138.875" y="-0.640625" style="font-size: 10.9872px; font-family: 'Latin Modern Roman', 'DejaVu Serif', serif; font-style: italic">T</tspan>
<tspan x="149.564608" y="-0.640625" style="font-size: 10.9872px; font-family: 'Latin Modern Math', 'DejaVu Serif', serif">/</tspan>
<tspan x="155.056795" y="-0.640625" style="font-size: 10.9872px; font-family: 'Latin Modern Roman', 'DejaVu Serif', serif; font-style: italic">T</tspan>
<tspan x="145.289703" y="1.227886" style="font-size: 7.69104px; font-family: 'Latin Modern Roman', 'DejaVu Serif', serif; font-style: italic">e</tspan>
<tspan x="161.471498" y="1.227886" style="font-size: 7.69104px; font-family: 'Latin Modern Roman', 'DejaVu Serif', serif; font-style: italic">p</tspan>
</text>
</g>
</g>
<g id="legend_7">
<g id="patch_69">
<path d="M 59.436 1443.432938 L 93.604875 1443.432938 L 93.604875 1430.268 L 59.436 1430.268 z" style="fill: #ffffff; stroke: #000000; stroke-linejoin: miter"/>
</g>
<g id="line2d_418">
<path d="M 64.584 1436.272781 L 74.334 1436.272781" style="fill: none; stroke: #0000ff; stroke-linecap: square"/>
</g>
<g id="text_206">
<text style="font-size: 7.8px; font-family: 'DejaVu Sans', 'Liberation Sans', sans-serif; font-stretch: condensed; text-anchor: start" x="82.056" y="1439.002781" transform="rotate(-0 82.056 1439.002781)">Tp</text>
</g>
</g>
</g>
</g>
<defs>
<clipPath id="pbce40ba86c">
<rect x="56.16" y="40.368" width="217.872" height="217.728"/>
</clipPath>
<clipPath id="pabd5baab2b">
<rect x="323.088" y="40.368" width="217.872" height="217.728"/>
</clipPath>
<clipPath id="pbc89be7920">
<rect x="590.016" y="40.368" width="217.872" height="217.728"/>
</clipPath>
<clipPath id="p0fcc5497d2">
<rect x="56.16" y="317.904" width="217.872" height="217.728"/>
</clipPath>
<clipPath id="p58be9113b1">
<rect x="323.088" y="317.904" width="217.872" height="217.728"/>
</clipPath>
<clipPath id="p28abb10b20">
<rect x="590.016" y="317.904" width="217.872" height="217.728"/>
</clipPath>
<clipPath id="p589fd2f7f6">
<rect x="56.16" y="626.376" width="751.68" height="106.56"/>
</clipPath>
<clipPath id="pb0c8ba24f0">
<rect x="56.16" y="786.576" width="751.68" height="106.56"/>
</clipPath>
<clipPath id="p43089eb495">
<rect x="56.16" y="946.536" width="751.68" height="106.56"/>
</clipPath>
<clipPath id="p804566e656">
<rect x="56.16" y="1106.592" width="751.68" height="106.56"/>
</clipPath>
<clipPath id="pac8d762b2c">
<rect x="56.16" y="1266.648" width="751.68" height="106.56"/>
</clipPath>
<clipPath id="p62f8d58a69">
<rect x="56.16" y="1426.992" width="751.68" height="106.56"/>
</clipPath>
</defs>
</svg>
</body></html>
